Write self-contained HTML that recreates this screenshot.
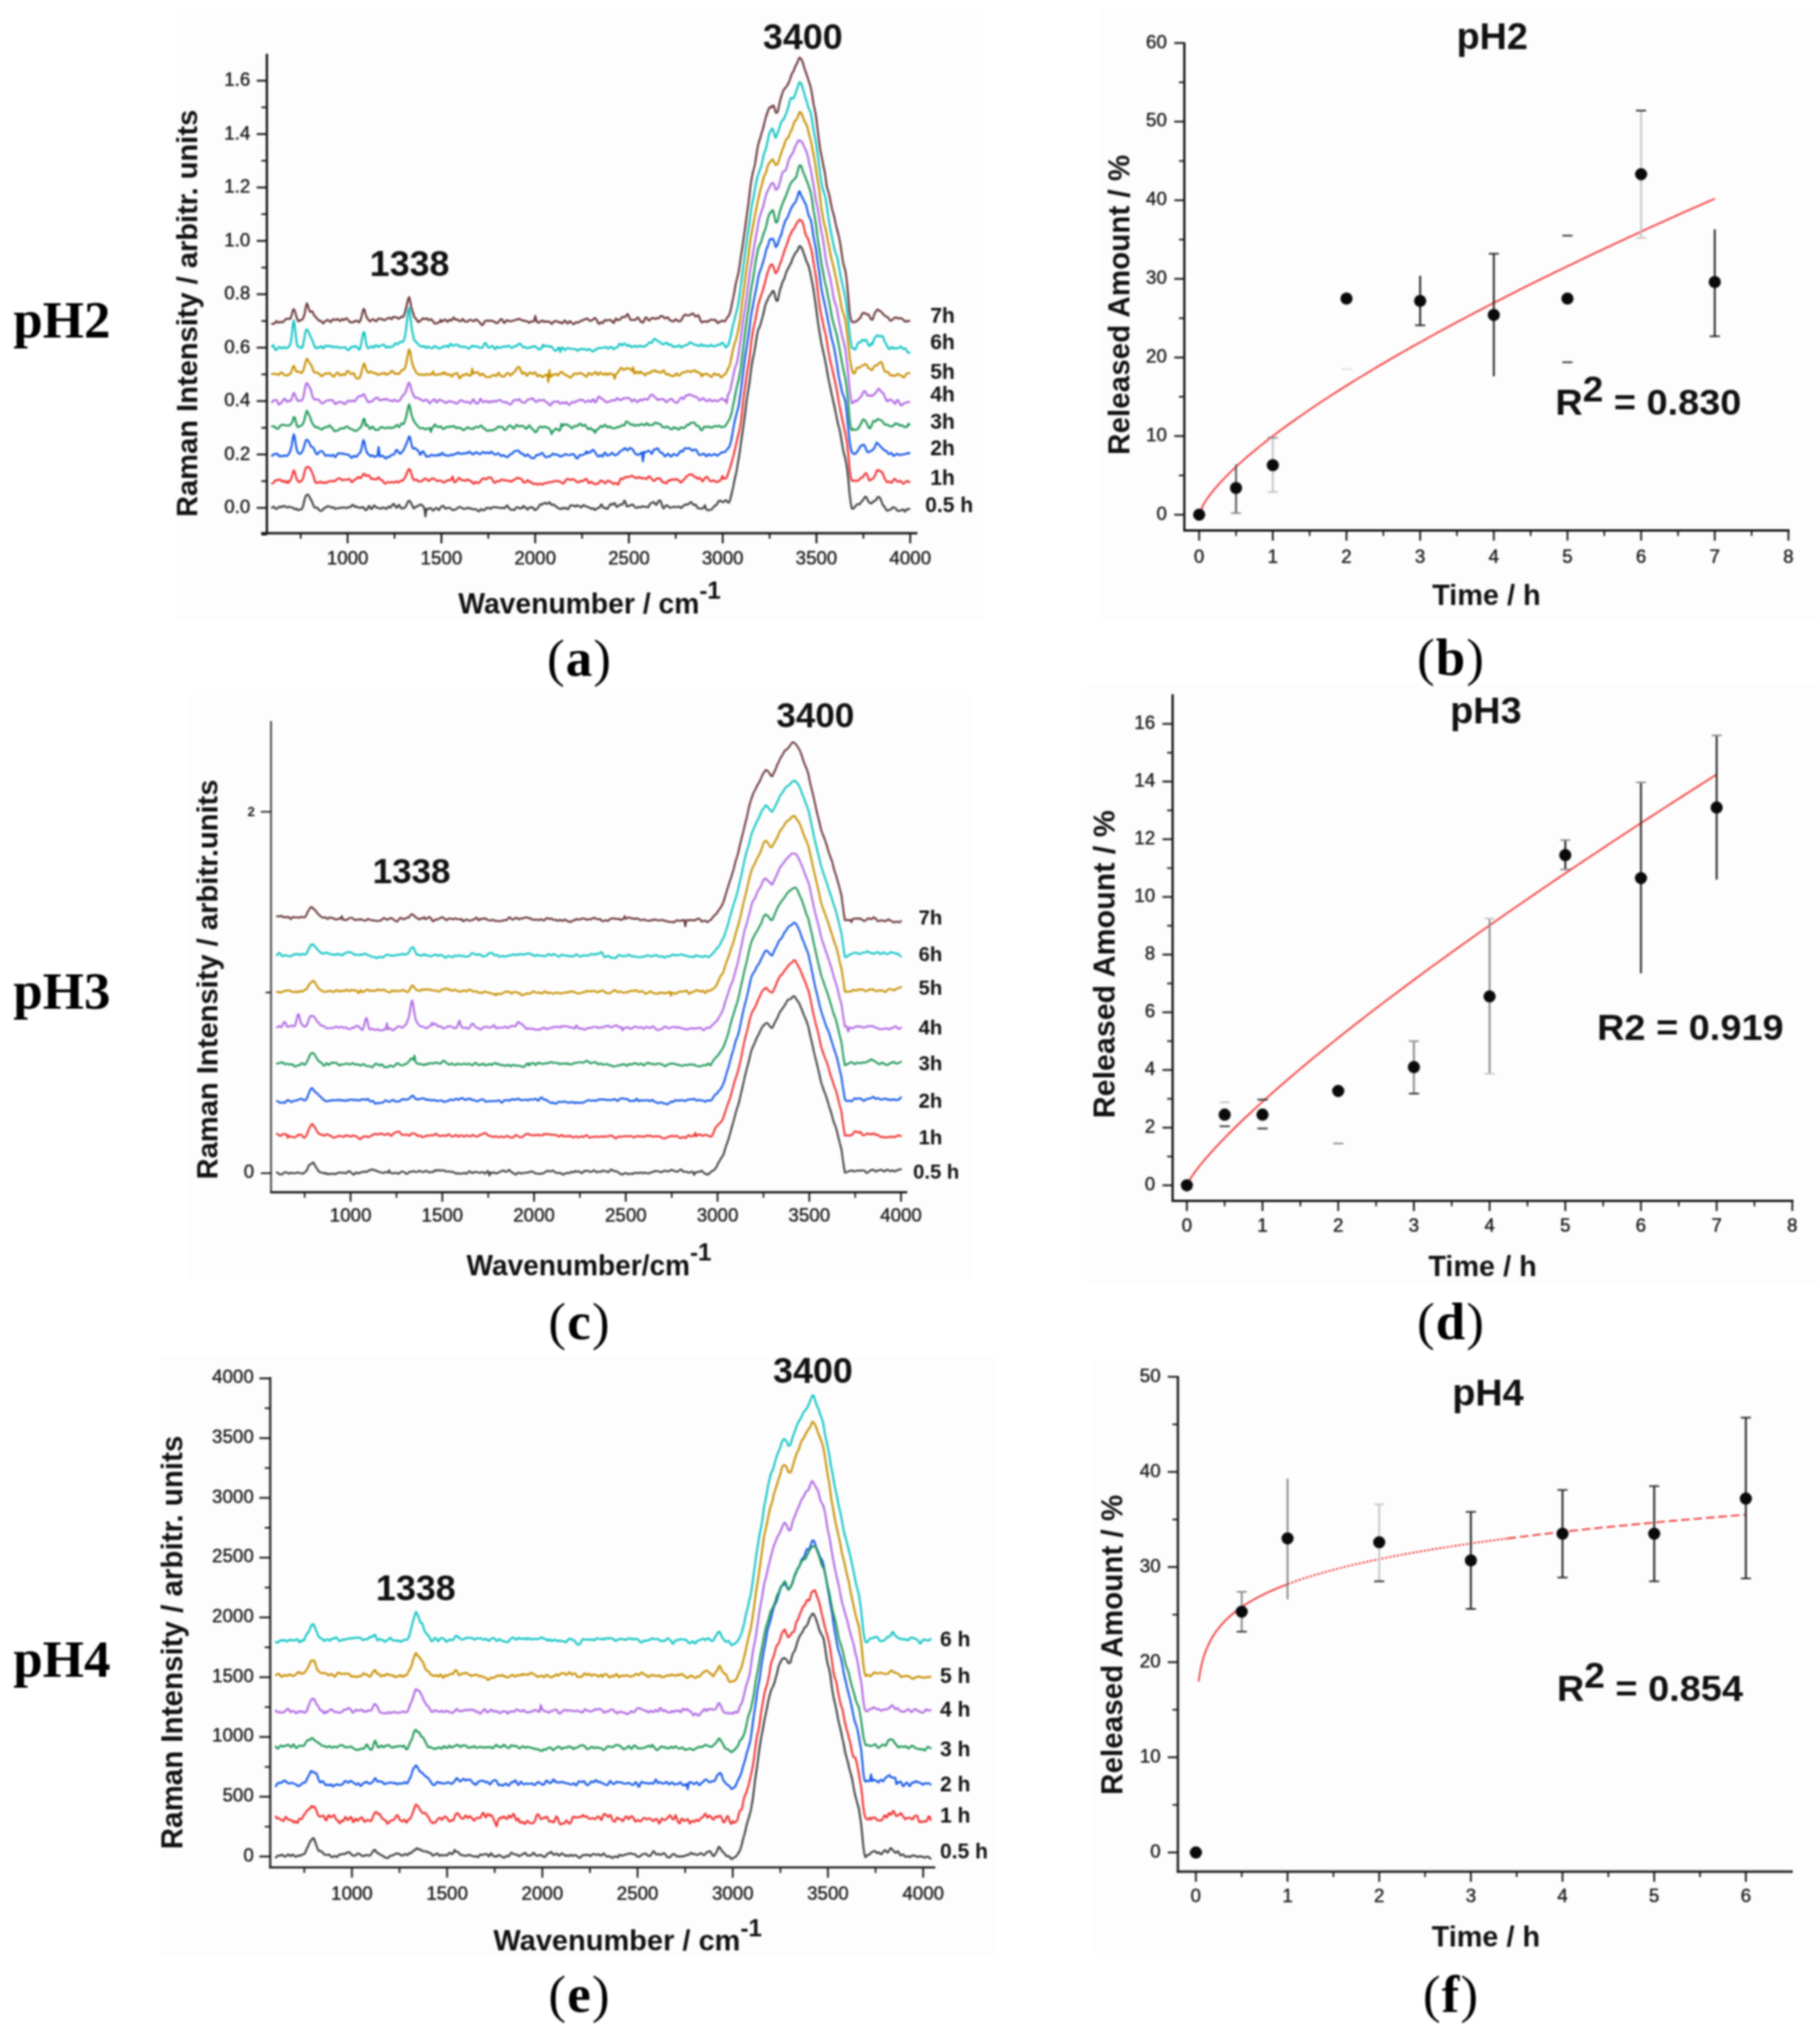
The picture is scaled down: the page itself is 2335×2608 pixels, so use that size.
<!DOCTYPE html>
<html><head><meta charset="utf-8"><title>Raman spectra and release profiles</title>
<style>
html,body{margin:0;padding:0;background:#fff}
svg{display:block}
.s{font-family:"Liberation Sans",Arial,Helvetica,sans-serif}
.r{font-family:"Liberation Serif","Times New Roman",Times,serif}
</style></head><body>
<svg width="2335" height="2608" viewBox="0 0 2335 2608">
<defs><filter id="soft" x="0" y="0" width="2335" height="2608" filterUnits="userSpaceOnUse" color-interpolation-filters="sRGB"><feGaussianBlur stdDeviation="0.8"/></filter></defs>
<rect width="2335" height="2608" fill="#ffffff"/>
<g filter="url(#soft)">
<rect x="225.0" y="13.0" width="1038.0" height="784.0" fill="#fdfdfd"/>
<rect x="1410.0" y="12.0" width="925.0" height="785.0" fill="#fdfdfd"/>
<rect x="241.0" y="891.0" width="1004.0" height="750.0" fill="#fdfdfd"/>
<rect x="1393.0" y="878.0" width="942.0" height="769.0" fill="#fdfdfd"/>
<rect x="206.0" y="1740.0" width="1073.0" height="770.0" fill="#fdfdfd"/>
<rect x="1401.0" y="1746.0" width="934.0" height="761.0" fill="#fdfdfd"/>
<line x1="342.4" y1="69.0" x2="342.4" y2="685.5" stroke="#151515" stroke-width="3.0" stroke-linecap="butt"/>
<line x1="335.0" y1="684.0" x2="1177.0" y2="684.0" stroke="#151515" stroke-width="3.0" stroke-linecap="butt"/>
<line x1="329.4" y1="651.5" x2="342.4" y2="651.5" stroke="#151515" stroke-width="2.4" stroke-linecap="butt"/>
<text class="s" x="321.0" y="658.1" font-size="24" stroke="#161616" stroke-width="0.45" text-anchor="end" fill="#161616">0.0</text>
<line x1="335.4" y1="617.2" x2="342.4" y2="617.2" stroke="#151515" stroke-width="2.2" stroke-linecap="butt"/>
<line x1="329.4" y1="583.0" x2="342.4" y2="583.0" stroke="#151515" stroke-width="2.4" stroke-linecap="butt"/>
<text class="s" x="321.0" y="589.6" font-size="24" stroke="#161616" stroke-width="0.45" text-anchor="end" fill="#161616">0.2</text>
<line x1="335.4" y1="548.8" x2="342.4" y2="548.8" stroke="#151515" stroke-width="2.2" stroke-linecap="butt"/>
<line x1="329.4" y1="514.5" x2="342.4" y2="514.5" stroke="#151515" stroke-width="2.4" stroke-linecap="butt"/>
<text class="s" x="321.0" y="521.1" font-size="24" stroke="#161616" stroke-width="0.45" text-anchor="end" fill="#161616">0.4</text>
<line x1="335.4" y1="480.2" x2="342.4" y2="480.2" stroke="#151515" stroke-width="2.2" stroke-linecap="butt"/>
<line x1="329.4" y1="446.0" x2="342.4" y2="446.0" stroke="#151515" stroke-width="2.4" stroke-linecap="butt"/>
<text class="s" x="321.0" y="452.6" font-size="24" stroke="#161616" stroke-width="0.45" text-anchor="end" fill="#161616">0.6</text>
<line x1="335.4" y1="411.8" x2="342.4" y2="411.8" stroke="#151515" stroke-width="2.2" stroke-linecap="butt"/>
<line x1="329.4" y1="377.5" x2="342.4" y2="377.5" stroke="#151515" stroke-width="2.4" stroke-linecap="butt"/>
<text class="s" x="321.0" y="384.1" font-size="24" stroke="#161616" stroke-width="0.45" text-anchor="end" fill="#161616">0.8</text>
<line x1="335.4" y1="343.2" x2="342.4" y2="343.2" stroke="#151515" stroke-width="2.2" stroke-linecap="butt"/>
<line x1="329.4" y1="309.0" x2="342.4" y2="309.0" stroke="#151515" stroke-width="2.4" stroke-linecap="butt"/>
<text class="s" x="321.0" y="315.6" font-size="24" stroke="#161616" stroke-width="0.45" text-anchor="end" fill="#161616">1.0</text>
<line x1="335.4" y1="274.7" x2="342.4" y2="274.7" stroke="#151515" stroke-width="2.2" stroke-linecap="butt"/>
<line x1="329.4" y1="240.5" x2="342.4" y2="240.5" stroke="#151515" stroke-width="2.4" stroke-linecap="butt"/>
<text class="s" x="321.0" y="247.1" font-size="24" stroke="#161616" stroke-width="0.45" text-anchor="end" fill="#161616">1.2</text>
<line x1="335.4" y1="206.2" x2="342.4" y2="206.2" stroke="#151515" stroke-width="2.2" stroke-linecap="butt"/>
<line x1="329.4" y1="172.0" x2="342.4" y2="172.0" stroke="#151515" stroke-width="2.4" stroke-linecap="butt"/>
<text class="s" x="321.0" y="178.6" font-size="24" stroke="#161616" stroke-width="0.45" text-anchor="end" fill="#161616">1.4</text>
<line x1="335.4" y1="137.7" x2="342.4" y2="137.7" stroke="#151515" stroke-width="2.2" stroke-linecap="butt"/>
<line x1="329.4" y1="103.5" x2="342.4" y2="103.5" stroke="#151515" stroke-width="2.4" stroke-linecap="butt"/>
<text class="s" x="321.0" y="110.1" font-size="24" stroke="#161616" stroke-width="0.45" text-anchor="end" fill="#161616">1.6</text>
<line x1="335.4" y1="685.8" x2="342.4" y2="685.8" stroke="#151515" stroke-width="2.2" stroke-linecap="butt"/>
<line x1="446.0" y1="684.0" x2="446.0" y2="697.0" stroke="#151515" stroke-width="2.4" stroke-linecap="butt"/>
<text class="s" x="446.0" y="724.0" font-size="24" stroke="#161616" stroke-width="0.45" text-anchor="middle" fill="#161616">1000</text>
<line x1="566.3" y1="684.0" x2="566.3" y2="697.0" stroke="#151515" stroke-width="2.4" stroke-linecap="butt"/>
<text class="s" x="566.3" y="724.0" font-size="24" stroke="#161616" stroke-width="0.45" text-anchor="middle" fill="#161616">1500</text>
<line x1="686.6" y1="684.0" x2="686.6" y2="697.0" stroke="#151515" stroke-width="2.4" stroke-linecap="butt"/>
<text class="s" x="686.6" y="724.0" font-size="24" stroke="#161616" stroke-width="0.45" text-anchor="middle" fill="#161616">2000</text>
<line x1="806.9" y1="684.0" x2="806.9" y2="697.0" stroke="#151515" stroke-width="2.4" stroke-linecap="butt"/>
<text class="s" x="806.9" y="724.0" font-size="24" stroke="#161616" stroke-width="0.45" text-anchor="middle" fill="#161616">2500</text>
<line x1="927.2" y1="684.0" x2="927.2" y2="697.0" stroke="#151515" stroke-width="2.4" stroke-linecap="butt"/>
<text class="s" x="927.2" y="724.0" font-size="24" stroke="#161616" stroke-width="0.45" text-anchor="middle" fill="#161616">3000</text>
<line x1="1047.5" y1="684.0" x2="1047.5" y2="697.0" stroke="#151515" stroke-width="2.4" stroke-linecap="butt"/>
<text class="s" x="1047.5" y="724.0" font-size="24" stroke="#161616" stroke-width="0.45" text-anchor="middle" fill="#161616">3500</text>
<line x1="1167.8" y1="684.0" x2="1167.8" y2="697.0" stroke="#151515" stroke-width="2.4" stroke-linecap="butt"/>
<text class="s" x="1167.8" y="724.0" font-size="24" stroke="#161616" stroke-width="0.45" text-anchor="middle" fill="#161616">4000</text>
<line x1="385.9" y1="684.0" x2="385.9" y2="691.0" stroke="#151515" stroke-width="2.2" stroke-linecap="butt"/>
<line x1="506.1" y1="684.0" x2="506.1" y2="691.0" stroke="#151515" stroke-width="2.2" stroke-linecap="butt"/>
<line x1="626.5" y1="684.0" x2="626.5" y2="691.0" stroke="#151515" stroke-width="2.2" stroke-linecap="butt"/>
<line x1="746.8" y1="684.0" x2="746.8" y2="691.0" stroke="#151515" stroke-width="2.2" stroke-linecap="butt"/>
<line x1="867.0" y1="684.0" x2="867.0" y2="691.0" stroke="#151515" stroke-width="2.2" stroke-linecap="butt"/>
<line x1="987.4" y1="684.0" x2="987.4" y2="691.0" stroke="#151515" stroke-width="2.2" stroke-linecap="butt"/>
<line x1="1107.7" y1="684.0" x2="1107.7" y2="691.0" stroke="#151515" stroke-width="2.2" stroke-linecap="butt"/>
<text class="s" x="252.8" y="402.0" font-size="37.3" font-weight="bold" text-anchor="middle" transform="rotate(-90 252.8 402.0)" fill="#111">Raman Intensity / arbitr. units</text>
<text class="s" x="588" y="787" font-size="36.3" font-weight="bold" fill="#111">Wavenumber / cm<tspan dy="-19" font-size="31">-1</tspan></text>
<text class="s" x="1030.0" y="62.6" font-size="46" font-weight="bold" text-anchor="middle" fill="#111">3400</text>
<text class="s" x="525.5" y="354.0" font-size="46" font-weight="bold" text-anchor="middle" fill="#111">1338</text>
<text class="s" x="1187.0" y="657.0" font-size="27" font-weight="bold" fill="#111">0.5 h</text>
<text class="s" x="1193.5" y="622.0" font-size="27" font-weight="bold" fill="#111">1h</text>
<text class="s" x="1193.5" y="584.0" font-size="27" font-weight="bold" fill="#111">2h</text>
<text class="s" x="1193.5" y="549.5" font-size="27" font-weight="bold" fill="#111">3h</text>
<text class="s" x="1193.5" y="515.0" font-size="27" font-weight="bold" fill="#111">4h</text>
<text class="s" x="1193.5" y="486.0" font-size="27" font-weight="bold" fill="#111">5h</text>
<text class="s" x="1193.5" y="448.0" font-size="27" font-weight="bold" fill="#111">6h</text>
<text class="s" x="1193.5" y="414.0" font-size="27" font-weight="bold" fill="#111">7h</text>
<polyline points="349.0,651.4 350.4,650.0 351.8,650.4 353.2,652.3 354.6,653.0 356.0,652.2 357.4,650.7 358.8,649.9 360.2,650.3 361.6,650.8 363.0,649.2 364.4,649.0 365.8,649.6 367.2,650.6 368.6,651.1 370.0,650.2 371.4,650.0 372.8,650.8 374.2,650.9 375.6,650.9 376.9,652.6 378.3,653.3 379.7,652.4 381.1,653.3 382.5,654.7 383.9,654.0 385.3,653.3 386.7,653.5 388.1,651.8 389.5,646.4 390.9,640.3 392.3,636.4 393.7,634.8 395.1,634.5 396.5,636.0 397.9,639.2 399.3,641.7 400.7,644.4 402.1,648.4 403.5,651.0 404.9,651.2 406.3,651.0 407.6,651.8 409.0,654.0 410.4,655.0 411.8,655.4 413.2,655.1 414.6,653.0 416.0,651.9 417.4,651.6 418.8,650.0 420.2,649.4 421.6,649.8 423.0,649.9 424.4,650.4 425.8,651.4 427.2,650.6 428.6,651.0 430.0,652.9 431.4,652.6 432.8,651.9 434.2,651.6 435.6,651.9 437.0,651.5 438.3,651.1 439.7,651.3 441.1,650.9 442.5,651.1 443.9,651.7 445.3,651.8 446.7,650.6 448.1,650.3 449.5,650.5 450.9,649.1 452.3,647.5 453.7,648.2 455.1,650.4 456.5,650.0 457.9,649.8 459.3,651.1 460.7,651.5 462.1,650.9 463.5,651.4 464.9,650.5 466.3,650.6 467.7,653.2 469.0,654.4 470.4,654.1 471.8,651.8 473.2,649.1 474.6,649.7 476.0,652.9 477.4,652.7 478.8,649.8 480.2,648.4 481.6,649.8 483.0,651.3 484.4,651.3 485.8,651.5 487.2,652.4 488.6,652.6 490.0,651.6 491.4,651.0 492.8,651.4 494.2,652.3 495.6,652.9 497.0,651.5 498.4,649.8 499.8,650.8 501.1,651.2 502.5,648.8 503.9,647.0 505.3,646.5 506.7,648.7 508.1,651.2 509.5,651.3 510.9,648.4 512.3,647.7 513.7,650.9 515.1,652.3 516.5,651.8 517.9,652.0 519.3,651.4 520.7,649.5 522.1,646.4 523.5,643.2 524.9,642.2 526.3,643.5 527.7,646.2 529.1,648.9 530.5,651.9 531.8,651.9 533.2,650.1 534.6,649.9 536.0,649.3 537.4,648.3 538.8,647.4 540.2,647.3 541.6,648.1 543.0,649.9 544.4,651.6 545.8,662.5 547.2,652.8 548.6,653.2 550.0,652.7 551.4,651.8 552.8,651.8 554.2,653.5 555.6,655.1 557.0,653.9 558.4,652.2 559.8,651.5 561.2,652.5 562.5,654.3 563.9,653.5 565.3,650.9 566.7,649.7 568.1,648.9 569.5,649.6 570.9,652.2 572.3,652.5 573.7,651.7 575.1,651.4 576.5,651.4 577.9,651.9 579.3,653.1 580.7,654.4 582.1,654.2 583.5,653.8 584.9,653.2 586.3,652.5 587.7,651.2 589.1,650.4 590.5,650.6 591.9,651.1 593.2,651.8 594.6,652.7 596.0,652.9 597.4,652.6 598.8,651.8 600.2,651.3 601.6,651.7 603.0,652.5 604.4,652.0 605.8,652.8 607.2,653.5 608.6,653.3 610.0,653.3 611.4,653.6 612.8,655.0 614.2,656.1 615.6,655.1 617.0,653.1 618.4,653.6 619.8,654.7 621.2,654.4 622.6,653.2 623.9,651.5 625.3,652.0 626.7,651.4 628.1,651.6 629.5,652.8 630.9,651.7 632.3,650.4 633.7,650.6 635.1,650.7 636.5,650.5 637.9,651.0 639.3,651.4 640.7,651.6 642.1,651.6 643.5,651.8 644.9,651.2 646.3,651.7 647.7,651.9 649.1,649.9 650.5,648.4 651.9,650.0 653.3,652.3 654.6,653.1 656.0,653.9 657.4,653.9 658.8,654.1 660.2,654.2 661.6,652.0 663.0,650.7 664.4,650.8 665.8,651.7 667.2,652.4 668.6,651.6 670.0,651.9 671.4,649.1 672.8,650.2 674.2,650.9 675.6,652.6 677.0,653.7 678.4,651.9 679.8,650.7 681.2,651.0 682.6,650.8 684.0,651.3 685.3,653.5 686.7,654.5 688.1,653.3 689.5,652.1 690.9,650.6 692.3,647.9 693.7,646.7 695.1,647.4 696.5,646.6 697.9,645.5 699.3,645.2 700.7,645.7 702.1,646.5 703.5,645.4 704.9,644.2 706.3,645.9 707.7,647.8 709.1,647.4 710.5,647.1 711.9,648.7 713.3,649.9 714.7,650.2 716.0,651.9 717.4,652.3 718.8,652.9 720.2,653.1 721.6,651.5 723.0,651.6 724.4,652.4 725.8,651.6 727.2,652.2 728.6,653.2 730.0,651.6 731.4,649.1 732.8,648.1 734.2,648.4 735.6,648.8 737.0,648.9 738.4,650.1 739.8,648.3 741.2,648.6 742.6,649.0 744.0,649.6 745.4,651.0 746.7,650.1 748.1,647.9 749.5,648.3 750.9,649.4 752.3,649.7 753.7,650.2 755.1,650.7 756.5,651.4 757.9,652.3 759.3,652.7 760.7,651.8 762.1,653.0 763.5,654.3 764.9,653.1 766.3,651.8 767.7,651.4 769.1,651.2 770.5,648.4 771.9,646.9 773.3,650.1 774.7,651.7 776.1,651.5 777.5,652.0 778.8,653.0 780.2,651.7 781.6,648.9 783.0,647.0 784.4,646.3 785.8,647.4 787.2,646.3 788.6,645.2 790.0,648.3 791.4,650.4 792.8,649.7 794.2,648.3 795.6,647.1 797.0,647.3 798.4,647.3 799.8,644.8 801.2,642.2 802.6,644.8 804.0,649.3 805.4,649.8 806.8,649.0 808.2,648.4 809.5,648.0 810.9,647.2 812.3,647.9 813.7,649.5 815.1,651.0 816.5,651.7 817.9,651.0 819.3,650.1 820.7,650.7 822.1,650.9 823.5,649.7 824.9,649.5 826.3,650.0 827.7,650.2 829.1,650.1 830.5,650.7 831.9,650.7 833.3,647.4 834.7,645.7 836.1,645.4 837.5,644.3 838.9,644.2 840.2,645.9 841.6,647.8 843.0,646.3 844.4,643.6 845.8,642.0 847.2,642.3 848.6,645.4 850.0,650.3 851.4,652.2 852.8,650.2 854.2,648.7 855.6,648.3 857.0,649.1 858.4,650.4 859.8,651.5 861.2,650.9 862.6,650.6 864.0,650.2 865.4,650.1 866.8,650.5 868.2,650.6 869.6,650.3 870.9,649.9 872.3,650.5 873.7,651.7 875.1,650.9 876.5,648.8 877.9,648.2 879.3,647.3 880.7,647.0 882.1,647.3 883.5,646.6 884.9,645.0 886.3,644.0 887.7,644.9 889.1,647.2 890.5,648.0 891.9,647.3 893.3,648.2 894.7,651.4 896.1,652.0 897.5,652.0 898.9,652.4 900.3,652.7 901.6,651.8 903.0,650.9 904.4,648.1 905.8,653.1 907.2,654.1 908.6,654.8 910.0,654.2 911.4,653.9 912.8,653.6 914.2,652.2 915.6,650.5 917.0,648.8 918.4,648.3 919.8,646.9 921.2,644.1 922.6,642.4 924.0,642.1 925.4,642.9 926.8,644.0 928.2,644.2 929.6,642.9 931.0,641.5 932.3,642.4 933.7,644.4 935.1,644.8 936.5,642.2 937.9,636.4 939.3,630.8 940.7,624.4 942.1,616.9 943.5,611.0 944.9,605.0 946.3,596.1 947.7,588.4 949.1,579.8 950.5,568.9 951.9,559.5 953.3,550.0 954.7,540.1 956.1,529.6 957.5,517.4 958.9,507.3 960.3,498.8 961.7,489.6 963.0,479.7 964.4,468.5 965.8,460.5 967.2,454.7 968.6,446.9 970.0,437.8 971.4,429.2 972.8,422.7 974.2,420.3 975.6,416.6 977.0,411.3 978.4,406.5 979.8,400.9 981.2,394.1 982.6,389.1 984.0,386.3 985.4,383.2 986.8,379.9 988.2,378.6 989.6,376.4 991.0,373.5 992.4,373.3 993.7,376.8 995.1,383.4 996.5,386.0 997.9,385.6 999.3,378.4 1000.7,371.8 1002.1,368.0 1003.5,363.1 1004.9,359.7 1006.3,357.5 1007.7,352.5 1009.1,348.0 1010.5,345.7 1011.9,343.0 1013.3,340.0 1014.7,338.0 1016.1,333.9 1017.5,330.1 1018.9,327.8 1020.3,324.7 1021.7,323.2 1023.1,321.6 1024.5,317.8 1025.8,315.6 1027.2,316.1 1028.6,318.2 1030.0,321.4 1031.4,325.6 1032.8,329.6 1034.2,334.0 1035.6,337.4 1037.0,340.2 1038.4,345.1 1039.8,351.1 1041.2,358.8 1042.6,365.4 1044.0,373.8 1045.4,383.7 1046.8,393.3 1048.2,404.0 1049.6,414.6 1051.0,423.6 1052.4,431.9 1053.8,440.3 1055.2,447.0 1056.5,452.5 1057.9,458.8 1059.3,466.0 1060.7,473.5 1062.1,481.7 1063.5,489.0 1064.9,495.5 1066.3,502.3 1067.7,508.8 1069.1,515.4 1070.5,520.9 1071.9,528.0 1073.3,535.1 1074.7,541.9 1076.1,547.2 1077.5,552.8 1078.9,560.3 1080.3,569.0 1081.7,577.2 1083.1,583.1 1084.5,587.8 1085.9,595.8 1087.2,604.4 1088.6,617.4 1090.0,633.4 1091.4,644.9 1092.8,652.1 1094.2,652.8 1095.6,651.9 1097.0,649.9 1098.4,648.4 1099.8,647.0 1101.2,646.6 1102.6,647.1 1104.0,645.5 1105.4,643.2 1106.8,642.2 1108.2,640.0 1109.6,637.5 1111.0,637.2 1112.4,639.4 1113.8,642.7 1115.2,644.7 1116.6,645.3 1117.9,646.0 1119.3,644.8 1120.7,643.0 1122.1,642.8 1123.5,641.9 1124.9,639.5 1126.3,637.6 1127.7,637.5 1129.1,638.9 1130.5,641.9 1131.9,646.2 1133.3,648.6 1134.7,650.0 1136.1,652.5 1137.5,654.7 1138.9,655.1 1140.3,654.5 1141.7,653.8 1143.1,653.5 1144.5,651.7 1145.9,650.5 1147.3,651.2 1148.6,651.6 1150.0,653.3 1151.4,655.2 1152.8,655.6 1154.2,655.2 1155.6,654.5 1157.0,654.5 1158.4,653.5 1159.8,654.7 1161.2,656.4 1162.6,654.2 1164.0,652.8 1165.4,653.5 1166.8,652.8" fill="none" stroke="#404040" stroke-width="2.5" stroke-linejoin="round" stroke-linecap="round"/>
<polyline points="349.0,620.3 350.4,619.7 351.8,618.3 353.2,616.1 354.6,616.0 356.0,616.1 357.4,615.4 358.8,615.1 360.2,615.7 361.6,617.4 363.0,617.9 364.4,616.8 365.8,618.0 367.2,619.4 368.6,617.3 370.0,619.2 371.4,617.6 372.8,615.5 374.2,612.2 375.6,606.7 376.9,603.5 378.3,605.7 379.7,611.9 381.1,615.6 382.5,617.1 383.9,618.5 385.3,617.9 386.7,616.8 388.1,615.4 389.5,611.1 390.9,604.8 392.3,600.3 393.7,598.9 395.1,599.1 396.5,599.5 397.9,600.9 399.3,603.7 400.7,606.7 402.1,610.3 403.5,615.5 404.9,619.0 406.3,619.5 407.6,618.7 409.0,619.3 410.4,618.3 411.8,617.7 413.2,619.3 414.6,619.7 416.0,618.9 417.4,618.8 418.8,619.6 420.2,618.6 421.6,617.5 423.0,617.7 424.4,617.4 425.8,616.8 427.2,617.2 428.6,617.6 430.0,616.8 431.4,615.5 432.8,614.7 434.2,613.9 435.6,613.6 437.0,614.1 438.3,615.6 439.7,616.0 441.1,615.6 442.5,615.3 443.9,615.2 445.3,615.5 446.7,614.8 448.1,614.2 449.5,615.8 450.9,618.3 452.3,618.3 453.7,616.3 455.1,615.4 456.5,614.7 457.9,613.6 459.3,612.0 460.7,612.3 462.1,613.6 463.5,612.4 464.9,610.1 466.3,608.0 467.7,607.8 469.0,610.1 470.4,610.8 471.8,609.6 473.2,609.8 474.6,611.5 476.0,613.9 477.4,614.7 478.8,613.9 480.2,614.4 481.6,615.1 483.0,615.1 484.4,613.5 485.8,612.3 487.2,614.1 488.6,615.6 490.0,616.0 491.4,617.1 492.8,619.5 494.2,620.5 495.6,619.5 497.0,618.6 498.4,618.8 499.8,619.1 501.1,618.8 502.5,618.2 503.9,618.5 505.3,619.3 506.7,618.5 508.1,617.4 509.5,618.1 510.9,619.1 512.3,618.3 513.7,616.9 515.1,616.5 516.5,616.7 517.9,615.1 519.3,613.3 520.7,610.4 522.1,606.7 523.5,603.3 524.9,601.6 526.3,603.3 527.7,607.2 529.1,612.0 530.5,615.4 531.8,616.1 533.2,615.2 534.6,615.3 536.0,617.0 537.4,617.8 538.8,617.5 540.2,617.3 541.6,617.0 543.0,615.6 544.4,614.1 545.8,613.7 547.2,614.6 548.6,616.1 550.0,616.8 551.4,616.3 552.8,614.6 554.2,613.8 555.6,614.0 557.0,614.1 558.4,615.3 559.8,616.6 561.2,617.0 562.5,616.5 563.9,616.6 565.3,616.7 566.7,617.1 568.1,618.4 569.5,619.2 570.9,618.4 572.3,617.3 573.7,616.4 575.1,615.8 576.5,616.2 577.9,615.8 579.3,614.4 580.7,611.2 582.1,617.4 583.5,618.8 584.9,618.0 586.3,616.1 587.7,613.9 589.1,613.0 590.5,614.6 591.9,615.7 593.2,616.0 594.6,616.0 596.0,616.6 597.4,616.7 598.8,615.5 600.2,615.2 601.6,615.7 603.0,617.0 604.4,617.4 605.8,618.3 607.2,620.5 608.6,620.2 610.0,618.2 611.4,618.5 612.8,619.9 614.2,619.6 615.6,618.5 617.0,616.5 618.4,614.5 619.8,614.0 621.2,613.4 622.6,614.6 623.9,615.0 625.3,613.4 626.7,612.7 628.1,612.5 629.5,612.6 630.9,613.8 632.3,616.1 633.7,619.0 635.1,619.3 636.5,617.9 637.9,617.3 639.3,617.4 640.7,617.6 642.1,616.0 643.5,614.9 644.9,615.6 646.3,616.2 647.7,616.1 649.1,616.0 650.5,616.6 651.9,617.1 653.3,616.8 654.6,617.2 656.0,618.0 657.4,616.9 658.8,615.8 660.2,615.3 661.6,614.6 663.0,613.1 664.4,612.8 665.8,613.7 667.2,613.8 668.6,614.1 670.0,615.8 671.4,618.4 672.8,619.3 674.2,618.6 675.6,617.3 677.0,615.8 678.4,617.4 679.8,618.4 681.2,618.0 682.6,619.5 684.0,621.0 685.3,620.4 686.7,620.2 688.1,620.8 689.5,621.6 690.9,621.3 692.3,620.4 693.7,620.6 695.1,621.4 696.5,621.4 697.9,620.6 699.3,619.6 700.7,619.6 702.1,619.8 703.5,618.9 704.9,618.6 706.3,618.4 707.7,618.4 709.1,617.8 710.5,617.5 711.9,617.3 713.3,616.9 714.7,616.9 716.0,617.1 717.4,617.7 718.8,618.3 720.2,618.7 721.6,620.1 723.0,620.2 724.4,618.2 725.8,616.1 727.2,614.6 728.6,614.3 730.0,615.0 731.4,615.8 732.8,615.3 734.2,614.5 735.6,614.9 737.0,615.7 738.4,616.8 739.8,618.1 741.2,618.8 742.6,618.5 744.0,617.2 745.4,617.1 746.7,617.3 748.1,616.8 749.5,616.2 750.9,614.7 752.3,614.2 753.7,616.6 755.1,619.5 756.5,619.8 757.9,617.8 759.3,618.5 760.7,619.9 762.1,620.1 763.5,621.2 764.9,621.1 766.3,620.3 767.7,620.0 769.1,618.6 770.5,616.4 771.9,616.8 773.3,617.6 774.7,618.7 776.1,620.0 777.5,619.2 778.8,617.4 780.2,616.7 781.6,617.5 783.0,618.0 784.4,618.6 785.8,619.7 787.2,621.0 788.6,619.9 790.0,619.5 791.4,620.8 792.8,621.8 794.2,619.5 795.6,615.4 797.0,613.4 798.4,614.7 799.8,614.6 801.2,612.6 802.6,611.8 804.0,612.0 805.4,612.1 806.8,611.9 808.2,611.3 809.5,610.6 810.9,610.3 812.3,611.2 813.7,612.2 815.1,612.8 816.5,613.2 817.9,613.3 819.3,612.0 820.7,612.1 822.1,613.0 823.5,613.9 824.9,613.3 826.3,613.2 827.7,614.0 829.1,614.6 830.5,613.5 831.9,611.2 833.3,611.2 834.7,612.8 836.1,614.2 837.5,615.8 838.9,617.0 840.2,616.4 841.6,614.6 843.0,613.8 844.4,614.0 845.8,613.5 847.2,614.1 848.6,616.5 850.0,618.7 851.4,618.6 852.8,618.7 854.2,620.2 855.6,619.7 857.0,616.7 858.4,616.2 859.8,616.5 861.2,615.2 862.6,614.8 864.0,615.5 865.4,615.6 866.8,614.7 868.2,614.3 869.6,615.6 870.9,616.5 872.3,617.7 873.7,619.3 875.1,617.9 876.5,616.1 877.9,614.7 879.3,613.1 880.7,611.4 882.1,610.1 883.5,609.4 884.9,608.8 886.3,608.5 887.7,608.8 889.1,609.6 890.5,611.4 891.9,611.7 893.3,612.4 894.7,614.2 896.1,613.9 897.5,612.8 898.9,614.0 900.3,616.5 901.6,617.5 903.0,615.1 904.4,613.2 905.8,612.1 907.2,611.8 908.6,613.8 910.0,615.9 911.4,617.1 912.8,617.2 914.2,616.7 915.6,616.2 917.0,617.0 918.4,618.5 919.8,618.3 921.2,617.4 922.6,617.6 924.0,616.2 925.4,614.4 926.8,610.5 928.2,614.1 929.6,613.5 931.0,613.9 932.3,612.5 933.7,609.1 935.1,604.7 936.5,600.8 937.9,595.4 939.3,591.0 940.7,586.0 942.1,580.1 943.5,574.0 944.9,567.9 946.3,561.3 947.7,556.2 949.1,549.8 950.5,542.0 951.9,530.0 953.3,516.2 954.7,505.1 956.1,495.1 957.5,484.8 958.9,475.2 960.3,467.3 961.7,458.4 963.0,447.1 964.4,434.9 965.8,426.0 967.2,418.8 968.6,412.8 970.0,406.1 971.4,398.0 972.8,390.8 974.2,386.1 975.6,381.7 977.0,377.6 978.4,373.3 979.8,368.7 981.2,363.6 982.6,357.8 984.0,352.3 985.4,347.9 986.8,344.4 988.2,340.7 989.6,339.2 991.0,339.5 992.4,343.1 993.7,346.7 995.1,350.6 996.5,349.1 997.9,347.1 999.3,342.6 1000.7,338.4 1002.1,335.2 1003.5,331.1 1004.9,326.4 1006.3,321.9 1007.7,318.3 1009.1,314.7 1010.5,310.6 1011.9,306.3 1013.3,302.2 1014.7,299.9 1016.1,296.6 1017.5,294.2 1018.9,293.3 1020.3,290.5 1021.7,287.3 1023.1,285.0 1024.5,283.3 1025.8,281.9 1027.2,282.6 1028.6,283.4 1030.0,285.9 1031.4,291.4 1032.8,297.8 1034.2,302.1 1035.6,304.6 1037.0,307.1 1038.4,312.1 1039.8,316.4 1041.2,321.8 1042.6,329.3 1044.0,338.3 1045.4,346.9 1046.8,354.7 1048.2,365.8 1049.6,378.5 1051.0,388.9 1052.4,397.8 1053.8,405.1 1055.2,410.9 1056.5,418.2 1057.9,424.0 1059.3,429.0 1060.7,437.2 1062.1,446.1 1063.5,454.1 1064.9,461.6 1066.3,467.5 1067.7,473.2 1069.1,479.9 1070.5,485.8 1071.9,492.3 1073.3,498.9 1074.7,506.8 1076.1,515.4 1077.5,523.1 1078.9,529.7 1080.3,536.5 1081.7,543.0 1083.1,549.7 1084.5,555.4 1085.9,563.4 1087.2,572.4 1088.6,585.5 1090.0,601.7 1091.4,611.8 1092.8,616.6 1094.2,616.8 1095.6,616.5 1097.0,616.8 1098.4,617.0 1099.8,617.0 1101.2,616.1 1102.6,615.3 1104.0,613.5 1105.4,612.5 1106.8,612.4 1108.2,610.5 1109.6,607.7 1111.0,607.2 1112.4,608.7 1113.8,612.6 1115.2,616.3 1116.6,615.9 1117.9,615.2 1119.3,614.5 1120.7,613.0 1122.1,611.1 1123.5,607.9 1124.9,604.0 1126.3,602.9 1127.7,603.8 1129.1,603.9 1130.5,605.4 1131.9,606.0 1133.3,609.5 1134.7,613.1 1136.1,615.6 1137.5,617.9 1138.9,618.7 1140.3,617.7 1141.7,618.1 1143.1,619.2 1144.5,618.8 1145.9,616.2 1147.3,614.2 1148.6,614.7 1150.0,616.3 1151.4,618.0 1152.8,617.9 1154.2,617.1 1155.6,617.0 1157.0,618.8 1158.4,620.4 1159.8,620.1 1161.2,618.8 1162.6,617.2 1164.0,617.1 1165.4,618.0 1166.8,618.5" fill="none" stroke="#f03030" stroke-width="2.5" stroke-linejoin="round" stroke-linecap="round"/>
<polyline points="349.0,584.7 350.4,583.5 351.8,582.4 353.2,582.7 354.6,582.1 356.0,582.1 357.4,584.4 358.8,585.5 360.2,584.6 361.6,585.2 363.0,585.2 364.4,584.3 365.8,584.2 367.2,585.0 368.6,584.7 370.0,582.9 371.4,580.8 372.8,577.4 374.2,571.8 375.6,562.6 376.9,557.2 378.3,561.6 379.7,571.5 381.1,578.3 382.5,580.6 383.9,582.0 385.3,582.0 386.7,580.9 388.1,578.7 389.5,574.9 390.9,570.2 392.3,565.0 393.7,564.0 395.1,565.1 396.5,567.1 397.9,570.6 399.3,573.1 400.7,573.5 402.1,574.3 403.5,577.4 404.9,580.8 406.3,582.9 407.6,582.5 409.0,580.3 410.4,579.1 411.8,578.7 413.2,578.8 414.6,580.1 416.0,582.6 417.4,584.4 418.8,584.6 420.2,584.0 421.6,583.8 423.0,584.5 424.4,585.2 425.8,584.1 427.2,583.2 428.6,584.8 430.0,586.5 431.4,584.8 432.8,582.7 434.2,581.5 435.6,581.5 437.0,581.7 438.3,582.2 439.7,582.0 441.1,581.9 442.5,582.8 443.9,583.1 445.3,583.0 446.7,583.2 448.1,584.1 449.5,585.7 450.9,587.5 452.3,586.6 453.7,584.9 455.1,585.0 456.5,586.1 457.9,585.5 459.3,583.4 460.7,581.8 462.1,580.5 463.5,577.2 464.9,570.1 466.3,564.4 467.7,567.7 469.0,575.2 470.4,579.6 471.8,582.0 473.2,583.1 474.6,584.8 476.0,585.2 477.4,583.9 478.8,584.9 480.2,586.1 481.6,585.2 483.0,585.5 484.4,583.8 485.8,573.4 487.2,585.5 488.6,585.4 490.0,584.7 491.4,584.8 492.8,586.2 494.2,588.0 495.6,588.0 497.0,586.1 498.4,586.3 499.8,586.1 501.1,584.5 502.5,583.4 503.9,583.3 505.3,583.1 506.7,580.9 508.1,577.6 509.5,577.1 510.9,579.4 512.3,581.2 513.7,582.2 515.1,580.7 516.5,578.9 517.9,577.3 519.3,573.9 520.7,570.7 522.1,567.7 523.5,563.7 524.9,559.6 526.3,561.7 527.7,568.8 529.1,574.4 530.5,575.5 531.8,574.7 533.2,575.4 534.6,576.8 536.0,577.8 537.4,579.8 538.8,583.3 540.2,582.6 541.6,579.3 543.0,579.1 544.4,581.2 545.8,583.8 547.2,585.7 548.6,585.5 550.0,585.4 551.4,585.2 552.8,583.6 554.2,583.5 555.6,584.3 557.0,584.1 558.4,584.3 559.8,584.6 561.2,583.8 562.5,582.9 563.9,584.3 565.3,583.5 566.7,581.1 568.1,581.2 569.5,583.5 570.9,584.0 572.3,583.7 573.7,584.4 575.1,584.8 576.5,584.4 577.9,583.5 579.3,583.3 580.7,584.0 582.1,583.0 583.5,582.5 584.9,582.2 586.3,581.2 587.7,580.6 589.1,581.9 590.5,581.8 591.9,582.2 593.2,582.2 594.6,581.5 596.0,581.9 597.4,581.3 598.8,581.1 600.2,581.2 601.6,579.6 603.0,579.7 604.4,581.4 605.8,582.5 607.2,582.9 608.6,581.9 610.0,580.5 611.4,580.2 612.8,581.1 614.2,582.2 615.6,582.6 617.0,582.1 618.4,580.7 619.8,579.7 621.2,580.5 622.6,581.4 623.9,581.2 625.3,580.4 626.7,581.2 628.1,581.8 629.5,580.0 630.9,579.5 632.3,581.1 633.7,582.4 635.1,583.1 636.5,583.2 637.9,581.9 639.3,581.4 640.7,582.7 642.1,584.4 643.5,585.0 644.9,584.2 646.3,583.8 647.7,585.2 649.1,585.9 650.5,586.4 651.9,586.0 653.3,583.9 654.6,582.8 656.0,582.8 657.4,581.3 658.8,579.9 660.2,579.0 661.6,578.4 663.0,578.4 664.4,577.8 665.8,578.7 667.2,580.4 668.6,581.9 670.0,581.7 671.4,582.6 672.8,584.5 674.2,585.2 675.6,584.0 677.0,582.9 678.4,583.9 679.8,585.8 681.2,587.2 682.6,587.6 684.0,587.7 685.3,587.7 686.7,585.9 688.1,583.7 689.5,583.5 690.9,583.8 692.3,583.2 693.7,581.8 695.1,581.0 696.5,581.7 697.9,584.3 699.3,586.1 700.7,586.5 702.1,586.3 703.5,585.5 704.9,585.3 706.3,585.1 707.7,583.6 709.1,581.9 710.5,582.1 711.9,583.3 713.3,583.4 714.7,583.0 716.0,583.4 717.4,585.0 718.8,585.7 720.2,584.9 721.6,584.7 723.0,584.2 724.4,583.1 725.8,582.5 727.2,583.2 728.6,583.6 730.0,583.9 731.4,583.7 732.8,582.8 734.2,582.8 735.6,582.6 737.0,583.6 738.4,586.2 739.8,588.1 741.2,588.0 742.6,585.1 744.0,583.6 745.4,584.0 746.7,583.9 748.1,583.3 749.5,582.7 750.9,581.9 752.3,579.0 753.7,581.6 755.1,580.1 756.5,580.1 757.9,580.2 759.3,578.0 760.7,576.9 762.1,578.1 763.5,580.1 764.9,582.6 766.3,584.6 767.7,585.6 769.1,584.7 770.5,583.8 771.9,585.2 773.3,585.4 774.7,582.4 776.1,580.6 777.5,582.1 778.8,584.3 780.2,584.1 781.6,583.9 783.0,583.0 784.4,581.2 785.8,580.9 787.2,582.7 788.6,583.9 790.0,583.9 791.4,583.0 792.8,582.4 794.2,580.9 795.6,578.9 797.0,578.3 798.4,577.7 799.8,576.5 801.2,575.1 802.6,575.1 804.0,577.4 805.4,577.9 806.8,575.9 808.2,574.7 809.5,574.9 810.9,576.0 812.3,577.4 813.7,580.0 815.1,582.0 816.5,582.5 817.9,583.6 819.3,583.6 820.7,582.3 822.1,581.4 823.5,580.6 824.9,591.8 826.3,579.5 827.7,580.2 829.1,579.9 830.5,579.0 831.9,578.1 833.3,578.6 834.7,580.2 836.1,582.2 837.5,580.1 838.9,576.7 840.2,576.4 841.6,576.4 843.0,575.1 844.4,575.4 845.8,578.6 847.2,580.4 848.6,580.8 850.0,581.3 851.4,583.4 852.8,585.4 854.2,585.0 855.6,583.0 857.0,582.1 858.4,583.1 859.8,585.2 861.2,585.6 862.6,584.1 864.0,582.6 865.4,582.7 866.8,583.9 868.2,584.4 869.6,583.4 870.9,581.9 872.3,579.5 873.7,578.2 875.1,579.2 876.5,578.7 877.9,575.7 879.3,574.9 880.7,575.1 882.1,575.2 883.5,575.1 884.9,575.2 886.3,576.2 887.7,577.9 889.1,577.9 890.5,577.0 891.9,576.8 893.3,577.3 894.7,579.4 896.1,582.5 897.5,583.7 898.9,583.5 900.3,583.1 901.6,582.3 903.0,581.8 904.4,583.4 905.8,585.2 907.2,584.8 908.6,582.7 910.0,582.8 911.4,584.0 912.8,584.3 914.2,583.7 915.6,582.8 917.0,582.4 918.4,583.7 919.8,584.5 921.2,584.0 922.6,582.7 924.0,581.7 925.4,580.7 926.8,580.2 928.2,580.1 929.6,579.8 931.0,579.1 932.3,577.1 933.7,575.5 935.1,574.1 936.5,571.1 937.9,565.7 939.3,559.1 940.7,550.2 942.1,542.6 943.5,536.9 944.9,531.3 946.3,525.8 947.7,520.8 949.1,511.0 950.5,501.4 951.9,490.0 953.3,478.4 954.7,467.4 956.1,457.0 957.5,447.6 958.9,439.0 960.3,429.8 961.7,419.5 963.0,408.9 964.4,399.8 965.8,393.0 967.2,384.9 968.6,378.1 970.0,371.2 971.4,363.8 972.8,355.9 974.2,350.3 975.6,346.6 977.0,342.9 978.4,338.1 979.8,333.5 981.2,328.2 982.6,322.0 984.0,317.9 985.4,315.0 986.8,309.4 988.2,306.7 989.6,307.1 991.0,306.0 992.4,307.6 993.7,311.2 995.1,317.0 996.5,315.7 997.9,312.9 999.3,308.1 1000.7,304.4 1002.1,301.9 1003.5,296.6 1004.9,291.2 1006.3,286.8 1007.7,283.0 1009.1,280.7 1010.5,278.6 1011.9,275.1 1013.3,271.5 1014.7,267.9 1016.1,265.3 1017.5,263.0 1018.9,261.1 1020.3,259.8 1021.7,256.8 1023.1,252.5 1024.5,247.1 1025.8,245.3 1027.2,248.9 1028.6,252.1 1030.0,254.4 1031.4,257.7 1032.8,260.4 1034.2,263.0 1035.6,269.0 1037.0,275.0 1038.4,278.6 1039.8,280.9 1041.2,287.1 1042.6,296.2 1044.0,305.6 1045.4,312.4 1046.8,319.3 1048.2,329.9 1049.6,339.7 1051.0,348.6 1052.4,359.6 1053.8,370.1 1055.2,377.4 1056.5,383.2 1057.9,389.2 1059.3,395.8 1060.7,402.8 1062.1,409.9 1063.5,416.8 1064.9,424.0 1066.3,431.1 1067.7,436.9 1069.1,441.6 1070.5,447.9 1071.9,456.0 1073.3,464.4 1074.7,473.2 1076.1,482.8 1077.5,489.4 1078.9,495.9 1080.3,502.7 1081.7,506.9 1083.1,510.1 1084.5,514.5 1085.9,525.7 1087.2,539.0 1088.6,552.8 1090.0,566.0 1091.4,574.6 1092.8,580.0 1094.2,581.4 1095.6,582.6 1097.0,582.4 1098.4,581.0 1099.8,579.2 1101.2,577.2 1102.6,574.8 1104.0,572.3 1105.4,571.6 1106.8,571.0 1108.2,570.5 1109.6,572.0 1111.0,575.9 1112.4,579.4 1113.8,580.3 1115.2,579.4 1116.6,578.8 1117.9,578.5 1119.3,577.3 1120.7,576.1 1122.1,574.4 1123.5,570.1 1124.9,567.8 1126.3,569.0 1127.7,570.6 1129.1,571.9 1130.5,573.7 1131.9,574.9 1133.3,576.5 1134.7,577.9 1136.1,578.2 1137.5,578.7 1138.9,581.1 1140.3,582.4 1141.7,582.1 1143.1,580.9 1144.5,581.9 1145.9,584.6 1147.3,584.7 1148.6,583.3 1150.0,582.7 1151.4,582.2 1152.8,582.8 1154.2,583.9 1155.6,583.6 1157.0,582.9 1158.4,583.0 1159.8,582.9 1161.2,582.5 1162.6,581.8 1164.0,581.2 1165.4,581.8 1166.8,581.1" fill="none" stroke="#1558e6" stroke-width="2.5" stroke-linejoin="round" stroke-linecap="round"/>
<polyline points="349.0,547.0 350.4,547.0 351.8,546.8 353.2,548.2 354.6,550.0 356.0,550.1 357.4,549.4 358.8,547.2 360.2,545.7 361.6,545.2 363.0,544.8 364.4,545.2 365.8,545.4 367.2,545.6 368.6,545.9 370.0,546.0 371.4,545.6 372.8,544.3 374.2,543.1 375.6,539.4 376.9,535.1 378.3,535.6 379.7,541.6 381.1,546.7 382.5,548.0 383.9,547.2 385.3,546.4 386.7,545.7 388.1,544.7 389.5,541.8 390.9,537.3 392.3,530.6 393.7,526.9 395.1,529.5 396.5,532.5 397.9,535.3 399.3,539.6 400.7,542.9 402.1,545.1 403.5,546.9 404.9,548.2 406.3,547.7 407.6,548.2 409.0,549.2 410.4,549.8 411.8,550.8 413.2,551.1 414.6,549.3 416.0,548.6 417.4,548.0 418.8,548.0 420.2,547.8 421.6,546.4 423.0,545.7 424.4,547.4 425.8,548.9 427.2,550.3 428.6,552.6 430.0,553.0 431.4,552.5 432.8,552.4 434.2,551.9 435.6,550.4 437.0,549.8 438.3,549.5 439.7,549.2 441.1,549.4 442.5,548.9 443.9,547.4 445.3,547.0 446.7,547.8 448.1,549.5 449.5,550.2 450.9,550.4 452.3,551.0 453.7,551.7 455.1,552.8 456.5,552.8 457.9,552.2 459.3,551.3 460.7,549.8 462.1,548.7 463.5,547.0 464.9,542.6 466.3,537.6 467.7,537.4 469.0,546.1 470.4,544.7 471.8,545.8 473.2,548.4 474.6,550.2 476.0,549.2 477.4,547.3 478.8,547.8 480.2,550.1 481.6,551.6 483.0,551.1 484.4,551.5 485.8,551.4 487.2,549.2 488.6,548.1 490.0,547.8 491.4,548.4 492.8,549.1 494.2,549.5 495.6,549.1 497.0,548.7 498.4,548.2 499.8,548.6 501.1,549.4 502.5,548.8 503.9,548.5 505.3,548.6 506.7,547.6 508.1,545.7 509.5,545.2 510.9,547.0 512.3,548.0 513.7,545.2 515.1,543.1 516.5,544.0 517.9,543.8 519.3,540.7 520.7,536.0 522.1,529.9 523.5,523.0 524.9,518.8 526.3,523.4 527.7,531.1 529.1,535.7 530.5,539.0 531.8,541.2 533.2,543.2 534.6,545.0 536.0,546.5 537.4,548.2 538.8,549.3 540.2,549.4 541.6,549.1 543.0,548.9 544.4,549.9 545.8,551.0 547.2,550.3 548.6,549.9 550.0,549.5 551.4,549.2 552.8,554.2 554.2,548.9 555.6,548.4 557.0,545.6 558.4,544.5 559.8,546.3 561.2,548.0 562.5,547.9 563.9,547.3 565.3,546.8 566.7,548.4 568.1,550.1 569.5,550.3 570.9,549.3 572.3,548.0 573.7,547.7 575.1,547.8 576.5,547.6 577.9,546.9 579.3,547.3 580.7,547.0 582.1,546.4 583.5,547.6 584.9,549.1 586.3,549.0 587.7,548.2 589.1,548.8 590.5,549.4 591.9,549.3 593.2,550.9 594.6,551.9 596.0,551.1 597.4,550.2 598.8,548.7 600.2,548.0 601.6,548.8 603.0,549.9 604.4,550.1 605.8,549.8 607.2,550.2 608.6,548.8 610.0,547.7 611.4,547.7 612.8,548.0 614.2,548.3 615.6,546.7 617.0,545.8 618.4,547.0 619.8,549.2 621.2,549.3 622.6,550.4 623.9,552.4 625.3,552.2 626.7,552.0 628.1,552.5 629.5,551.9 630.9,551.7 632.3,552.1 633.7,551.4 635.1,550.4 636.5,550.1 637.9,548.4 639.3,547.2 640.7,547.5 642.1,547.7 643.5,547.5 644.9,548.2 646.3,550.5 647.7,551.8 649.1,551.0 650.5,549.3 651.9,547.1 653.3,545.9 654.6,546.0 656.0,546.6 657.4,548.4 658.8,549.8 660.2,549.2 661.6,546.4 663.0,545.0 664.4,545.8 665.8,547.1 667.2,547.1 668.6,546.3 670.0,546.3 671.4,546.6 672.8,547.9 674.2,549.7 675.6,550.0 677.0,548.1 678.4,545.8 679.8,546.2 681.2,548.7 682.6,550.1 684.0,551.1 685.3,552.7 686.7,554.6 688.1,554.1 689.5,551.9 690.9,548.9 692.3,547.7 693.7,547.2 695.1,547.8 696.5,548.5 697.9,547.6 699.3,547.3 700.7,548.3 702.1,548.7 703.5,548.8 704.9,549.9 706.3,552.1 707.7,556.8 709.1,554.0 710.5,552.7 711.9,550.6 713.3,549.7 714.7,550.2 716.0,551.3 717.4,552.6 718.8,551.4 720.2,543.8 721.6,546.7 723.0,544.7 724.4,544.4 725.8,544.7 727.2,544.6 728.6,545.2 730.0,546.6 731.4,547.0 732.8,548.6 734.2,549.5 735.6,547.8 737.0,546.4 738.4,546.6 739.8,546.8 741.2,546.0 742.6,544.7 744.0,543.3 745.4,544.3 746.7,545.9 748.1,546.4 749.5,545.3 750.9,545.1 752.3,547.3 753.7,549.6 755.1,550.8 756.5,549.6 757.9,549.0 759.3,551.0 760.7,552.0 762.1,552.0 763.5,555.5 764.9,551.5 766.3,551.1 767.7,550.3 769.1,548.2 770.5,546.5 771.9,547.0 773.3,547.9 774.7,546.1 776.1,545.0 777.5,545.9 778.8,548.0 780.2,548.4 781.6,547.1 783.0,547.2 784.4,549.1 785.8,549.4 787.2,549.2 788.6,549.3 790.0,548.9 791.4,548.2 792.8,547.6 794.2,548.0 795.6,547.0 797.0,545.9 798.4,545.4 799.8,546.1 801.2,545.6 802.6,542.0 804.0,540.6 805.4,541.6 806.8,542.8 808.2,543.8 809.5,544.7 810.9,544.5 812.3,544.5 813.7,546.2 815.1,546.2 816.5,544.9 817.9,545.4 819.3,545.8 820.7,545.3 822.1,544.3 823.5,543.9 824.9,544.6 826.3,545.6 827.7,545.2 829.1,543.4 830.5,543.0 831.9,545.3 833.3,545.6 834.7,545.1 836.1,545.4 837.5,545.1 838.9,544.1 840.2,542.5 841.6,541.9 843.0,543.0 844.4,543.4 845.8,543.5 847.2,544.3 848.6,546.1 850.0,548.0 851.4,548.0 852.8,548.3 854.2,548.0 855.6,547.2 857.0,547.5 858.4,549.0 859.8,550.1 861.2,550.7 862.6,550.4 864.0,548.5 865.4,548.2 866.8,549.4 868.2,549.3 869.6,550.2 870.9,551.1 872.3,549.5 873.7,548.2 875.1,548.4 876.5,549.0 877.9,548.7 879.3,548.0 880.7,545.9 882.1,544.8 883.5,544.9 884.9,543.8 886.3,542.2 887.7,542.5 889.1,542.1 890.5,541.9 891.9,543.4 893.3,546.0 894.7,546.3 896.1,546.2 897.5,548.5 898.9,551.3 900.3,552.2 901.6,550.5 903.0,547.9 904.4,547.2 905.8,548.0 907.2,547.7 908.6,547.2 910.0,547.7 911.4,548.3 912.8,548.1 914.2,548.3 915.6,547.5 917.0,546.4 918.4,546.5 919.8,547.2 921.2,546.6 922.6,546.1 924.0,546.9 925.4,547.9 926.8,547.8 928.2,547.6 929.6,547.0 931.0,546.0 932.3,543.7 933.7,541.5 935.1,539.0 936.5,536.6 937.9,532.2 939.3,526.6 940.7,519.6 942.1,512.6 943.5,505.4 944.9,498.2 946.3,492.0 947.7,487.0 949.1,479.7 950.5,470.9 951.9,459.9 953.3,448.2 954.7,436.5 956.1,425.0 957.5,414.4 958.9,404.4 960.3,395.7 961.7,386.2 963.0,375.4 964.4,366.6 965.8,359.8 967.2,350.9 968.6,341.4 970.0,332.9 971.4,325.7 972.8,318.7 974.2,315.2 975.6,312.5 977.0,308.6 978.4,303.9 979.8,299.2 981.2,295.8 982.6,291.6 984.0,285.6 985.4,279.4 986.8,275.0 988.2,273.1 989.6,271.4 991.0,269.4 992.4,271.5 993.7,278.0 995.1,285.1 996.5,285.5 997.9,282.7 999.3,276.5 1000.7,270.5 1002.1,266.6 1003.5,262.7 1004.9,258.9 1006.3,255.9 1007.7,252.8 1009.1,248.8 1010.5,245.1 1011.9,241.6 1013.3,237.8 1014.7,234.8 1016.1,233.0 1017.5,231.6 1018.9,229.7 1020.3,228.8 1021.7,226.3 1023.1,220.8 1024.5,215.2 1025.8,212.2 1027.2,212.1 1028.6,214.5 1030.0,219.7 1031.4,223.1 1032.8,226.0 1034.2,229.9 1035.6,233.3 1037.0,237.1 1038.4,241.6 1039.8,245.5 1041.2,252.4 1042.6,262.2 1044.0,271.4 1045.4,278.9 1046.8,287.7 1048.2,299.6 1049.6,310.3 1051.0,318.5 1052.4,327.8 1053.8,337.5 1055.2,344.9 1056.5,352.0 1057.9,359.7 1059.3,365.5 1060.7,370.9 1062.1,378.8 1063.5,386.1 1064.9,392.7 1066.3,400.8 1067.7,408.4 1069.1,414.0 1070.5,418.8 1071.9,423.8 1073.3,428.7 1074.7,435.3 1076.1,442.5 1077.5,450.3 1078.9,457.9 1080.3,465.5 1081.7,472.8 1083.1,479.6 1084.5,485.0 1085.9,494.5 1087.2,506.1 1088.6,520.8 1090.0,537.5 1091.4,548.0 1092.8,552.0 1094.2,550.5 1095.6,551.0 1097.0,551.6 1098.4,551.3 1099.8,550.7 1101.2,549.4 1102.6,547.0 1104.0,544.8 1105.4,541.8 1106.8,538.7 1108.2,537.9 1109.6,538.9 1111.0,541.3 1112.4,544.0 1113.8,547.0 1115.2,549.4 1116.6,549.2 1117.9,546.7 1119.3,542.9 1120.7,540.1 1122.1,540.4 1123.5,540.6 1124.9,538.7 1126.3,537.4 1127.7,538.2 1129.1,538.6 1130.5,538.9 1131.9,540.3 1133.3,542.2 1134.7,544.1 1136.1,544.9 1137.5,544.6 1138.9,545.1 1140.3,546.1 1141.7,546.6 1143.1,547.1 1144.5,546.9 1145.9,546.1 1147.3,544.5 1148.6,543.1 1150.0,543.8 1151.4,544.0 1152.8,544.0 1154.2,545.9 1155.6,546.1 1157.0,545.4 1158.4,546.2 1159.8,547.4 1161.2,548.0 1162.6,547.6 1164.0,547.5 1165.4,543.6 1166.8,544.6" fill="none" stroke="#1f9858" stroke-width="2.5" stroke-linejoin="round" stroke-linecap="round"/>
<polyline points="349.0,516.0 350.4,514.0 351.8,513.8 353.2,513.2 354.6,513.0 356.0,515.5 357.4,518.9 358.8,518.6 360.2,517.1 361.6,516.0 363.0,513.8 364.4,511.5 365.8,512.0 367.2,514.4 368.6,515.5 370.0,514.3 371.4,514.0 372.8,514.4 374.2,512.1 375.6,506.8 376.9,504.0 378.3,505.7 379.7,509.8 381.1,513.1 382.5,514.4 383.9,514.4 385.3,513.6 386.7,514.2 388.1,512.9 389.5,508.0 390.9,500.6 392.3,493.3 393.7,491.3 395.1,493.5 396.5,495.6 397.9,498.0 399.3,502.0 400.7,507.7 402.1,511.2 403.5,512.6 404.9,512.4 406.3,512.2 407.6,512.4 409.0,512.7 410.4,514.9 411.8,516.3 413.2,517.2 414.6,517.5 416.0,516.0 417.4,514.5 418.8,514.2 420.2,513.9 421.6,513.6 423.0,513.4 424.4,512.9 425.8,513.3 427.2,514.4 428.6,515.9 430.0,518.4 431.4,517.9 432.8,516.2 434.2,516.3 435.6,515.7 437.0,515.5 438.3,516.0 439.7,516.7 441.1,517.8 442.5,518.3 443.9,517.3 445.3,515.0 446.7,514.0 448.1,514.4 449.5,515.1 450.9,514.2 452.3,513.5 453.7,514.7 455.1,515.1 456.5,513.4 457.9,510.8 459.3,509.4 460.7,508.2 462.1,507.8 463.5,508.5 464.9,507.1 466.3,505.7 467.7,506.3 469.0,510.0 470.4,513.1 471.8,515.1 473.2,516.2 474.6,515.0 476.0,514.7 477.4,515.1 478.8,513.7 480.2,512.0 481.6,511.2 483.0,510.0 484.4,510.3 485.8,512.1 487.2,513.8 488.6,513.6 490.0,512.4 491.4,512.5 492.8,512.7 494.2,512.2 495.6,511.7 497.0,512.3 498.4,513.4 499.8,513.7 501.1,513.7 502.5,514.0 503.9,514.8 505.3,513.5 506.7,512.7 508.1,514.3 509.5,514.9 510.9,514.5 512.3,514.3 513.7,512.4 515.1,509.9 516.5,507.8 517.9,506.3 519.3,504.8 520.7,502.4 522.1,498.0 523.5,492.8 524.9,490.7 526.3,494.1 527.7,499.4 529.1,503.7 530.5,506.9 531.8,509.3 533.2,510.4 534.6,510.0 536.0,510.2 537.4,511.5 538.8,511.9 540.2,512.6 541.6,513.8 543.0,514.7 544.4,514.1 545.8,513.0 547.2,512.7 548.6,513.7 550.0,516.2 551.4,517.5 552.8,515.9 554.2,514.6 555.6,513.3 557.0,512.1 558.4,513.6 559.8,516.2 561.2,515.8 562.5,513.8 563.9,512.6 565.3,513.7 566.7,513.9 568.1,513.9 569.5,515.7 570.9,516.5 572.3,516.9 573.7,516.2 575.1,514.8 576.5,514.5 577.9,514.9 579.3,515.3 580.7,515.9 582.1,516.0 583.5,516.5 584.9,517.6 586.3,517.7 587.7,516.8 589.1,515.0 590.5,513.7 591.9,513.5 593.2,514.0 594.6,515.3 596.0,515.8 597.4,515.6 598.8,515.5 600.2,515.4 601.6,516.4 603.0,517.6 604.4,516.8 605.8,514.0 607.2,512.2 608.6,514.5 610.0,517.0 611.4,517.2 612.8,517.7 614.2,516.4 615.6,512.5 617.0,511.7 618.4,514.3 619.8,515.9 621.2,515.8 622.6,514.7 623.9,514.0 625.3,514.9 626.7,516.5 628.1,516.0 629.5,514.6 630.9,515.0 632.3,515.8 633.7,514.5 635.1,514.2 636.5,515.3 637.9,514.3 639.3,513.8 640.7,513.2 642.1,513.4 643.5,514.5 644.9,515.4 646.3,516.0 647.7,516.3 649.1,515.8 650.5,516.1 651.9,517.5 653.3,518.3 654.6,519.0 656.0,518.1 657.4,515.8 658.8,513.8 660.2,513.1 661.6,513.1 663.0,513.5 664.4,513.3 665.8,512.0 667.2,512.8 668.6,515.3 670.0,515.9 671.4,516.0 672.8,516.8 674.2,516.1 675.6,514.2 677.0,512.8 678.4,512.2 679.8,512.3 681.2,511.8 682.6,511.0 684.0,511.3 685.3,513.6 686.7,515.2 688.1,515.6 689.5,514.5 690.9,513.2 692.3,513.0 693.7,513.9 695.1,513.8 696.5,513.2 697.9,513.0 699.3,514.6 700.7,515.9 702.1,516.4 703.5,517.8 704.9,519.8 706.3,520.1 707.7,517.6 709.1,515.8 710.5,515.5 711.9,515.5 713.3,515.5 714.7,514.8 716.0,514.9 717.4,516.7 718.8,518.0 720.2,517.3 721.6,516.3 723.0,516.7 724.4,517.6 725.8,516.1 727.2,516.2 728.6,518.2 730.0,519.5 731.4,518.8 732.8,516.9 734.2,515.6 735.6,515.8 737.0,516.5 738.4,515.5 739.8,514.2 741.2,514.1 742.6,514.1 744.0,513.0 745.4,512.6 746.7,513.4 748.1,513.3 749.5,514.6 750.9,515.9 752.3,515.6 753.7,514.3 755.1,513.7 756.5,514.2 757.9,515.6 759.3,514.8 760.7,512.2 762.1,513.3 763.5,516.1 764.9,515.2 766.3,511.9 767.7,508.9 769.1,508.7 770.5,510.7 771.9,511.3 773.3,512.1 774.7,513.4 776.1,514.7 777.5,515.9 778.8,516.0 780.2,515.2 781.6,515.0 783.0,515.0 784.4,513.7 785.8,513.3 787.2,513.3 788.6,514.0 790.0,513.1 791.4,510.7 792.8,511.1 794.2,512.9 795.6,513.1 797.0,513.3 798.4,512.0 799.8,510.9 801.2,511.1 802.6,511.1 804.0,510.6 805.4,510.5 806.8,510.8 808.2,511.4 809.5,513.5 810.9,515.2 812.3,513.8 813.7,512.3 815.1,513.1 816.5,515.1 817.9,516.0 819.3,514.7 820.7,512.7 822.1,512.8 823.5,514.0 824.9,513.0 826.3,511.6 827.7,511.9 829.1,512.3 830.5,512.7 831.9,511.8 833.3,508.9 834.7,506.9 836.1,506.3 837.5,506.7 838.9,508.5 840.2,509.7 841.6,510.5 843.0,512.4 844.4,513.3 845.8,512.3 847.2,512.1 848.6,512.4 850.0,511.8 851.4,511.9 852.8,513.9 854.2,515.8 855.6,515.7 857.0,514.2 858.4,512.9 859.8,512.3 861.2,511.6 862.6,512.2 864.0,514.5 865.4,515.5 866.8,516.2 868.2,516.7 869.6,515.9 870.9,513.9 872.3,511.9 873.7,510.1 875.1,510.0 876.5,511.8 877.9,511.0 879.3,508.4 880.7,507.0 882.1,507.0 883.5,506.7 884.9,505.7 886.3,506.7 887.7,507.2 889.1,508.1 890.5,508.4 891.9,508.5 893.3,509.6 894.7,510.2 896.1,511.7 897.5,513.4 898.9,513.2 900.3,511.9 901.6,510.7 903.0,511.1 904.4,513.2 905.8,514.3 907.2,514.6 908.6,513.9 910.0,512.2 911.4,513.0 912.8,514.2 914.2,514.7 915.6,514.3 917.0,513.2 918.4,513.7 919.8,514.7 921.2,514.5 922.6,513.5 924.0,512.6 925.4,511.4 926.8,511.1 928.2,512.7 929.6,513.7 931.0,513.2 932.3,517.4 933.7,507.5 935.1,504.6 936.5,501.9 937.9,495.6 939.3,489.0 940.7,482.8 942.1,475.5 943.5,470.3 944.9,467.5 946.3,461.1 947.7,452.9 949.1,442.8 950.5,433.5 951.9,422.7 953.3,411.7 954.7,402.8 956.1,394.4 957.5,384.5 958.9,373.3 960.3,362.3 961.7,352.3 963.0,343.6 964.4,335.5 965.8,327.5 967.2,318.6 968.6,310.1 970.0,302.5 971.4,295.3 972.8,286.6 974.2,280.1 975.6,275.4 977.0,271.2 978.4,267.5 979.8,262.7 981.2,256.3 982.6,250.8 984.0,246.5 985.4,243.9 986.8,241.1 988.2,238.1 989.6,235.8 991.0,234.5 992.4,235.4 993.7,238.3 995.1,243.3 996.5,243.1 997.9,241.5 999.3,238.4 1000.7,233.2 1002.1,227.5 1003.5,222.5 1004.9,219.9 1006.3,219.6 1007.7,218.7 1009.1,215.7 1010.5,210.5 1011.9,205.6 1013.3,202.2 1014.7,199.8 1016.1,197.8 1017.5,195.6 1018.9,191.5 1020.3,187.8 1021.7,185.3 1023.1,182.4 1024.5,179.9 1025.8,180.3 1027.2,181.1 1028.6,181.5 1030.0,184.3 1031.4,187.5 1032.8,190.3 1034.2,193.5 1035.6,197.0 1037.0,203.5 1038.4,210.8 1039.8,215.5 1041.2,223.3 1042.6,231.6 1044.0,238.9 1045.4,248.3 1046.8,257.1 1048.2,263.6 1049.6,270.8 1051.0,279.9 1052.4,288.9 1053.8,297.2 1055.2,303.5 1056.5,311.2 1057.9,320.7 1059.3,331.0 1060.7,338.7 1062.1,344.7 1063.5,350.1 1064.9,355.6 1066.3,362.9 1067.7,371.1 1069.1,379.8 1070.5,385.9 1071.9,390.0 1073.3,394.4 1074.7,401.4 1076.1,410.1 1077.5,417.3 1078.9,423.4 1080.3,430.5 1081.7,436.1 1083.1,441.4 1084.5,447.6 1085.9,458.9 1087.2,470.6 1088.6,483.8 1090.0,499.5 1091.4,510.7 1092.8,517.2 1094.2,517.0 1095.6,515.5 1097.0,513.9 1098.4,514.9 1099.8,514.2 1101.2,512.2 1102.6,510.8 1104.0,509.6 1105.4,507.5 1106.8,504.5 1108.2,502.0 1109.6,501.7 1111.0,503.6 1112.4,506.8 1113.8,507.7 1115.2,507.1 1116.6,507.5 1117.9,508.0 1119.3,507.4 1120.7,506.4 1122.1,505.5 1123.5,503.9 1124.9,501.9 1126.3,499.4 1127.7,498.6 1129.1,500.4 1130.5,502.8 1131.9,503.5 1133.3,504.5 1134.7,507.7 1136.1,510.9 1137.5,513.9 1138.9,514.7 1140.3,513.5 1141.7,512.5 1143.1,513.1 1144.5,513.9 1145.9,515.0 1147.3,517.1 1148.6,518.1 1150.0,514.8 1151.4,513.1 1152.8,514.2 1154.2,517.5 1155.6,519.8 1157.0,519.9 1158.4,518.6 1159.8,517.0 1161.2,516.9 1162.6,516.6 1164.0,515.8 1165.4,515.8 1166.8,515.7" fill="none" stroke="#b068e2" stroke-width="2.5" stroke-linejoin="round" stroke-linecap="round"/>
<polyline points="349.0,479.5 350.4,479.8 351.8,479.7 353.2,479.9 354.6,480.1 356.0,480.0 357.4,480.9 358.8,479.8 360.2,477.7 361.6,477.9 363.0,479.5 364.4,480.6 365.8,481.5 367.2,481.8 368.6,481.7 370.0,480.6 371.4,480.4 372.8,479.5 374.2,475.7 375.6,471.3 376.9,469.2 378.3,472.0 379.7,475.9 381.1,477.0 382.5,476.6 383.9,477.0 385.3,478.1 386.7,478.5 388.1,477.1 389.5,474.2 390.9,469.2 392.3,463.4 393.7,460.1 395.1,461.7 396.5,464.8 397.9,466.4 399.3,468.2 400.7,472.0 402.1,475.9 403.5,477.7 404.9,478.0 406.3,477.8 407.6,478.4 409.0,479.2 410.4,480.1 411.8,482.4 413.2,482.5 414.6,480.9 416.0,480.4 417.4,478.9 418.8,479.0 420.2,479.4 421.6,478.5 423.0,478.4 424.4,480.0 425.8,481.4 427.2,482.7 428.6,483.2 430.0,481.5 431.4,478.9 432.8,478.1 434.2,478.5 435.6,480.8 437.0,481.8 438.3,480.6 439.7,480.0 441.1,481.0 442.5,480.9 443.9,478.8 445.3,476.2 446.7,476.0 448.1,477.4 449.5,479.0 450.9,480.0 452.3,479.6 453.7,478.6 455.1,481.2 456.5,484.4 457.9,485.4 459.3,485.8 460.7,485.3 462.1,483.1 463.5,478.1 464.9,472.7 466.3,467.6 467.7,466.6 469.0,471.5 470.4,475.4 471.8,477.7 473.2,478.2 474.6,477.1 476.0,476.7 477.4,477.5 478.8,478.3 480.2,479.0 481.6,478.4 483.0,479.3 484.4,480.7 485.8,480.9 487.2,479.9 488.6,479.1 490.0,479.6 491.4,479.5 492.8,478.0 494.2,479.2 495.6,480.7 497.0,480.2 498.4,479.0 499.8,479.0 501.1,477.8 502.5,475.8 503.9,476.1 505.3,478.2 506.7,479.7 508.1,479.3 509.5,479.1 510.9,479.9 512.3,479.2 513.7,477.2 515.1,475.5 516.5,474.3 517.9,474.6 519.3,472.8 520.7,468.3 522.1,461.3 523.5,453.2 524.9,448.1 526.3,451.8 527.7,460.3 529.1,466.9 530.5,470.9 531.8,473.4 533.2,476.6 534.6,478.4 536.0,479.7 537.4,480.8 538.8,480.5 540.2,480.3 541.6,480.4 543.0,481.2 544.4,481.4 545.8,480.1 547.2,479.7 548.6,480.2 550.0,480.5 551.4,480.3 552.8,480.4 554.2,479.6 555.6,476.5 557.0,480.1 558.4,480.9 559.8,481.1 561.2,480.7 562.5,480.1 563.9,479.8 565.3,480.3 566.7,479.6 568.1,478.0 569.5,479.7 570.9,477.7 572.3,479.5 573.7,481.0 575.1,480.4 576.5,479.9 577.9,481.2 579.3,482.9 580.7,482.1 582.1,479.7 583.5,479.6 584.9,479.2 586.3,478.6 587.7,480.9 589.1,484.8 590.5,485.2 591.9,482.9 593.2,480.9 594.6,481.2 596.0,481.4 597.4,479.8 598.8,479.2 600.2,480.7 601.6,482.0 603.0,481.6 604.4,481.4 605.8,472.9 607.2,479.1 608.6,478.4 610.0,478.3 611.4,477.6 612.8,477.2 614.2,479.0 615.6,481.6 617.0,481.2 618.4,479.6 619.8,479.6 621.2,481.5 622.6,482.8 623.9,483.3 625.3,483.9 626.7,483.7 628.1,483.8 629.5,483.2 630.9,482.2 632.3,481.3 633.7,480.9 635.1,481.9 636.5,482.4 637.9,480.5 639.3,478.3 640.7,479.2 642.1,481.9 643.5,482.8 644.9,482.5 646.3,483.1 647.7,482.4 649.1,480.0 650.5,478.7 651.9,478.5 653.3,479.5 654.6,481.7 656.0,481.1 657.4,479.3 658.8,477.8 660.2,477.2 661.6,475.0 663.0,472.6 664.4,471.1 665.8,470.7 667.2,472.5 668.6,476.5 670.0,479.5 671.4,478.8 672.8,477.5 674.2,479.1 675.6,481.9 677.0,481.3 678.4,478.7 679.8,477.8 681.2,478.4 682.6,479.3 684.0,479.8 685.3,478.4 686.7,477.7 688.1,480.0 689.5,482.7 690.9,482.4 692.3,481.0 693.7,481.4 695.1,483.3 696.5,483.7 697.9,482.4 699.3,481.2 700.7,480.7 702.1,480.4 703.5,490.1 704.9,474.8 706.3,483.2 707.7,482.7 709.1,481.2 710.5,480.4 711.9,480.3 713.3,479.5 714.7,480.8 716.0,481.6 717.4,479.7 718.8,477.8 720.2,477.1 721.6,477.8 723.0,479.2 724.4,480.6 725.8,481.0 727.2,481.7 728.6,482.6 730.0,483.3 731.4,484.4 732.8,483.8 734.2,482.1 735.6,480.4 737.0,479.2 738.4,478.9 739.8,479.8 741.2,480.0 742.6,478.5 744.0,478.7 745.4,478.7 746.7,479.2 748.1,480.2 749.5,481.2 750.9,482.5 752.3,483.4 753.7,481.4 755.1,478.4 756.5,478.8 757.9,480.4 759.3,480.7 760.7,480.1 762.1,478.6 763.5,477.0 764.9,477.8 766.3,480.3 767.7,480.9 769.1,478.3 770.5,477.7 771.9,479.2 773.3,480.1 774.7,480.7 776.1,479.6 777.5,478.6 778.8,480.8 780.2,480.7 781.6,479.1 783.0,478.9 784.4,479.8 785.8,480.3 787.2,480.6 788.6,485.8 790.0,480.7 791.4,478.8 792.8,477.6 794.2,475.3 795.6,473.0 797.0,471.9 798.4,472.7 799.8,474.4 801.2,474.2 802.6,473.1 804.0,472.5 805.4,472.7 806.8,472.6 808.2,473.2 809.5,474.0 810.9,475.8 812.3,471.1 813.7,479.5 815.1,478.6 816.5,476.6 817.9,477.6 819.3,479.3 820.7,476.9 822.1,476.6 823.5,478.8 824.9,478.8 826.3,479.7 827.7,481.6 829.1,480.2 830.5,478.4 831.9,478.5 833.3,479.0 834.7,477.6 836.1,476.1 837.5,476.2 838.9,476.0 840.2,474.9 841.6,476.5 843.0,477.2 844.4,476.7 845.8,477.3 847.2,478.1 848.6,477.8 850.0,476.2 851.4,474.9 852.8,477.2 854.2,479.8 855.6,480.6 857.0,479.9 858.4,480.1 859.8,481.8 861.2,482.2 862.6,482.0 864.0,482.6 865.4,482.1 866.8,479.9 868.2,478.9 869.6,480.8 870.9,482.1 872.3,481.1 873.7,480.0 875.1,477.9 876.5,477.6 877.9,477.8 879.3,477.4 880.7,476.4 882.1,475.9 883.5,476.0 884.9,476.9 886.3,477.5 887.7,476.3 889.1,475.6 890.5,475.1 891.9,475.3 893.3,477.0 894.7,477.6 896.1,477.3 897.5,478.6 898.9,479.8 900.3,483.1 901.6,479.9 903.0,480.5 904.4,480.2 905.8,479.4 907.2,479.7 908.6,480.5 910.0,481.5 911.4,482.9 912.8,483.6 914.2,482.0 915.6,479.5 917.0,479.1 918.4,480.8 919.8,481.0 921.2,480.2 922.6,480.6 924.0,482.6 925.4,484.2 926.8,483.0 928.2,481.5 929.6,480.4 931.0,479.6 932.3,477.0 933.7,473.5 935.1,471.1 936.5,468.0 937.9,460.9 939.3,453.7 940.7,447.1 942.1,441.9 943.5,438.1 944.9,433.0 946.3,427.1 947.7,420.9 949.1,412.6 950.5,402.3 951.9,389.6 953.3,379.2 954.7,368.9 956.1,357.4 957.5,346.7 958.9,337.2 960.3,326.8 961.7,315.6 963.0,306.8 964.4,298.3 965.8,290.9 967.2,283.6 968.6,276.3 970.0,269.2 971.4,262.1 972.8,255.5 974.2,249.4 975.6,243.5 977.0,238.9 978.4,233.4 979.8,227.5 981.2,224.4 982.6,221.7 984.0,216.5 985.4,211.5 986.8,209.1 988.2,207.8 989.6,205.7 991.0,204.4 992.4,206.6 993.7,208.9 995.1,211.5 996.5,211.4 997.9,210.2 999.3,205.9 1000.7,201.0 1002.1,196.8 1003.5,193.0 1004.9,189.5 1006.3,185.5 1007.7,180.9 1009.1,178.2 1010.5,177.5 1011.9,175.3 1013.3,171.0 1014.7,168.4 1016.1,165.7 1017.5,161.4 1018.9,157.0 1020.3,154.7 1021.7,153.6 1023.1,151.5 1024.5,147.0 1025.8,143.7 1027.2,144.2 1028.6,146.1 1030.0,150.0 1031.4,153.7 1032.8,156.6 1034.2,159.1 1035.6,162.0 1037.0,167.9 1038.4,174.0 1039.8,178.6 1041.2,185.6 1042.6,192.8 1044.0,199.7 1045.4,207.4 1046.8,216.7 1048.2,226.6 1049.6,234.9 1051.0,243.8 1052.4,255.4 1053.8,267.3 1055.2,275.0 1056.5,282.8 1057.9,288.7 1059.3,294.0 1060.7,300.9 1062.1,308.9 1063.5,315.6 1064.9,323.3 1066.3,330.4 1067.7,335.7 1069.1,341.0 1070.5,347.2 1071.9,353.5 1073.3,360.1 1074.7,367.2 1076.1,374.6 1077.5,381.8 1078.9,390.2 1080.3,397.2 1081.7,401.2 1083.1,405.4 1084.5,410.4 1085.9,420.2 1087.2,430.8 1088.6,443.6 1090.0,457.4 1091.4,467.0 1092.8,474.3 1094.2,477.9 1095.6,479.5 1097.0,478.0 1098.4,473.9 1099.8,471.6 1101.2,471.9 1102.6,471.7 1104.0,470.5 1105.4,469.5 1106.8,468.8 1108.2,468.2 1109.6,467.1 1111.0,467.7 1112.4,468.4 1113.8,472.1 1115.2,472.3 1116.6,473.6 1117.9,475.0 1119.3,474.1 1120.7,471.6 1122.1,469.6 1123.5,468.7 1124.9,468.8 1126.3,467.4 1127.7,465.9 1129.1,465.3 1130.5,464.3 1131.9,466.4 1133.3,471.9 1134.7,475.6 1136.1,476.8 1137.5,477.2 1138.9,477.1 1140.3,478.3 1141.7,481.1 1143.1,481.8 1144.5,481.4 1145.9,481.7 1147.3,482.0 1148.6,482.2 1150.0,481.0 1151.4,479.9 1152.8,479.9 1154.2,481.1 1155.6,481.7 1157.0,482.2 1158.4,483.5 1159.8,484.0 1161.2,482.2 1162.6,479.8 1164.0,478.9 1165.4,478.6 1166.8,478.6" fill="none" stroke="#c89000" stroke-width="2.5" stroke-linejoin="round" stroke-linecap="round"/>
<polyline points="349.0,444.4 350.4,442.7 351.8,445.3 353.2,448.9 354.6,448.8 356.0,447.4 357.4,445.6 358.8,445.1 360.2,446.1 361.6,447.2 363.0,446.5 364.4,445.1 365.8,446.1 367.2,446.8 368.6,446.2 370.0,445.2 371.4,443.7 372.8,440.8 374.2,431.6 375.6,417.6 376.9,411.2 378.3,418.9 379.7,432.8 381.1,442.1 382.5,444.9 383.9,445.4 385.3,445.5 386.7,446.6 388.1,445.4 389.5,439.3 390.9,431.1 392.3,424.3 393.7,422.4 395.1,424.4 396.5,427.1 397.9,431.2 399.3,433.4 400.7,436.3 402.1,440.2 403.5,444.3 404.9,446.2 406.3,446.7 407.6,445.6 409.0,445.8 410.4,445.8 411.8,444.1 413.2,445.1 414.6,446.9 416.0,446.2 417.4,443.6 418.8,443.5 420.2,444.1 421.6,443.9 423.0,443.8 424.4,444.1 425.8,445.2 427.2,444.8 428.6,444.7 430.0,445.7 431.4,445.0 432.8,444.9 434.2,446.2 435.6,445.9 437.0,445.7 438.3,446.2 439.7,446.1 441.1,445.6 442.5,445.2 443.9,446.4 445.3,448.5 446.7,449.2 448.1,448.6 449.5,446.2 450.9,445.0 452.3,445.2 453.7,444.8 455.1,444.0 456.5,444.4 457.9,445.3 459.3,446.8 460.7,448.7 462.1,446.7 463.5,440.4 464.9,432.5 466.3,425.9 467.7,427.1 469.0,435.9 470.4,443.5 471.8,446.5 473.2,446.4 474.6,445.7 476.0,444.3 477.4,444.5 478.8,446.1 480.2,445.2 481.6,443.1 483.0,443.0 484.4,444.4 485.8,445.1 487.2,444.2 488.6,442.9 490.0,442.6 491.4,442.1 492.8,442.4 494.2,444.8 495.6,446.0 497.0,444.9 498.4,444.6 499.8,445.7 501.1,445.6 502.5,444.6 503.9,444.2 505.3,443.2 506.7,440.7 508.1,440.6 509.5,441.4 510.9,441.4 512.3,439.6 513.7,438.1 515.1,438.8 516.5,438.8 517.9,437.1 519.3,432.6 520.7,424.6 522.1,412.6 523.5,399.5 524.9,395.1 526.3,404.5 527.7,417.2 529.1,426.2 530.5,432.8 531.8,437.0 533.2,438.2 534.6,439.1 536.0,440.9 537.4,442.7 538.8,443.9 540.2,444.3 541.6,444.3 543.0,444.7 544.4,444.2 545.8,445.6 547.2,446.6 548.6,444.7 550.0,445.0 551.4,445.9 552.8,446.7 554.2,446.6 555.6,446.2 557.0,444.1 558.4,444.4 559.8,445.0 561.2,445.7 562.5,446.7 563.9,447.1 565.3,446.7 566.7,445.6 568.1,444.8 569.5,444.6 570.9,444.4 572.3,443.4 573.7,444.1 575.1,445.4 576.5,443.3 577.9,441.0 579.3,442.1 580.7,443.5 582.1,443.4 583.5,442.5 584.9,442.1 586.3,442.1 587.7,443.0 589.1,444.4 590.5,444.5 591.9,444.5 593.2,445.3 594.6,445.1 596.0,444.7 597.4,445.2 598.8,445.6 600.2,446.8 601.6,447.5 603.0,446.4 604.4,444.4 605.8,443.7 607.2,444.0 608.6,444.5 610.0,444.1 611.4,444.5 612.8,444.8 614.2,445.3 615.6,446.2 617.0,446.5 618.4,446.1 619.8,444.6 621.2,441.4 622.6,439.9 623.9,441.0 625.3,444.2 626.7,446.0 628.1,446.1 629.5,444.8 630.9,443.9 632.3,444.0 633.7,445.8 635.1,447.9 636.5,446.5 637.9,444.6 639.3,445.6 640.7,446.3 642.1,446.1 643.5,445.3 644.9,444.9 646.3,444.7 647.7,444.5 649.1,444.7 650.5,444.3 651.9,443.7 653.3,443.6 654.6,445.0 656.0,446.5 657.4,445.8 658.8,445.2 660.2,444.4 661.6,443.6 663.0,443.8 664.4,442.4 665.8,441.0 667.2,441.0 668.6,442.1 670.0,444.3 671.4,445.5 672.8,445.1 674.2,445.5 675.6,446.3 677.0,446.7 678.4,446.2 679.8,445.4 681.2,445.4 682.6,445.3 684.0,444.2 685.3,444.1 686.7,444.8 688.1,445.3 689.5,446.2 690.9,448.3 692.3,448.3 693.7,446.9 695.1,447.0 696.5,442.1 697.9,444.2 699.3,443.5 700.7,443.8 702.1,443.9 703.5,444.3 704.9,444.7 706.3,444.3 707.7,444.8 709.1,446.5 710.5,448.2 711.9,449.8 713.3,450.0 714.7,448.7 716.0,446.3 717.4,446.0 718.8,451.7 720.2,446.6 721.6,445.7 723.0,447.0 724.4,448.9 725.8,448.7 727.2,447.1 728.6,446.4 730.0,446.9 731.4,447.4 732.8,447.5 734.2,447.4 735.6,447.8 737.0,447.7 738.4,448.0 739.8,449.0 741.2,450.1 742.6,449.0 744.0,447.8 745.4,447.7 746.7,448.3 748.1,447.8 749.5,447.7 750.9,447.9 752.3,449.0 753.7,449.3 755.1,447.7 756.5,448.0 757.9,449.3 759.3,450.0 760.7,451.1 762.1,450.1 763.5,448.6 764.9,448.5 766.3,447.4 767.7,446.2 769.1,446.4 770.5,446.7 771.9,446.4 773.3,445.9 774.7,445.9 776.1,445.7 777.5,445.0 778.8,446.2 780.2,447.3 781.6,446.5 783.0,445.1 784.4,445.1 785.8,446.6 787.2,448.1 788.6,446.7 790.0,445.9 791.4,446.3 792.8,444.7 794.2,441.7 795.6,440.8 797.0,442.6 798.4,443.2 799.8,441.1 801.2,440.7 802.6,441.6 804.0,443.2 805.4,443.7 806.8,442.6 808.2,443.3 809.5,445.1 810.9,445.0 812.3,444.5 813.7,444.1 815.1,443.6 816.5,444.7 817.9,445.1 819.3,444.0 820.7,443.6 822.1,443.8 823.5,444.6 824.9,444.7 826.3,444.1 827.7,444.3 829.1,443.3 830.5,442.0 831.9,440.5 833.3,439.2 834.7,439.3 836.1,440.0 837.5,437.8 838.9,435.0 840.2,434.8 841.6,436.0 843.0,436.7 844.4,438.1 845.8,438.6 847.2,439.1 848.6,440.7 850.0,441.6 851.4,441.8 852.8,440.8 854.2,439.9 855.6,439.7 857.0,441.8 858.4,442.5 859.8,441.6 861.2,442.4 862.6,443.9 864.0,445.0 865.4,444.7 866.8,444.8 868.2,444.6 869.6,444.1 870.9,442.8 872.3,443.5 873.7,445.6 875.1,445.4 876.5,444.0 877.9,443.6 879.3,442.8 880.7,442.6 882.1,442.4 883.5,440.9 884.9,439.3 886.3,439.4 887.7,440.4 889.1,441.0 890.5,441.7 891.9,442.3 893.3,443.0 894.7,442.8 896.1,443.6 897.5,443.9 898.9,441.9 900.3,441.7 901.6,443.7 903.0,443.8 904.4,443.0 905.8,443.2 907.2,444.0 908.6,444.4 910.0,444.0 911.4,442.9 912.8,442.3 914.2,444.0 915.6,444.3 917.0,443.9 918.4,443.8 919.8,442.8 921.2,442.2 922.6,442.1 924.0,442.2 925.4,440.2 926.8,439.8 928.2,440.8 929.6,443.0 931.0,445.6 932.3,444.9 933.7,443.3 935.1,440.4 936.5,435.7 937.9,429.4 939.3,422.3 940.7,415.8 942.1,411.0 943.5,405.3 944.9,399.9 946.3,393.8 947.7,386.8 949.1,376.5 950.5,365.9 951.9,355.0 953.3,344.6 954.7,334.0 956.1,323.4 957.5,312.7 958.9,302.0 960.3,293.1 961.7,284.5 963.0,274.3 964.4,263.9 965.8,257.5 967.2,250.5 968.6,242.3 970.0,234.7 971.4,228.6 972.8,223.4 974.2,219.7 975.6,216.1 977.0,211.7 978.4,205.4 979.8,198.7 981.2,194.3 982.6,190.9 984.0,185.0 985.4,178.2 986.8,171.7 988.2,168.6 989.6,166.4 991.0,164.5 992.4,168.1 993.7,173.2 995.1,176.9 996.5,173.7 997.9,170.2 999.3,166.1 1000.7,161.4 1002.1,157.2 1003.5,154.8 1004.9,153.5 1006.3,151.1 1007.7,147.6 1009.1,144.1 1010.5,140.3 1011.9,135.2 1013.3,129.1 1014.7,125.6 1016.1,125.9 1017.5,126.5 1018.9,124.5 1020.3,120.7 1021.7,116.6 1023.1,112.5 1024.5,108.2 1025.8,105.3 1027.2,106.0 1028.6,108.7 1030.0,113.5 1031.4,118.4 1032.8,123.7 1034.2,127.8 1035.6,131.8 1037.0,137.7 1038.4,141.4 1039.8,142.9 1041.2,150.1 1042.6,159.9 1044.0,168.0 1045.4,174.7 1046.8,182.8 1048.2,191.8 1049.6,202.6 1051.0,213.7 1052.4,224.7 1053.8,234.3 1055.2,240.7 1056.5,245.4 1057.9,249.3 1059.3,255.4 1060.7,263.9 1062.1,273.7 1063.5,283.2 1064.9,291.8 1066.3,298.8 1067.7,305.6 1069.1,312.9 1070.5,318.8 1071.9,324.1 1073.3,327.7 1074.7,332.7 1076.1,340.7 1077.5,348.8 1078.9,356.1 1080.3,362.7 1081.7,368.5 1083.1,375.3 1084.5,381.3 1085.9,391.4 1087.2,402.3 1088.6,413.5 1090.0,426.9 1091.4,438.0 1092.8,446.1 1094.2,446.8 1095.6,447.3 1097.0,448.4 1098.4,446.3 1099.8,442.3 1101.2,439.5 1102.6,439.3 1104.0,439.0 1105.4,436.6 1106.8,435.9 1108.2,437.3 1109.6,436.5 1111.0,435.9 1112.4,438.4 1113.8,441.7 1115.2,443.9 1116.6,443.0 1117.9,440.4 1119.3,441.6 1120.7,436.9 1122.1,433.9 1123.5,431.9 1124.9,430.6 1126.3,430.3 1127.7,431.4 1129.1,431.6 1130.5,431.0 1131.9,431.0 1133.3,433.1 1134.7,437.4 1136.1,439.9 1137.5,442.5 1138.9,445.5 1140.3,447.4 1141.7,447.7 1143.1,445.7 1144.5,445.0 1145.9,446.7 1147.3,447.2 1148.6,446.4 1150.0,446.6 1151.4,447.2 1152.8,446.5 1154.2,445.5 1155.6,444.4 1157.0,445.5 1158.4,447.6 1159.8,447.4 1161.2,446.9 1162.6,448.5 1164.0,451.2 1165.4,452.6 1166.8,452.2" fill="none" stroke="#10c4c4" stroke-width="2.5" stroke-linejoin="round" stroke-linecap="round"/>
<polyline points="349.0,415.6 350.4,415.1 351.8,415.3 353.2,414.1 354.6,411.9 356.0,412.8 357.4,414.1 358.8,413.4 360.2,412.8 361.6,413.3 363.0,413.3 364.4,412.1 365.8,410.2 367.2,409.0 368.6,408.9 370.0,408.9 371.4,409.0 372.8,408.5 374.2,404.1 375.6,398.3 376.9,396.6 378.3,398.9 379.7,404.1 381.1,408.6 382.5,411.9 383.9,412.1 385.3,410.5 386.7,410.5 388.1,409.6 389.5,407.0 390.9,402.4 392.3,393.7 393.7,389.1 395.1,392.2 396.5,397.5 397.9,400.2 399.3,399.4 400.7,399.5 402.1,402.7 403.5,405.2 404.9,406.6 406.3,408.1 407.6,409.3 409.0,411.2 410.4,411.6 411.8,411.7 413.2,413.4 414.6,414.9 416.0,413.5 417.4,411.8 418.8,411.2 420.2,410.3 421.6,411.0 423.0,412.5 424.4,413.1 425.8,411.2 427.2,409.7 428.6,409.7 430.0,410.7 431.4,410.0 432.8,409.0 434.2,410.0 435.6,411.6 437.0,411.6 438.3,409.5 439.7,409.6 441.1,410.9 442.5,409.6 443.9,408.3 445.3,408.9 446.7,410.3 448.1,412.0 449.5,413.6 450.9,413.4 452.3,413.3 453.7,413.3 455.1,411.9 456.5,411.3 457.9,411.4 459.3,412.8 460.7,413.5 462.1,411.6 463.5,407.8 464.9,401.5 466.3,396.2 467.7,397.2 469.0,403.0 470.4,406.8 471.8,409.0 473.2,410.9 474.6,412.3 476.0,411.2 477.4,409.9 478.8,409.5 480.2,410.6 481.6,411.7 483.0,412.0 484.4,410.1 485.8,408.5 487.2,408.8 488.6,409.5 490.0,409.2 491.4,409.9 492.8,410.9 494.2,410.4 495.6,409.5 497.0,408.5 498.4,407.9 499.8,407.6 501.1,408.5 502.5,409.6 503.9,407.5 505.3,406.2 506.7,406.8 508.1,407.1 509.5,407.5 510.9,408.7 512.3,408.7 513.7,407.2 515.1,406.3 516.5,406.7 517.9,405.6 519.3,401.7 520.7,396.1 522.1,390.4 523.5,383.8 524.9,381.0 526.3,386.6 527.7,394.1 529.1,399.0 530.5,403.2 531.8,407.0 533.2,408.6 534.6,410.0 536.0,412.8 537.4,413.2 538.8,411.6 540.2,410.8 541.6,409.3 543.0,408.3 544.4,409.1 545.8,409.4 547.2,408.3 548.6,408.9 550.0,410.9 551.4,410.5 552.8,409.4 554.2,410.3 555.6,412.3 557.0,414.2 558.4,415.2 559.8,414.8 561.2,414.6 562.5,413.8 563.9,413.4 565.3,410.1 566.7,412.7 568.1,411.7 569.5,411.0 570.9,409.8 572.3,410.7 573.7,412.7 575.1,412.3 576.5,410.2 577.9,410.3 579.3,411.3 580.7,409.2 582.1,407.2 583.5,408.8 584.9,410.5 586.3,409.8 587.7,410.1 589.1,411.6 590.5,412.2 591.9,411.6 593.2,409.4 594.6,410.0 596.0,412.2 597.4,412.5 598.8,412.6 600.2,412.4 601.6,410.8 603.0,410.4 604.4,410.6 605.8,411.0 607.2,412.1 608.6,411.7 610.0,410.0 611.4,409.8 612.8,411.2 614.2,412.6 615.6,413.8 617.0,415.7 618.4,417.2 619.8,416.5 621.2,413.4 622.6,411.5 623.9,411.6 625.3,411.2 626.7,411.6 628.1,411.8 629.5,411.1 630.9,411.5 632.3,412.1 633.7,412.2 635.1,413.2 636.5,414.4 637.9,414.4 639.3,413.4 640.7,411.6 642.1,409.8 643.5,409.2 644.9,411.1 646.3,413.8 647.7,414.1 649.1,412.0 650.5,410.6 651.9,411.4 653.3,412.0 654.6,412.1 656.0,411.9 657.4,411.7 658.8,411.1 660.2,410.6 661.6,410.3 663.0,410.3 664.4,409.4 665.8,409.0 667.2,409.6 668.6,410.5 670.0,410.7 671.4,411.2 672.8,411.7 674.2,411.8 675.6,412.1 677.0,412.4 678.4,414.1 679.8,413.6 681.2,412.5 682.6,412.5 684.0,412.3 685.3,411.8 686.7,405.3 688.1,411.0 689.5,413.4 690.9,414.0 692.3,412.9 693.7,412.3 695.1,411.3 696.5,411.5 697.9,412.9 699.3,412.8 700.7,412.3 702.1,412.4 703.5,412.8 704.9,412.7 706.3,413.8 707.7,415.6 709.1,414.6 710.5,412.5 711.9,412.0 713.3,411.9 714.7,412.0 716.0,413.1 717.4,413.7 718.8,413.3 720.2,414.5 721.6,414.9 723.0,412.7 724.4,411.1 725.8,412.2 727.2,414.4 728.6,415.0 730.0,412.9 731.4,412.0 732.8,413.4 734.2,414.6 735.6,415.9 737.0,415.4 738.4,413.7 739.8,413.3 741.2,414.0 742.6,413.6 744.0,412.2 745.4,411.5 746.7,411.4 748.1,410.6 749.5,409.8 750.9,409.7 752.3,408.8 753.7,408.8 755.1,410.0 756.5,411.6 757.9,411.5 759.3,410.8 760.7,410.1 762.1,408.5 763.5,407.9 764.9,409.2 766.3,412.1 767.7,415.0 769.1,415.4 770.5,413.5 771.9,413.7 773.3,414.5 774.7,412.5 776.1,410.4 777.5,410.9 778.8,411.2 780.2,410.4 781.6,410.4 783.0,410.6 784.4,411.0 785.8,413.2 787.2,414.4 788.6,412.0 790.0,408.8 791.4,409.2 792.8,410.9 794.2,410.4 795.6,410.0 797.0,408.1 798.4,406.6 799.8,406.7 801.2,406.8 802.6,406.3 804.0,403.8 805.4,402.9 806.8,405.8 808.2,409.2 809.5,410.5 810.9,410.6 812.3,410.3 813.7,410.3 815.1,410.5 816.5,409.0 817.9,407.2 819.3,408.0 820.7,410.6 822.1,412.5 823.5,413.1 824.9,413.9 826.3,411.7 827.7,408.0 829.1,407.2 830.5,408.7 831.9,410.9 833.3,411.1 834.7,409.7 836.1,408.1 837.5,407.8 838.9,408.5 840.2,409.1 841.6,408.7 843.0,407.9 844.4,408.5 845.8,407.7 847.2,405.7 848.6,405.2 850.0,405.7 851.4,406.8 852.8,408.5 854.2,408.1 855.6,407.2 857.0,407.3 858.4,409.4 859.8,411.1 861.2,411.3 862.6,412.1 864.0,412.3 865.4,411.2 866.8,409.6 868.2,410.1 869.6,411.9 870.9,412.1 872.3,412.1 873.7,411.3 875.1,408.7 876.5,406.3 877.9,404.2 879.3,403.8 880.7,404.2 882.1,404.4 883.5,404.6 884.9,404.3 886.3,403.4 887.7,402.4 889.1,402.2 890.5,403.7 891.9,405.7 893.3,405.9 894.7,404.8 896.1,404.5 897.5,407.7 898.9,411.8 900.3,413.6 901.6,413.3 903.0,412.4 904.4,412.3 905.8,412.2 907.2,413.0 908.6,412.5 910.0,411.2 911.4,410.4 912.8,409.9 914.2,410.4 915.6,410.6 917.0,410.2 918.4,410.9 919.8,413.6 921.2,414.6 922.6,413.2 924.0,412.5 925.4,412.0 926.8,411.5 928.2,411.8 929.6,412.2 931.0,411.2 932.3,408.3 933.7,406.5 935.1,405.0 936.5,401.6 937.9,395.5 939.3,388.4 940.7,382.1 942.1,374.7 943.5,366.4 944.9,360.0 946.3,354.5 947.7,348.8 949.1,339.4 950.5,329.3 951.9,320.4 953.3,310.9 954.7,300.6 956.1,291.2 957.5,280.8 958.9,270.4 960.3,260.1 961.7,248.3 963.0,237.8 964.4,228.6 965.8,221.7 967.2,216.5 968.6,210.8 970.0,201.8 971.4,192.8 972.8,185.2 974.2,180.7 975.6,176.1 977.0,171.1 978.4,166.6 979.8,161.6 981.2,155.5 982.6,150.3 984.0,146.0 985.4,142.1 986.8,138.3 988.2,137.7 989.6,137.9 991.0,135.5 992.4,135.6 993.7,138.5 995.1,144.2 996.5,144.7 997.9,143.1 999.3,136.7 1000.7,129.6 1002.1,124.9 1003.5,120.4 1004.9,116.4 1006.3,114.1 1007.7,112.5 1009.1,110.8 1010.5,108.8 1011.9,106.2 1013.3,102.4 1014.7,98.2 1016.1,94.2 1017.5,92.3 1018.9,89.4 1020.3,85.2 1021.7,82.9 1023.1,79.9 1024.5,75.9 1025.8,73.8 1027.2,75.0 1028.6,76.9 1030.0,80.2 1031.4,85.3 1032.8,89.9 1034.2,93.7 1035.6,97.8 1037.0,102.1 1038.4,106.3 1039.8,110.3 1041.2,117.4 1042.6,126.1 1044.0,134.8 1045.4,140.7 1046.8,148.3 1048.2,159.6 1049.6,171.2 1051.0,182.4 1052.4,191.9 1053.8,199.2 1055.2,206.0 1056.5,213.1 1057.9,219.3 1059.3,228.7 1060.7,238.8 1062.1,244.0 1063.5,248.2 1064.9,255.1 1066.3,262.4 1067.7,268.8 1069.1,273.9 1070.5,278.9 1071.9,286.0 1073.3,292.1 1074.7,297.1 1076.1,302.8 1077.5,309.8 1078.9,318.5 1080.3,327.9 1081.7,336.8 1083.1,342.6 1084.5,346.9 1085.9,356.3 1087.2,369.0 1088.6,383.7 1090.0,400.1 1091.4,408.6 1092.8,412.4 1094.2,413.4 1095.6,413.5 1097.0,412.8 1098.4,412.2 1099.8,411.8 1101.2,409.9 1102.6,408.7 1104.0,407.5 1105.4,404.1 1106.8,401.6 1108.2,401.3 1109.6,401.6 1111.0,402.8 1112.4,403.2 1113.8,403.2 1115.2,405.3 1116.6,407.9 1117.9,410.1 1119.3,410.2 1120.7,406.6 1122.1,402.0 1123.5,400.0 1124.9,397.9 1126.3,397.1 1127.7,398.2 1129.1,399.1 1130.5,400.1 1131.9,401.4 1133.3,403.2 1134.7,404.6 1136.1,405.5 1137.5,406.5 1138.9,406.8 1140.3,408.5 1141.7,411.1 1143.1,411.2 1144.5,410.6 1145.9,409.1 1147.3,407.9 1148.6,407.3 1150.0,407.3 1151.4,408.3 1152.8,408.6 1154.2,408.1 1155.6,408.2 1157.0,408.9 1158.4,409.7 1159.8,410.9 1161.2,412.6 1162.6,412.2 1164.0,411.7 1165.4,412.2 1166.8,411.6" fill="none" stroke="#6a363a" stroke-width="2.5" stroke-linejoin="round" stroke-linecap="round"/>
<line x1="347.7" y1="925.0" x2="347.7" y2="1530.6" stroke="#222" stroke-width="2.0" stroke-linecap="butt"/>
<line x1="346.7" y1="1529.6" x2="1164.0" y2="1529.6" stroke="#222" stroke-width="3.0" stroke-linecap="butt"/>
<line x1="334.7" y1="1505.0" x2="347.7" y2="1505.0" stroke="#151515" stroke-width="2.0" stroke-linecap="butt"/>
<line x1="334.7" y1="1041.4" x2="347.7" y2="1041.4" stroke="#151515" stroke-width="2.0" stroke-linecap="butt"/>
<line x1="340.7" y1="1273.2" x2="347.7" y2="1273.2" stroke="#151515" stroke-width="2.0" stroke-linecap="butt"/>
<text class="s" x="326.0" y="1511.0" font-size="24" stroke="#161616" stroke-width="0.45" text-anchor="end" fill="#161616">0</text>
<text class="s" x="327.0" y="1047.4" font-size="17" font-weight="bold" text-anchor="end" fill="#161616">2</text>
<line x1="449.8" y1="1529.6" x2="449.8" y2="1541.6" stroke="#151515" stroke-width="2.2" stroke-linecap="butt"/>
<text class="s" x="449.8" y="1567.0" font-size="24" stroke="#161616" stroke-width="0.45" text-anchor="middle" fill="#161616">1000</text>
<line x1="567.5" y1="1529.6" x2="567.5" y2="1541.6" stroke="#151515" stroke-width="2.2" stroke-linecap="butt"/>
<text class="s" x="567.5" y="1567.0" font-size="24" stroke="#161616" stroke-width="0.45" text-anchor="middle" fill="#161616">1500</text>
<line x1="685.2" y1="1529.6" x2="685.2" y2="1541.6" stroke="#151515" stroke-width="2.2" stroke-linecap="butt"/>
<text class="s" x="685.2" y="1567.0" font-size="24" stroke="#161616" stroke-width="0.45" text-anchor="middle" fill="#161616">2000</text>
<line x1="802.9" y1="1529.6" x2="802.9" y2="1541.6" stroke="#151515" stroke-width="2.2" stroke-linecap="butt"/>
<text class="s" x="802.9" y="1567.0" font-size="24" stroke="#161616" stroke-width="0.45" text-anchor="middle" fill="#161616">2500</text>
<line x1="920.6" y1="1529.6" x2="920.6" y2="1541.6" stroke="#151515" stroke-width="2.2" stroke-linecap="butt"/>
<text class="s" x="920.6" y="1567.0" font-size="24" stroke="#161616" stroke-width="0.45" text-anchor="middle" fill="#161616">3000</text>
<line x1="1038.3" y1="1529.6" x2="1038.3" y2="1541.6" stroke="#151515" stroke-width="2.2" stroke-linecap="butt"/>
<text class="s" x="1038.3" y="1567.0" font-size="24" stroke="#161616" stroke-width="0.45" text-anchor="middle" fill="#161616">3500</text>
<line x1="1156.0" y1="1529.6" x2="1156.0" y2="1541.6" stroke="#151515" stroke-width="2.2" stroke-linecap="butt"/>
<text class="s" x="1156.0" y="1567.0" font-size="24" stroke="#161616" stroke-width="0.45" text-anchor="middle" fill="#161616">4000</text>
<line x1="390.9" y1="1529.6" x2="390.9" y2="1536.6" stroke="#151515" stroke-width="2.0" stroke-linecap="butt"/>
<line x1="508.7" y1="1529.6" x2="508.7" y2="1536.6" stroke="#151515" stroke-width="2.0" stroke-linecap="butt"/>
<line x1="626.4" y1="1529.6" x2="626.4" y2="1536.6" stroke="#151515" stroke-width="2.0" stroke-linecap="butt"/>
<line x1="744.0" y1="1529.6" x2="744.0" y2="1536.6" stroke="#151515" stroke-width="2.0" stroke-linecap="butt"/>
<line x1="861.8" y1="1529.6" x2="861.8" y2="1536.6" stroke="#151515" stroke-width="2.0" stroke-linecap="butt"/>
<line x1="979.5" y1="1529.6" x2="979.5" y2="1536.6" stroke="#151515" stroke-width="2.0" stroke-linecap="butt"/>
<line x1="1097.2" y1="1529.6" x2="1097.2" y2="1536.6" stroke="#151515" stroke-width="2.0" stroke-linecap="butt"/>
<text class="s" x="279.0" y="1256.5" font-size="37.4" font-weight="bold" text-anchor="middle" transform="rotate(-90 279.0 1256.5)" fill="#111">Raman Intensity / arbitr.units</text>
<text class="s" x="598.5" y="1636" font-size="36" font-weight="bold" fill="#111">Wavenumber/cm<tspan dy="-19" font-size="31">-1</tspan></text>
<text class="s" x="1046.0" y="933.0" font-size="45" font-weight="bold" text-anchor="middle" fill="#111">3400</text>
<text class="s" x="528.0" y="1133.0" font-size="45" font-weight="bold" text-anchor="middle" fill="#111">1338</text>
<text class="s" x="1171.5" y="1512.0" font-size="26" font-weight="bold" fill="#111">0.5 h</text>
<text class="s" x="1178.6" y="1467.6" font-size="26" font-weight="bold" fill="#111">1h</text>
<text class="s" x="1178.6" y="1420.8" font-size="26" font-weight="bold" fill="#111">2h</text>
<text class="s" x="1178.6" y="1372.6" font-size="26" font-weight="bold" fill="#111">3h</text>
<text class="s" x="1178.6" y="1326.5" font-size="26" font-weight="bold" fill="#111">4h</text>
<text class="s" x="1178.6" y="1275.7" font-size="26" font-weight="bold" fill="#111">5h</text>
<text class="s" x="1178.6" y="1232.5" font-size="26" font-weight="bold" fill="#111">6h</text>
<text class="s" x="1178.6" y="1185.7" font-size="26" font-weight="bold" fill="#111">7h</text>
<polyline points="355.2,1504.1 356.6,1504.7 358.0,1505.9 359.4,1506.8 360.8,1506.6 362.2,1506.2 363.6,1504.9 365.1,1504.0 366.5,1503.8 367.9,1504.1 369.3,1504.8 370.7,1505.5 372.1,1505.0 373.5,1504.4 374.9,1504.8 376.4,1505.1 377.8,1505.1 379.2,1504.8 380.6,1504.3 382.0,1504.1 383.4,1504.4 384.8,1504.9 386.2,1505.2 387.7,1505.4 389.1,1505.5 390.5,1504.4 391.9,1503.1 393.3,1502.0 394.7,1499.0 396.1,1495.2 397.5,1493.9 399.0,1493.3 400.4,1492.1 401.8,1491.3 403.2,1492.9 404.6,1496.1 406.0,1498.2 407.4,1500.2 408.8,1502.5 410.3,1503.8 411.7,1503.8 413.1,1504.4 414.5,1504.8 415.9,1504.5 417.3,1505.7 418.7,1504.9 420.1,1506.3 421.6,1506.2 423.0,1505.7 424.4,1506.2 425.8,1505.8 427.2,1505.4 428.6,1506.0 430.0,1506.2 431.4,1505.7 432.9,1504.8 434.3,1504.4 435.7,1504.1 437.1,1504.2 438.5,1504.4 439.9,1504.5 441.3,1504.5 442.7,1504.9 444.2,1505.0 445.6,1503.8 447.0,1502.7 448.4,1502.5 449.8,1503.6 451.2,1504.9 452.6,1506.2 454.0,1506.9 455.4,1505.4 456.9,1504.0 458.3,1504.8 459.7,1505.5 461.1,1504.5 462.5,1504.0 463.9,1503.9 465.3,1503.5 466.7,1503.0 468.2,1502.9 469.6,1503.5 471.0,1503.0 472.4,1502.0 473.8,1501.3 475.2,1501.2 476.6,1500.4 478.0,1500.2 479.5,1500.7 480.9,1501.6 482.3,1501.6 483.7,1502.2 485.1,1503.2 486.5,1503.4 487.9,1503.7 489.3,1504.2 490.8,1504.6 492.2,1504.7 493.6,1503.9 495.0,1503.4 496.4,1504.0 497.8,1504.3 499.2,1501.3 500.6,1504.1 502.1,1504.8 503.5,1505.2 504.9,1505.1 506.3,1504.7 507.7,1504.6 509.1,1504.8 510.5,1505.5 511.9,1505.5 513.4,1504.2 514.8,1502.9 516.2,1502.9 517.6,1503.2 519.0,1504.1 520.4,1505.2 521.8,1505.9 523.2,1505.2 524.7,1503.6 526.1,1503.1 527.5,1503.4 528.9,1502.9 530.3,1502.3 531.7,1502.8 533.1,1503.3 534.5,1503.6 536.0,1502.8 537.4,1502.0 538.8,1502.2 540.2,1502.9 541.6,1503.4 543.0,1503.5 544.4,1503.1 545.8,1502.1 547.3,1501.9 548.7,1502.9 550.1,1504.0 551.5,1503.9 552.9,1503.4 554.3,1503.6 555.7,1503.7 557.1,1502.0 558.6,1501.0 560.0,1502.0 561.4,1501.6 562.8,1500.8 564.2,1501.4 565.6,1501.8 567.0,1501.4 568.4,1501.3 569.9,1501.7 571.3,1502.3 572.7,1503.2 574.1,1502.9 575.5,1502.7 576.9,1503.1 578.3,1503.3 579.7,1503.2 581.2,1503.3 582.6,1504.1 584.0,1504.9 585.4,1505.5 586.8,1505.3 588.2,1505.0 589.6,1505.4 591.0,1505.6 592.5,1505.6 593.9,1505.2 595.3,1504.5 596.7,1504.8 598.1,1505.7 599.5,1505.0 600.9,1503.4 602.3,1502.6 603.8,1503.3 605.2,1504.8 606.6,1504.8 608.0,1503.8 609.4,1503.3 610.8,1503.5 612.2,1503.8 613.6,1504.2 615.1,1504.6 616.5,1504.1 617.9,1503.6 619.3,1503.7 620.7,1504.3 622.1,1505.6 623.5,1504.6 624.9,1502.8 626.4,1502.5 627.8,1508.1 629.2,1504.1 630.6,1505.1 632.0,1504.4 633.4,1503.7 634.8,1504.7 636.2,1505.2 637.6,1505.1 639.1,1504.4 640.5,1503.6 641.9,1503.1 643.3,1502.7 644.7,1501.6 646.1,1501.6 647.5,1502.6 648.9,1503.2 650.4,1503.0 651.8,1501.5 653.2,1500.7 654.6,1502.1 656.0,1503.6 657.4,1504.1 658.8,1504.9 660.2,1506.1 661.7,1506.7 663.1,1505.7 664.5,1504.4 665.9,1504.3 667.3,1504.9 668.7,1505.3 670.1,1505.0 671.5,1504.6 673.0,1504.6 674.4,1504.5 675.8,1504.2 677.2,1503.9 678.6,1504.0 680.0,1503.4 681.4,1502.8 682.8,1502.8 684.3,1503.5 685.7,1504.6 687.1,1505.2 688.5,1505.4 689.9,1505.6 691.3,1505.9 692.7,1505.8 694.1,1505.7 695.6,1505.4 697.0,1504.8 698.4,1504.4 699.8,1503.4 701.2,1502.1 702.6,1501.9 704.0,1502.5 705.4,1502.7 706.9,1502.4 708.3,1501.7 709.7,1501.8 711.1,1502.9 712.5,1504.1 713.9,1504.5 715.3,1504.4 716.7,1504.6 718.2,1504.8 719.6,1505.0 721.0,1506.1 722.4,1506.8 723.8,1506.3 725.2,1505.4 726.6,1504.7 728.0,1504.6 729.5,1504.9 730.9,1504.8 732.3,1503.5 733.7,1503.5 735.1,1504.0 736.5,1503.2 737.9,1502.2 739.3,1503.3 740.8,1502.6 742.2,1502.6 743.6,1503.0 745.0,1504.4 746.4,1505.0 747.8,1504.0 749.2,1502.5 750.6,1502.0 752.1,1502.2 753.5,1501.9 754.9,1502.1 756.3,1503.0 757.7,1503.6 759.1,1503.2 760.5,1502.2 761.9,1501.3 763.4,1502.0 764.8,1503.6 766.2,1503.8 767.6,1502.9 769.0,1503.1 770.4,1503.4 771.8,1502.6 773.2,1501.8 774.7,1502.1 776.1,1502.4 777.5,1502.4 778.9,1503.2 780.3,1503.7 781.7,1502.8 783.1,1500.9 784.5,1500.4 786.0,1501.6 787.4,1502.2 788.8,1502.4 790.2,1502.5 791.6,1502.9 793.0,1503.8 794.4,1504.9 795.8,1505.7 797.3,1506.5 798.7,1506.7 800.1,1505.6 801.5,1505.0 802.9,1504.9 804.3,1505.4 805.7,1506.2 807.1,1506.1 808.5,1505.6 810.0,1505.6 811.4,1506.0 812.8,1505.5 814.2,1504.6 815.6,1504.4 817.0,1504.7 818.4,1505.0 819.8,1504.8 821.3,1504.3 822.7,1503.9 824.1,1505.0 825.5,1505.1 826.9,1504.2 828.3,1504.4 829.7,1504.9 831.1,1505.1 832.6,1505.4 834.0,1504.4 835.4,1503.7 836.8,1503.7 838.2,1503.4 839.6,1502.4 841.0,1502.1 842.4,1502.3 843.9,1502.4 845.3,1502.8 846.7,1503.2 848.1,1503.8 849.5,1503.5 850.9,1502.5 852.3,1501.9 853.7,1501.9 855.2,1502.5 856.6,1502.7 858.0,1502.6 859.4,1501.8 860.8,1501.0 862.2,1500.8 863.6,1501.5 865.0,1502.2 866.5,1502.5 867.9,1503.1 869.3,1503.1 870.7,1501.9 872.1,1500.9 873.5,1500.4 874.9,1501.1 876.3,1502.6 877.8,1503.3 879.2,1503.1 880.6,1503.1 882.0,1503.7 883.4,1504.5 884.8,1504.2 886.2,1503.1 887.6,1502.9 889.1,1503.7 890.5,1507.2 891.9,1504.0 893.3,1504.1 894.7,1503.2 896.1,1503.5 897.5,1503.4 898.9,1502.3 900.4,1502.0 901.8,1503.2 903.2,1504.8 904.6,1505.6 906.0,1506.0 907.4,1507.0 908.8,1506.4 910.2,1504.8 911.7,1504.1 913.1,1502.5 914.5,1501.8 915.9,1501.1 917.3,1499.7 918.7,1498.0 920.1,1494.9 921.5,1492.0 923.0,1489.8 924.4,1487.1 925.8,1484.7 927.2,1482.9 928.6,1479.7 930.0,1474.9 931.4,1470.3 932.8,1466.7 934.3,1462.3 935.7,1457.7 937.1,1452.9 938.5,1447.4 939.9,1442.4 941.3,1437.5 942.7,1432.3 944.1,1427.0 945.6,1421.6 947.0,1417.7 948.4,1413.2 949.8,1406.6 951.2,1400.4 952.6,1394.9 954.0,1388.6 955.4,1381.8 956.9,1376.0 958.3,1370.5 959.7,1365.1 961.1,1359.7 962.5,1353.8 963.9,1348.1 965.3,1344.3 966.7,1341.5 968.2,1338.1 969.6,1334.4 971.0,1331.2 972.4,1328.7 973.8,1325.9 975.2,1322.9 976.6,1320.0 978.0,1317.5 979.5,1315.3 980.9,1314.6 982.3,1312.6 983.7,1312.2 985.1,1313.0 986.5,1314.8 987.9,1316.9 989.3,1318.2 990.7,1318.8 992.2,1315.9 993.6,1312.7 995.0,1309.9 996.4,1307.6 997.8,1304.7 999.2,1301.4 1000.6,1298.3 1002.0,1296.4 1003.5,1294.3 1004.9,1292.1 1006.3,1290.4 1007.7,1288.2 1009.1,1285.3 1010.5,1283.0 1011.9,1282.1 1013.3,1281.9 1014.8,1281.2 1016.2,1279.4 1017.6,1278.1 1019.0,1278.0 1020.4,1279.7 1021.8,1281.8 1023.2,1284.0 1024.6,1285.8 1026.1,1288.8 1027.5,1292.3 1028.9,1295.6 1030.3,1299.2 1031.7,1302.9 1033.1,1306.0 1034.5,1309.4 1035.9,1313.5 1037.4,1318.5 1038.8,1325.2 1040.2,1331.5 1041.6,1337.2 1043.0,1343.5 1044.4,1350.0 1045.8,1355.7 1047.2,1361.3 1048.7,1367.4 1050.1,1373.4 1051.5,1379.6 1052.9,1386.1 1054.3,1390.8 1055.7,1394.9 1057.1,1399.0 1058.5,1402.7 1060.0,1406.9 1061.4,1411.3 1062.8,1416.0 1064.2,1420.8 1065.6,1425.0 1067.0,1429.5 1068.4,1434.9 1069.8,1439.9 1071.3,1443.3 1072.7,1447.3 1074.1,1452.8 1075.5,1458.6 1076.9,1464.3 1078.3,1469.6 1079.7,1475.1 1081.1,1485.9 1082.6,1496.3 1084.0,1504.3 1085.4,1504.1 1086.8,1503.5 1088.2,1502.7 1089.6,1502.1 1091.0,1502.1 1092.4,1501.7 1093.9,1501.8 1095.3,1502.7 1096.7,1502.4 1098.1,1502.2 1099.5,1501.8 1100.9,1501.4 1102.3,1501.9 1103.7,1502.0 1105.2,1501.4 1106.6,1501.4 1108.0,1501.6 1109.4,1501.9 1110.8,1503.9 1112.2,1504.8 1113.6,1503.9 1115.0,1502.7 1116.5,1501.8 1117.9,1500.8 1119.3,1500.6 1120.7,1500.8 1122.1,1501.8 1123.5,1502.9 1124.9,1502.5 1126.3,1501.6 1127.8,1501.3 1129.2,1500.8 1130.6,1500.6 1132.0,1501.3 1133.4,1502.4 1134.8,1502.8 1136.2,1501.8 1137.6,1500.7 1139.1,1500.7 1140.5,1501.6 1141.9,1502.5 1143.3,1502.1 1144.7,1501.5 1146.1,1501.7 1147.5,1502.7 1148.9,1502.5 1150.4,1501.5 1151.8,1500.9 1153.2,1500.6 1154.6,1500.0 1156.0,1500.0" fill="none" stroke="#404040" stroke-width="2.4" stroke-linejoin="round" stroke-linecap="round"/>
<polyline points="355.2,1454.4 356.6,1455.1 358.0,1456.3 359.4,1457.2 360.8,1456.9 362.2,1455.3 363.6,1454.6 365.1,1454.8 366.5,1455.2 367.9,1455.5 369.3,1459.5 370.7,1456.9 372.1,1458.1 373.5,1458.4 374.9,1458.2 376.4,1458.8 377.8,1459.2 379.2,1458.5 380.6,1457.5 382.0,1456.2 383.4,1455.5 384.8,1455.7 386.2,1455.9 387.7,1456.7 389.1,1458.8 390.5,1459.5 391.9,1458.4 393.3,1456.3 394.7,1453.0 396.1,1448.9 397.5,1446.0 399.0,1443.5 400.4,1441.8 401.8,1443.3 403.2,1445.3 404.6,1446.9 406.0,1450.0 407.4,1452.4 408.8,1453.8 410.3,1455.0 411.7,1455.4 413.1,1455.5 414.5,1456.3 415.9,1456.8 417.3,1456.3 418.7,1455.3 420.1,1454.9 421.6,1456.1 423.0,1456.6 424.4,1457.1 425.8,1458.0 427.2,1459.1 428.6,1459.2 430.0,1459.0 431.4,1458.7 432.9,1457.6 434.3,1457.0 435.7,1457.6 437.1,1457.3 438.5,1457.6 439.9,1458.2 441.3,1458.4 442.7,1457.2 444.2,1456.3 445.6,1456.9 447.0,1457.3 448.4,1457.5 449.8,1458.0 451.2,1457.8 452.6,1456.8 454.0,1456.8 455.4,1457.4 456.9,1457.6 458.3,1458.5 459.7,1459.6 461.1,1460.9 462.5,1461.3 463.9,1459.9 465.3,1458.4 466.7,1458.3 468.2,1457.8 469.6,1457.5 471.0,1458.4 472.4,1458.9 473.8,1458.4 475.2,1457.6 476.6,1456.8 478.0,1456.1 479.5,1454.9 480.9,1454.6 482.3,1455.0 483.7,1455.2 485.1,1455.0 486.5,1454.8 487.9,1454.3 489.3,1454.1 490.8,1454.8 492.2,1455.3 493.6,1455.8 495.0,1455.9 496.4,1454.7 497.8,1454.2 499.2,1454.6 500.6,1456.5 502.1,1457.1 503.5,1455.8 504.9,1454.3 506.3,1453.2 507.7,1452.5 509.1,1452.2 510.5,1451.9 511.9,1451.5 513.4,1453.0 514.8,1455.3 516.2,1456.0 517.6,1455.9 519.0,1455.9 520.4,1455.9 521.8,1455.4 523.2,1455.6 524.7,1456.9 526.1,1456.5 527.5,1454.6 528.9,1453.7 530.3,1453.9 531.7,1454.5 533.1,1454.7 534.5,1455.8 536.0,1457.3 537.4,1457.3 538.8,1456.7 540.2,1457.4 541.6,1458.6 543.0,1458.7 544.4,1457.9 545.8,1457.5 547.3,1457.2 548.7,1456.5 550.1,1456.9 551.5,1457.0 552.9,1456.4 554.3,1456.2 555.7,1456.5 557.1,1456.2 558.6,1454.5 560.0,1454.6 561.4,1455.9 562.8,1457.0 564.2,1457.2 565.6,1457.2 567.0,1457.2 568.4,1456.6 569.9,1456.5 571.3,1457.2 572.7,1457.2 574.1,1455.9 575.5,1455.2 576.9,1456.0 578.3,1456.9 579.7,1457.9 581.2,1458.1 582.6,1457.3 584.0,1456.5 585.4,1456.1 586.8,1457.4 588.2,1458.3 589.6,1457.3 591.0,1456.4 592.5,1456.6 593.9,1457.5 595.3,1458.0 596.7,1457.4 598.1,1457.0 599.5,1456.4 600.9,1457.3 602.3,1458.0 603.8,1457.6 605.2,1456.4 606.6,1456.0 608.0,1456.8 609.4,1457.6 610.8,1457.9 612.2,1457.7 613.6,1457.7 615.1,1456.2 616.5,1455.5 617.9,1455.6 619.3,1454.7 620.7,1453.8 622.1,1453.3 623.5,1453.9 624.9,1455.4 626.4,1456.6 627.8,1457.3 629.2,1457.3 630.6,1457.9 632.0,1458.4 633.4,1458.5 634.8,1458.0 636.2,1457.6 637.6,1458.1 639.1,1458.7 640.5,1458.9 641.9,1458.3 643.3,1457.9 644.7,1458.4 646.1,1459.0 647.5,1458.9 648.9,1457.8 650.4,1457.2 651.8,1457.8 653.2,1458.4 654.6,1459.0 656.0,1459.4 657.4,1459.3 658.8,1458.9 660.2,1457.2 661.7,1456.1 663.1,1456.6 664.5,1457.5 665.9,1458.2 667.3,1458.8 668.7,1459.2 670.1,1458.5 671.5,1457.5 673.0,1456.3 674.4,1455.1 675.8,1454.7 677.2,1454.3 678.6,1454.9 680.0,1455.9 681.4,1456.1 682.8,1456.3 684.3,1456.4 685.7,1456.3 687.1,1456.3 688.5,1456.2 689.9,1455.8 691.3,1456.0 692.7,1456.3 694.1,1456.4 695.6,1456.4 697.0,1455.5 698.4,1455.0 699.8,1455.0 701.2,1454.6 702.6,1454.8 704.0,1455.2 705.4,1455.2 706.9,1455.4 708.3,1456.0 709.7,1455.9 711.1,1455.7 712.5,1456.1 713.9,1456.4 715.3,1456.9 716.7,1458.0 718.2,1457.7 719.6,1456.3 721.0,1456.0 722.4,1457.3 723.8,1458.0 725.2,1457.7 726.6,1457.4 728.0,1457.7 729.5,1457.7 730.9,1457.0 732.3,1457.2 733.7,1458.3 735.1,1459.1 736.5,1459.1 737.9,1458.2 739.3,1457.6 740.8,1458.6 742.2,1459.1 743.6,1458.7 745.0,1458.0 746.4,1457.8 747.8,1458.6 749.2,1458.3 750.6,1457.0 752.1,1456.4 753.5,1456.7 754.9,1458.2 756.3,1459.4 757.7,1459.2 759.1,1458.7 760.5,1458.3 761.9,1458.6 763.4,1458.3 764.8,1457.8 766.2,1458.2 767.6,1458.6 769.0,1458.5 770.4,1457.9 771.8,1457.8 773.2,1458.5 774.7,1458.2 776.1,1457.3 777.5,1457.9 778.9,1458.2 780.3,1457.8 781.7,1457.0 783.1,1456.9 784.5,1456.8 786.0,1457.4 787.4,1458.8 788.8,1459.7 790.2,1460.3 791.6,1459.6 793.0,1458.4 794.4,1457.9 795.8,1458.0 797.3,1458.2 798.7,1458.1 800.1,1457.6 801.5,1457.6 802.9,1457.7 804.3,1457.7 805.7,1457.7 807.1,1457.4 808.5,1457.5 810.0,1457.5 811.4,1458.2 812.8,1459.0 814.2,1458.8 815.6,1458.1 817.0,1457.7 818.4,1457.5 819.8,1457.6 821.3,1457.8 822.7,1458.0 824.1,1458.0 825.5,1458.2 826.9,1458.3 828.3,1457.3 829.7,1456.7 831.1,1457.0 832.6,1457.3 834.0,1457.0 835.4,1457.0 836.8,1458.1 838.2,1458.4 839.6,1457.8 841.0,1457.6 842.4,1457.7 843.9,1457.7 845.3,1458.0 846.7,1457.7 848.1,1458.9 849.5,1459.8 850.9,1460.1 852.3,1460.4 853.7,1460.1 855.2,1459.4 856.6,1458.5 858.0,1458.3 859.4,1458.0 860.8,1457.5 862.2,1456.9 863.6,1457.3 865.0,1458.1 866.5,1457.7 867.9,1456.9 869.3,1457.5 870.7,1459.0 872.1,1459.6 873.5,1459.9 874.9,1459.5 876.3,1458.6 877.8,1458.8 879.2,1459.9 880.6,1459.1 882.0,1457.1 883.4,1456.3 884.8,1457.1 886.2,1458.1 887.6,1457.6 889.1,1456.9 890.5,1457.3 891.9,1453.2 893.3,1457.6 894.7,1456.5 896.1,1455.4 897.5,1455.1 898.9,1456.0 900.4,1456.9 901.8,1457.0 903.2,1456.2 904.6,1455.8 906.0,1455.8 907.4,1456.7 908.8,1457.1 910.2,1457.1 911.7,1458.3 913.1,1457.9 914.5,1455.3 915.9,1451.6 917.3,1448.0 918.7,1445.6 920.1,1444.0 921.5,1443.2 923.0,1441.1 924.4,1439.8 925.8,1438.4 927.2,1436.0 928.6,1432.0 930.0,1427.8 931.4,1423.5 932.8,1419.1 934.3,1414.9 935.7,1411.8 937.1,1407.4 938.5,1402.0 939.9,1396.8 941.3,1391.4 942.7,1386.7 944.1,1382.6 945.6,1378.2 947.0,1373.2 948.4,1368.1 949.8,1362.1 951.2,1355.3 952.6,1347.9 954.0,1341.1 955.4,1334.4 956.9,1328.3 958.3,1323.3 959.7,1317.6 961.1,1311.3 962.5,1305.8 963.9,1301.0 965.3,1297.7 966.7,1295.4 968.2,1293.0 969.6,1290.0 971.0,1286.8 972.4,1283.3 973.8,1280.3 975.2,1277.3 976.6,1273.9 978.0,1271.2 979.5,1269.5 980.9,1268.8 982.3,1267.0 983.7,1267.8 985.1,1269.7 986.5,1271.2 987.9,1271.9 989.3,1272.9 990.7,1273.5 992.2,1270.9 993.6,1268.2 995.0,1264.7 996.4,1261.3 997.8,1257.9 999.2,1255.0 1000.6,1252.3 1002.0,1251.0 1003.5,1249.7 1004.9,1247.7 1006.3,1245.5 1007.7,1243.8 1009.1,1241.9 1010.5,1240.1 1011.9,1238.3 1013.3,1236.6 1014.8,1235.8 1016.2,1234.7 1017.6,1233.0 1019.0,1231.4 1020.4,1232.5 1021.8,1234.9 1023.2,1237.7 1024.6,1240.2 1026.1,1242.9 1027.5,1246.2 1028.9,1249.6 1030.3,1253.3 1031.7,1256.5 1033.1,1259.7 1034.5,1263.5 1035.9,1267.6 1037.4,1271.5 1038.8,1277.0 1040.2,1283.8 1041.6,1291.2 1043.0,1297.9 1044.4,1304.4 1045.8,1310.2 1047.2,1315.8 1048.7,1321.0 1050.1,1326.8 1051.5,1333.5 1052.9,1340.4 1054.3,1345.3 1055.7,1349.5 1057.1,1353.6 1058.5,1357.4 1060.0,1360.9 1061.4,1364.4 1062.8,1369.0 1064.2,1374.6 1065.6,1379.3 1067.0,1383.3 1068.4,1387.3 1069.8,1391.8 1071.3,1395.9 1072.7,1399.9 1074.1,1405.0 1075.5,1411.0 1076.9,1416.5 1078.3,1421.5 1079.7,1427.0 1081.1,1438.1 1082.6,1448.6 1084.0,1456.9 1085.4,1456.6 1086.8,1456.4 1088.2,1456.6 1089.6,1456.5 1091.0,1456.8 1092.4,1456.3 1093.9,1455.1 1095.3,1453.0 1096.7,1451.4 1098.1,1451.7 1099.5,1452.2 1100.9,1453.0 1102.3,1452.5 1103.7,1452.0 1105.2,1453.9 1106.6,1456.0 1108.0,1456.1 1109.4,1455.8 1110.8,1455.4 1112.2,1454.2 1113.6,1454.3 1115.0,1455.0 1116.5,1454.7 1117.9,1455.0 1119.3,1455.1 1120.7,1453.9 1122.1,1454.4 1123.5,1455.9 1124.9,1455.8 1126.3,1456.0 1127.8,1456.8 1129.2,1458.1 1130.6,1459.0 1132.0,1458.4 1133.4,1458.2 1134.8,1459.3 1136.2,1459.3 1137.6,1458.8 1139.1,1458.6 1140.5,1458.9 1141.9,1458.5 1143.3,1458.2 1144.7,1458.0 1146.1,1458.5 1147.5,1458.8 1148.9,1458.2 1150.4,1457.4 1151.8,1456.8 1153.2,1456.5 1154.6,1457.1 1156.0,1457.4" fill="none" stroke="#f03030" stroke-width="2.4" stroke-linejoin="round" stroke-linecap="round"/>
<polyline points="355.2,1412.6 356.6,1412.7 358.0,1413.8 359.4,1414.7 360.8,1414.6 362.2,1414.4 363.6,1414.3 365.1,1414.8 366.5,1413.6 367.9,1411.7 369.3,1411.5 370.7,1411.7 372.1,1412.6 373.5,1413.8 374.9,1413.3 376.4,1412.3 377.8,1411.9 379.2,1412.1 380.6,1411.7 382.0,1411.2 383.4,1410.3 384.8,1409.9 386.2,1409.8 387.7,1409.8 389.1,1411.0 390.5,1411.7 391.9,1411.4 393.3,1409.7 394.7,1406.7 396.1,1402.8 397.5,1399.4 399.0,1396.5 400.4,1395.7 401.8,1397.4 403.2,1399.6 404.6,1401.2 406.0,1401.9 407.4,1403.1 408.8,1404.8 410.3,1406.1 411.7,1407.2 413.1,1408.9 414.5,1410.3 415.9,1411.1 417.3,1412.4 418.7,1412.9 420.1,1412.8 421.6,1412.2 423.0,1411.8 424.4,1412.0 425.8,1411.5 427.2,1411.4 428.6,1411.2 430.0,1411.5 431.4,1411.6 432.9,1411.3 434.3,1410.7 435.7,1411.3 437.1,1412.0 438.5,1411.2 439.9,1411.3 441.3,1412.1 442.7,1412.4 444.2,1411.5 445.6,1411.5 447.0,1411.7 448.4,1410.9 449.8,1410.6 451.2,1410.6 452.6,1410.8 454.0,1411.5 455.4,1411.1 456.9,1410.8 458.3,1411.1 459.7,1411.8 461.1,1411.8 462.5,1411.1 463.9,1410.4 465.3,1410.2 466.7,1410.3 468.2,1410.7 469.6,1411.1 471.0,1410.0 472.4,1409.8 473.8,1411.9 475.2,1413.2 476.6,1412.8 478.0,1412.0 479.5,1413.2 480.9,1415.5 482.3,1415.9 483.7,1414.9 485.1,1414.9 486.5,1415.3 487.9,1414.9 489.3,1414.6 490.8,1414.6 492.2,1413.7 493.6,1412.3 495.0,1411.5 496.4,1412.1 497.8,1413.2 499.2,1413.4 500.6,1413.1 502.1,1411.8 503.5,1411.1 504.9,1411.2 506.3,1412.5 507.7,1413.4 509.1,1412.9 510.5,1412.8 511.9,1413.0 513.4,1412.4 514.8,1410.8 516.2,1410.1 517.6,1410.0 519.0,1410.3 520.4,1410.8 521.8,1410.5 523.2,1410.2 524.7,1409.6 526.1,1408.3 527.5,1406.6 528.9,1405.7 530.3,1405.8 531.7,1408.0 533.1,1409.7 534.5,1409.6 536.0,1410.3 537.4,1410.4 538.8,1409.7 540.2,1409.3 541.6,1409.1 543.0,1408.8 544.4,1409.3 545.8,1410.5 547.3,1410.7 548.7,1410.5 550.1,1411.0 551.5,1411.3 552.9,1411.1 554.3,1411.5 555.7,1411.3 557.1,1411.3 558.6,1411.5 560.0,1412.2 561.4,1412.3 562.8,1412.1 564.2,1412.1 565.6,1411.7 567.0,1412.0 568.4,1413.0 569.9,1413.5 571.3,1413.1 572.7,1412.7 574.1,1412.7 575.5,1411.9 576.9,1411.1 578.3,1410.5 579.7,1410.9 581.2,1411.3 582.6,1410.8 584.0,1410.2 585.4,1409.4 586.8,1409.8 588.2,1411.0 589.6,1410.4 591.0,1409.0 592.5,1408.6 593.9,1409.0 595.3,1410.0 596.7,1411.2 598.1,1410.8 599.5,1409.6 600.9,1409.8 602.3,1409.5 603.8,1409.7 605.2,1410.8 606.6,1411.2 608.0,1411.2 609.4,1411.6 610.8,1412.4 612.2,1412.7 613.6,1412.5 615.1,1411.5 616.5,1410.8 617.9,1410.5 619.3,1410.2 620.7,1411.0 622.1,1412.6 623.5,1413.4 624.9,1413.0 626.4,1412.7 627.8,1412.8 629.2,1412.5 630.6,1412.5 632.0,1412.9 633.4,1412.6 634.8,1412.2 636.2,1412.7 637.6,1412.4 639.1,1411.6 640.5,1411.6 641.9,1413.0 643.3,1414.5 644.7,1414.0 646.1,1412.0 647.5,1411.3 648.9,1411.6 650.4,1411.2 651.8,1411.4 653.2,1412.1 654.6,1411.5 656.0,1410.3 657.4,1410.0 658.8,1410.3 660.2,1410.8 661.7,1410.8 663.1,1410.0 664.5,1409.2 665.9,1409.8 667.3,1411.0 668.7,1411.1 670.1,1411.2 671.5,1411.1 673.0,1410.9 674.4,1410.6 675.8,1411.1 677.2,1411.7 678.6,1410.8 680.0,1410.1 681.4,1410.6 682.8,1410.6 684.3,1410.4 685.7,1410.0 687.1,1409.3 688.5,1410.5 689.9,1411.9 691.3,1411.5 692.7,1409.3 694.1,1407.8 695.6,1408.1 697.0,1409.9 698.4,1410.8 699.8,1410.6 701.2,1410.9 702.6,1412.3 704.0,1413.2 705.4,1414.1 706.9,1414.8 708.3,1414.9 709.7,1414.5 711.1,1415.0 712.5,1415.7 713.9,1415.8 715.3,1414.2 716.7,1413.5 718.2,1413.4 719.6,1413.7 721.0,1413.9 722.4,1413.4 723.8,1412.8 725.2,1413.4 726.6,1414.0 728.0,1414.2 729.5,1414.7 730.9,1414.3 732.3,1414.3 733.7,1413.6 735.1,1413.6 736.5,1415.1 737.9,1415.1 739.3,1414.1 740.8,1414.5 742.2,1414.9 743.6,1414.7 745.0,1414.6 746.4,1414.5 747.8,1414.5 749.2,1414.2 750.6,1413.2 752.1,1412.4 753.5,1411.8 754.9,1411.4 756.3,1411.5 757.7,1411.9 759.1,1412.1 760.5,1411.6 761.9,1411.4 763.4,1412.2 764.8,1412.2 766.2,1411.5 767.6,1410.6 769.0,1410.4 770.4,1410.8 771.8,1410.3 773.2,1410.1 774.7,1410.3 776.1,1410.6 777.5,1411.2 778.9,1411.1 780.3,1410.8 781.7,1411.1 783.1,1411.2 784.5,1411.0 786.0,1410.6 787.4,1410.1 788.8,1410.0 790.2,1411.2 791.6,1412.4 793.0,1411.8 794.4,1410.5 795.8,1409.6 797.3,1409.2 798.7,1408.8 800.1,1409.4 801.5,1409.9 802.9,1409.8 804.3,1409.8 805.7,1410.4 807.1,1412.0 808.5,1412.7 810.0,1412.1 811.4,1411.8 812.8,1412.3 814.2,1412.4 815.6,1410.6 817.0,1409.6 818.4,1411.4 819.8,1412.8 821.3,1411.8 822.7,1411.5 824.1,1411.8 825.5,1411.8 826.9,1411.7 828.3,1411.6 829.7,1411.4 831.1,1411.2 832.6,1412.2 834.0,1412.7 835.4,1411.7 836.8,1410.9 838.2,1412.0 839.6,1413.3 841.0,1413.6 842.4,1414.6 843.9,1415.2 845.3,1414.8 846.7,1414.4 848.1,1414.2 849.5,1414.3 850.9,1415.4 852.3,1415.6 853.7,1415.7 855.2,1416.5 856.6,1416.6 858.0,1415.7 859.4,1414.4 860.8,1413.1 862.2,1413.5 863.6,1413.9 865.0,1412.4 866.5,1411.1 867.9,1411.7 869.3,1412.2 870.7,1411.8 872.1,1411.5 873.5,1411.7 874.9,1411.4 876.3,1411.3 877.8,1412.4 879.2,1412.7 880.6,1411.4 882.0,1410.8 883.4,1410.6 884.8,1410.5 886.2,1410.1 887.6,1410.1 889.1,1410.3 890.5,1409.5 891.9,1410.3 893.3,1411.8 894.7,1411.8 896.1,1411.1 897.5,1411.0 898.9,1411.7 900.4,1411.6 901.8,1411.6 903.2,1412.6 904.6,1413.4 906.0,1412.4 907.4,1411.5 908.8,1411.8 910.2,1411.9 911.7,1412.1 913.1,1410.9 914.5,1409.0 915.9,1406.4 917.3,1404.5 918.7,1403.5 920.1,1402.7 921.5,1400.5 923.0,1398.7 924.4,1397.2 925.8,1394.9 927.2,1392.3 928.6,1388.8 930.0,1384.3 931.4,1379.5 932.8,1374.7 934.3,1370.3 935.7,1365.2 937.1,1359.7 938.5,1354.4 939.9,1349.9 941.3,1345.3 942.7,1339.6 944.1,1334.7 945.6,1331.0 947.0,1327.4 948.4,1322.1 949.8,1315.3 951.2,1308.3 952.6,1301.7 954.0,1295.3 955.4,1289.2 956.9,1284.0 958.3,1278.5 959.7,1271.9 961.1,1265.9 962.5,1259.7 963.9,1253.6 965.3,1250.3 966.7,1248.2 968.2,1246.0 969.6,1243.0 971.0,1240.0 972.4,1238.0 973.8,1236.3 975.2,1233.2 976.6,1230.1 978.0,1227.5 979.5,1224.1 980.9,1221.7 982.3,1219.3 983.7,1219.7 985.1,1220.5 986.5,1222.0 987.9,1224.0 989.3,1225.4 990.7,1225.7 992.2,1222.5 993.6,1219.1 995.0,1216.5 996.4,1213.7 997.8,1210.5 999.2,1207.9 1000.6,1205.4 1002.0,1204.3 1003.5,1202.4 1004.9,1199.2 1006.3,1196.6 1007.7,1194.8 1009.1,1193.0 1010.5,1190.4 1011.9,1188.5 1013.3,1187.8 1014.8,1187.1 1016.2,1185.7 1017.6,1184.6 1019.0,1183.6 1020.4,1184.6 1021.8,1185.9 1023.2,1188.5 1024.6,1191.4 1026.1,1194.7 1027.5,1199.1 1028.9,1203.3 1030.3,1206.4 1031.7,1209.8 1033.1,1213.8 1034.5,1217.2 1035.9,1220.5 1037.4,1225.4 1038.8,1231.8 1040.2,1238.3 1041.6,1245.2 1043.0,1252.0 1044.4,1258.7 1045.8,1265.7 1047.2,1271.5 1048.7,1277.0 1050.1,1283.4 1051.5,1289.5 1052.9,1294.9 1054.3,1299.4 1055.7,1303.8 1057.1,1307.7 1058.5,1312.0 1060.0,1316.5 1061.4,1319.7 1062.8,1322.5 1064.2,1326.7 1065.6,1331.1 1067.0,1335.7 1068.4,1340.4 1069.8,1344.8 1071.3,1349.2 1072.7,1353.5 1074.1,1358.2 1075.5,1364.0 1076.9,1370.5 1078.3,1376.6 1079.7,1382.3 1081.1,1392.7 1082.6,1402.0 1084.0,1410.3 1085.4,1412.1 1086.8,1412.7 1088.2,1412.1 1089.6,1412.0 1091.0,1412.4 1092.4,1412.8 1093.9,1411.7 1095.3,1410.1 1096.7,1408.9 1098.1,1409.2 1099.5,1409.8 1100.9,1409.4 1102.3,1408.9 1103.7,1409.1 1105.2,1409.9 1106.6,1411.2 1108.0,1412.2 1109.4,1411.6 1110.8,1410.6 1112.2,1409.9 1113.6,1409.5 1115.0,1409.2 1116.5,1409.1 1117.9,1408.6 1119.3,1407.3 1120.7,1407.1 1122.1,1408.8 1123.5,1409.7 1124.9,1409.2 1126.3,1408.6 1127.8,1409.5 1129.2,1410.3 1130.6,1410.5 1132.0,1410.4 1133.4,1410.1 1134.8,1409.4 1136.2,1409.3 1137.6,1409.8 1139.1,1410.8 1140.5,1411.0 1141.9,1410.5 1143.3,1411.0 1144.7,1411.0 1146.1,1410.2 1147.5,1410.2 1148.9,1411.2 1150.4,1411.1 1151.8,1410.8 1153.2,1410.7 1154.6,1409.1 1156.0,1407.7" fill="none" stroke="#1558e6" stroke-width="2.4" stroke-linejoin="round" stroke-linecap="round"/>
<polyline points="355.2,1364.2 356.6,1364.4 358.0,1363.7 359.4,1363.4 360.8,1363.0 362.2,1362.8 363.6,1363.8 365.1,1365.0 366.5,1365.1 367.9,1364.7 369.3,1364.8 370.7,1365.3 372.1,1365.7 373.5,1365.3 374.9,1365.2 376.4,1366.7 377.8,1368.0 379.2,1368.0 380.6,1367.4 382.0,1366.9 383.4,1366.5 384.8,1366.0 386.2,1364.6 387.7,1363.7 389.1,1364.9 390.5,1366.0 391.9,1365.2 393.3,1363.0 394.7,1360.3 396.1,1357.3 397.5,1353.7 399.0,1351.5 400.4,1350.8 401.8,1350.9 403.2,1352.1 404.6,1354.5 406.0,1357.1 407.4,1359.2 408.8,1361.0 410.3,1362.2 411.7,1362.9 413.1,1364.2 414.5,1366.3 415.9,1367.2 417.3,1365.8 418.7,1364.0 420.1,1364.5 421.6,1366.2 423.0,1365.5 424.4,1363.9 425.8,1363.2 427.2,1363.0 428.6,1363.4 430.0,1363.5 431.4,1363.4 432.9,1364.6 434.3,1366.3 435.7,1366.8 437.1,1365.8 438.5,1365.4 439.9,1365.6 441.3,1365.4 442.7,1364.9 444.2,1364.4 445.6,1364.4 447.0,1364.9 448.4,1365.5 449.8,1365.4 451.2,1364.3 452.6,1363.8 454.0,1364.5 455.4,1365.6 456.9,1365.7 458.3,1365.3 459.7,1365.4 461.1,1366.4 462.5,1367.1 463.9,1366.3 465.3,1365.1 466.7,1365.1 468.2,1366.3 469.6,1367.4 471.0,1367.5 472.4,1367.6 473.8,1367.8 475.2,1367.9 476.6,1368.9 478.0,1369.0 479.5,1366.9 480.9,1365.2 482.3,1364.6 483.7,1364.9 485.1,1365.6 486.5,1366.7 487.9,1366.7 489.3,1365.3 490.8,1365.9 492.2,1368.4 493.6,1369.0 495.0,1368.6 496.4,1369.0 497.8,1368.8 499.2,1367.4 500.6,1366.8 502.1,1367.3 503.5,1368.2 504.9,1368.3 506.3,1367.2 507.7,1365.8 509.1,1364.2 510.5,1364.0 511.9,1364.9 513.4,1366.0 514.8,1366.7 516.2,1366.4 517.6,1366.3 519.0,1365.4 520.4,1364.8 521.8,1364.5 523.2,1363.0 524.7,1361.2 526.1,1359.4 527.5,1357.9 528.9,1358.4 530.3,1359.4 531.7,1354.2 533.1,1362.3 534.5,1363.5 536.0,1364.4 537.4,1365.1 538.8,1364.9 540.2,1364.9 541.6,1365.5 543.0,1366.0 544.4,1366.2 545.8,1365.2 547.3,1365.0 548.7,1365.2 550.1,1364.2 551.5,1363.5 552.9,1364.1 554.3,1364.3 555.7,1364.4 557.1,1363.4 558.6,1363.2 560.0,1363.7 561.4,1363.4 562.8,1363.8 564.2,1364.6 565.6,1364.1 567.0,1362.7 568.4,1361.0 569.9,1360.8 571.3,1362.3 572.7,1363.4 574.1,1364.7 575.5,1365.6 576.9,1365.9 578.3,1364.8 579.7,1364.2 581.2,1365.0 582.6,1365.8 584.0,1366.3 585.4,1365.6 586.8,1364.4 588.2,1364.8 589.6,1365.2 591.0,1365.6 592.5,1365.4 593.9,1364.9 595.3,1364.8 596.7,1364.7 598.1,1365.4 599.5,1365.4 600.9,1364.4 602.3,1364.6 603.8,1365.8 605.2,1366.5 606.6,1366.1 608.0,1364.8 609.4,1363.5 610.8,1363.5 612.2,1365.3 613.6,1366.3 615.1,1366.3 616.5,1365.7 617.9,1365.5 619.3,1364.4 620.7,1364.8 622.1,1366.6 623.5,1366.5 624.9,1366.1 626.4,1365.4 627.8,1364.7 629.2,1365.4 630.6,1366.2 632.0,1365.4 633.4,1364.2 634.8,1363.6 636.2,1364.4 637.6,1365.2 639.1,1364.7 640.5,1365.2 641.9,1366.3 643.3,1366.4 644.7,1366.2 646.1,1366.2 647.5,1367.2 648.9,1367.3 650.4,1366.5 651.8,1366.0 653.2,1366.4 654.6,1367.8 656.0,1367.6 657.4,1366.2 658.8,1366.1 660.2,1366.5 661.7,1366.8 663.1,1367.4 664.5,1367.1 665.9,1367.0 667.3,1367.6 668.7,1367.7 670.1,1368.4 671.5,1368.9 673.0,1368.0 674.4,1366.2 675.8,1365.0 677.2,1364.1 678.6,1367.0 680.0,1364.5 681.4,1364.6 682.8,1363.9 684.3,1363.8 685.7,1364.9 687.1,1366.3 688.5,1365.4 689.9,1363.5 691.3,1363.1 692.7,1364.2 694.1,1364.2 695.6,1364.4 697.0,1364.9 698.4,1364.6 699.8,1363.9 701.2,1363.6 702.6,1363.8 704.0,1363.8 705.4,1363.0 706.9,1362.3 708.3,1362.9 709.7,1363.5 711.1,1363.4 712.5,1363.4 713.9,1363.5 715.3,1363.6 716.7,1364.5 718.2,1365.0 719.6,1364.7 721.0,1364.7 722.4,1364.4 723.8,1364.4 725.2,1364.5 726.6,1364.3 728.0,1364.5 729.5,1364.8 730.9,1365.0 732.3,1365.4 733.7,1365.3 735.1,1364.5 736.5,1363.8 737.9,1363.4 739.3,1363.5 740.8,1363.1 742.2,1362.9 743.6,1362.6 745.0,1362.6 746.4,1363.1 747.8,1363.2 749.2,1362.6 750.6,1361.9 752.1,1361.1 753.5,1361.0 754.9,1361.9 756.3,1363.4 757.7,1364.1 759.1,1363.6 760.5,1363.0 761.9,1363.0 763.4,1362.6 764.8,1362.9 766.2,1364.3 767.6,1365.3 769.0,1365.0 770.4,1364.3 771.8,1364.6 773.2,1365.6 774.7,1365.9 776.1,1365.4 777.5,1365.1 778.9,1365.0 780.3,1365.7 781.7,1366.3 783.1,1366.8 784.5,1366.9 786.0,1367.6 787.4,1368.1 788.8,1367.9 790.2,1367.6 791.6,1367.2 793.0,1366.6 794.4,1366.6 795.8,1366.7 797.3,1365.9 798.7,1365.2 800.1,1365.2 801.5,1365.4 802.9,1366.6 804.3,1367.5 805.7,1366.1 807.1,1364.9 808.5,1365.3 810.0,1365.5 811.4,1365.2 812.8,1364.1 814.2,1364.0 815.6,1364.2 817.0,1364.5 818.4,1365.5 819.8,1365.4 821.3,1364.9 822.7,1364.1 824.1,1365.2 825.5,1366.5 826.9,1366.3 828.3,1365.1 829.7,1364.0 831.1,1363.3 832.6,1363.5 834.0,1364.6 835.4,1364.9 836.8,1364.7 838.2,1364.8 839.6,1365.4 841.0,1365.6 842.4,1364.9 843.9,1364.4 845.3,1364.4 846.7,1364.6 848.1,1365.0 849.5,1365.6 850.9,1366.1 852.3,1367.4 853.7,1367.8 855.2,1366.7 856.6,1365.5 858.0,1365.2 859.4,1364.8 860.8,1364.3 862.2,1364.3 863.6,1364.4 865.0,1364.5 866.5,1365.2 867.9,1365.6 869.3,1366.1 870.7,1365.9 872.1,1366.3 873.5,1366.8 874.9,1367.4 876.3,1367.1 877.8,1366.3 879.2,1366.1 880.6,1366.1 882.0,1366.4 883.4,1366.0 884.8,1365.4 886.2,1365.6 887.6,1365.7 889.1,1365.6 890.5,1365.9 891.9,1366.4 893.3,1367.4 894.7,1367.6 896.1,1367.8 897.5,1368.1 898.9,1367.7 900.4,1367.1 901.8,1366.7 903.2,1366.4 904.6,1366.9 906.0,1366.6 907.4,1364.8 908.8,1364.3 910.2,1366.0 911.7,1366.7 913.1,1363.9 914.5,1361.5 915.9,1359.7 917.3,1357.8 918.7,1356.3 920.1,1355.0 921.5,1353.3 923.0,1351.2 924.4,1349.0 925.8,1347.0 927.2,1344.9 928.6,1342.1 930.0,1338.5 931.4,1334.4 932.8,1330.3 934.3,1325.7 935.7,1320.0 937.1,1314.6 938.5,1309.3 939.9,1304.6 941.3,1300.3 942.7,1295.7 944.1,1291.2 945.6,1286.6 947.0,1281.5 948.4,1275.8 949.8,1269.0 951.2,1262.6 952.6,1256.4 954.0,1250.0 955.4,1243.6 956.9,1238.0 958.3,1232.2 959.7,1225.7 961.1,1219.5 962.5,1213.7 963.9,1208.5 965.3,1205.2 966.7,1202.4 968.2,1199.4 969.6,1197.0 971.0,1194.6 972.4,1192.4 973.8,1189.4 975.2,1187.0 976.6,1184.7 978.0,1180.6 979.5,1176.1 980.9,1174.2 982.3,1173.1 983.7,1174.2 985.1,1175.1 986.5,1176.7 987.9,1179.0 989.3,1180.2 990.7,1180.4 992.2,1177.3 993.6,1173.9 995.0,1170.3 996.4,1166.9 997.8,1163.8 999.2,1161.3 1000.6,1159.2 1002.0,1157.4 1003.5,1155.1 1004.9,1153.4 1006.3,1151.4 1007.7,1149.4 1009.1,1147.3 1010.5,1145.2 1011.9,1143.9 1013.3,1142.6 1014.8,1141.5 1016.2,1140.6 1017.6,1139.7 1019.0,1138.7 1020.4,1138.8 1021.8,1139.5 1023.2,1141.9 1024.6,1145.5 1026.1,1149.0 1027.5,1152.0 1028.9,1155.3 1030.3,1159.4 1031.7,1163.6 1033.1,1168.2 1034.5,1172.7 1035.9,1175.6 1037.4,1179.9 1038.8,1186.6 1040.2,1192.2 1041.6,1197.8 1043.0,1204.9 1044.4,1211.8 1045.8,1217.6 1047.2,1224.1 1048.7,1230.7 1050.1,1236.7 1051.5,1242.4 1052.9,1248.5 1054.3,1253.6 1055.7,1257.3 1057.1,1261.2 1058.5,1265.6 1060.0,1269.5 1061.4,1273.4 1062.8,1277.8 1064.2,1282.6 1065.6,1287.0 1067.0,1291.8 1068.4,1296.8 1069.8,1301.3 1071.3,1305.0 1072.7,1309.1 1074.1,1314.6 1075.5,1320.5 1076.9,1326.9 1078.3,1332.3 1079.7,1337.8 1081.1,1348.8 1082.6,1359.6 1084.0,1366.6 1085.4,1365.9 1086.8,1365.2 1088.2,1364.7 1089.6,1363.8 1091.0,1362.9 1092.4,1362.4 1093.9,1363.2 1095.3,1364.5 1096.7,1365.0 1098.1,1364.2 1099.5,1363.3 1100.9,1363.3 1102.3,1363.7 1103.7,1364.2 1105.2,1363.6 1106.6,1362.7 1108.0,1363.1 1109.4,1363.3 1110.8,1362.9 1112.2,1362.1 1113.6,1361.4 1115.0,1361.1 1116.5,1359.7 1117.9,1358.8 1119.3,1359.7 1120.7,1360.7 1122.1,1361.2 1123.5,1362.2 1124.9,1363.1 1126.3,1364.4 1127.8,1365.3 1129.2,1364.8 1130.6,1363.7 1132.0,1362.9 1133.4,1364.2 1134.8,1365.4 1136.2,1365.2 1137.6,1365.9 1139.1,1366.4 1140.5,1365.0 1141.9,1363.6 1143.3,1363.5 1144.7,1363.0 1146.1,1362.5 1147.5,1362.7 1148.9,1363.8 1150.4,1364.4 1151.8,1363.9 1153.2,1363.4 1154.6,1362.8 1156.0,1362.0" fill="none" stroke="#1f9858" stroke-width="2.4" stroke-linejoin="round" stroke-linecap="round"/>
<polyline points="355.2,1318.1 356.6,1317.0 358.0,1316.3 359.4,1317.4 360.8,1318.0 362.2,1315.7 363.6,1312.4 365.1,1310.7 366.5,1312.5 367.9,1316.3 369.3,1317.4 370.7,1316.8 372.1,1316.7 373.5,1316.2 374.9,1315.5 376.4,1316.3 377.8,1316.7 379.2,1313.8 380.6,1307.5 382.0,1301.4 383.4,1301.3 384.8,1307.3 386.2,1313.0 387.7,1314.2 389.1,1316.2 390.5,1316.8 391.9,1316.8 393.3,1315.4 394.7,1312.6 396.1,1308.0 397.5,1304.5 399.0,1303.1 400.4,1303.3 401.8,1303.5 403.2,1304.4 404.6,1306.5 406.0,1309.1 407.4,1311.1 408.8,1311.9 410.3,1314.0 411.7,1315.6 413.1,1315.7 414.5,1315.9 415.9,1316.7 417.3,1317.7 418.7,1318.7 420.1,1319.3 421.6,1319.1 423.0,1318.8 424.4,1318.9 425.8,1318.6 427.2,1318.7 428.6,1318.3 430.0,1317.1 431.4,1316.9 432.9,1317.8 434.3,1318.5 435.7,1317.9 437.1,1317.0 438.5,1317.4 439.9,1318.6 441.3,1318.2 442.7,1317.8 444.2,1318.4 445.6,1319.2 447.0,1319.8 448.4,1320.1 449.8,1319.9 451.2,1318.6 452.6,1318.2 454.0,1318.7 455.4,1317.5 456.9,1316.0 458.3,1316.2 459.7,1316.4 461.1,1317.6 462.5,1319.4 463.9,1321.1 465.3,1321.0 466.7,1317.3 468.2,1310.9 469.6,1305.7 471.0,1307.3 472.4,1314.6 473.8,1319.9 475.2,1320.8 476.6,1319.9 478.0,1319.6 479.5,1320.7 480.9,1321.3 482.3,1321.0 483.7,1320.6 485.1,1320.3 486.5,1321.5 487.9,1322.2 489.3,1321.8 490.8,1321.5 492.2,1321.0 493.6,1320.6 495.0,1320.3 496.4,1312.7 497.8,1320.4 499.2,1319.5 500.6,1319.2 502.1,1320.6 503.5,1322.0 504.9,1321.4 506.3,1320.3 507.7,1319.4 509.1,1317.8 510.5,1316.7 511.9,1316.6 513.4,1317.1 514.8,1318.1 516.2,1318.4 517.6,1317.2 519.0,1315.8 520.4,1314.8 521.8,1312.3 523.2,1308.8 524.7,1303.5 526.1,1295.9 527.5,1287.0 528.9,1283.4 530.3,1290.3 531.7,1300.1 533.1,1307.3 534.5,1310.7 536.0,1312.5 537.4,1315.2 538.8,1316.4 540.2,1316.5 541.6,1316.9 543.0,1317.1 544.4,1317.8 545.8,1318.9 547.3,1319.1 548.7,1318.0 550.1,1317.0 551.5,1316.4 552.9,1315.6 554.3,1312.0 555.7,1314.8 557.1,1313.4 558.6,1313.3 560.0,1314.5 561.4,1316.3 562.8,1316.9 564.2,1316.4 565.6,1316.6 567.0,1318.1 568.4,1319.2 569.9,1318.9 571.3,1318.5 572.7,1317.8 574.1,1317.1 575.5,1316.4 576.9,1316.5 578.3,1316.7 579.7,1317.5 581.2,1318.3 582.6,1318.5 584.0,1318.8 585.4,1318.8 586.8,1316.2 588.2,1312.2 589.6,1309.3 591.0,1315.1 592.5,1317.7 593.9,1318.4 595.3,1318.7 596.7,1318.5 598.1,1318.4 599.5,1319.1 600.9,1319.8 602.3,1318.6 603.8,1316.0 605.2,1313.8 606.6,1313.2 608.0,1314.6 609.4,1316.6 610.8,1317.8 612.2,1318.3 613.6,1318.7 615.1,1319.9 616.5,1320.8 617.9,1319.7 619.3,1318.6 620.7,1317.5 622.1,1317.6 623.5,1317.2 624.9,1317.1 626.4,1318.0 627.8,1318.2 629.2,1317.8 630.6,1317.7 632.0,1316.9 633.4,1315.3 634.8,1315.9 636.2,1318.8 637.6,1319.3 639.1,1318.1 640.5,1318.0 641.9,1318.6 643.3,1318.5 644.7,1318.3 646.1,1317.7 647.5,1317.0 648.9,1317.3 650.4,1318.5 651.8,1318.9 653.2,1317.8 654.6,1316.4 656.0,1316.4 657.4,1316.3 658.8,1316.1 660.2,1316.7 661.7,1316.2 663.1,1313.7 664.5,1311.2 665.9,1311.4 667.3,1313.0 668.7,1313.3 670.1,1313.8 671.5,1316.0 673.0,1317.5 674.4,1318.8 675.8,1320.2 677.2,1319.5 678.6,1319.3 680.0,1319.7 681.4,1319.9 682.8,1319.7 684.3,1319.7 685.7,1320.4 687.1,1321.1 688.5,1321.0 689.9,1320.7 691.3,1320.7 692.7,1321.0 694.1,1320.1 695.6,1319.0 697.0,1318.7 698.4,1318.5 699.8,1319.3 701.2,1320.3 702.6,1320.1 704.0,1319.4 705.4,1318.7 706.9,1318.7 708.3,1318.5 709.7,1317.5 711.1,1317.4 712.5,1317.8 713.9,1317.1 715.3,1316.9 716.7,1317.6 718.2,1318.2 719.6,1317.6 721.0,1316.2 722.4,1316.8 723.8,1317.0 725.2,1316.4 726.6,1316.4 728.0,1316.8 729.5,1317.7 730.9,1317.8 732.3,1317.4 733.7,1318.0 735.1,1318.5 736.5,1319.1 737.9,1319.0 739.3,1315.4 740.8,1317.0 742.2,1318.4 743.6,1319.8 745.0,1319.6 746.4,1319.4 747.8,1319.7 749.2,1320.9 750.6,1321.0 752.1,1319.5 753.5,1319.0 754.9,1318.7 756.3,1318.7 757.7,1318.9 759.1,1318.4 760.5,1317.7 761.9,1317.4 763.4,1317.4 764.8,1317.3 766.2,1317.7 767.6,1318.9 769.0,1318.4 770.4,1317.7 771.8,1318.0 773.2,1318.2 774.7,1317.5 776.1,1316.6 777.5,1316.1 778.9,1316.2 780.3,1316.0 781.7,1316.3 783.1,1317.8 784.5,1318.1 786.0,1317.1 787.4,1316.6 788.8,1315.9 790.2,1315.3 791.6,1315.7 793.0,1316.9 794.4,1317.9 795.8,1317.6 797.3,1317.9 798.7,1321.9 800.1,1318.9 801.5,1318.7 802.9,1318.6 804.3,1317.8 805.7,1317.6 807.1,1319.1 808.5,1319.7 810.0,1319.5 811.4,1319.0 812.8,1317.6 814.2,1316.8 815.6,1317.1 817.0,1317.4 818.4,1318.1 819.8,1318.6 821.3,1318.0 822.7,1317.3 824.1,1318.5 825.5,1319.6 826.9,1319.0 828.3,1317.7 829.7,1317.3 831.1,1317.9 832.6,1318.3 834.0,1318.8 835.4,1318.3 836.8,1316.8 838.2,1316.7 839.6,1318.2 841.0,1319.5 842.4,1320.9 843.9,1321.4 845.3,1321.4 846.7,1320.8 848.1,1320.1 849.5,1319.9 850.9,1318.5 852.3,1317.2 853.7,1316.9 855.2,1317.8 856.6,1318.8 858.0,1319.0 859.4,1319.0 860.8,1318.3 862.2,1317.5 863.6,1317.6 865.0,1317.5 866.5,1317.5 867.9,1318.7 869.3,1317.5 870.7,1317.7 872.1,1318.6 873.5,1318.8 874.9,1319.0 876.3,1319.4 877.8,1319.9 879.2,1320.5 880.6,1320.4 882.0,1320.2 883.4,1320.3 884.8,1319.4 886.2,1318.9 887.6,1319.4 889.1,1319.3 890.5,1319.5 891.9,1319.2 893.3,1319.2 894.7,1319.0 896.1,1318.6 897.5,1318.3 898.9,1318.7 900.4,1319.9 901.8,1321.2 903.2,1321.3 904.6,1319.9 906.0,1318.8 907.4,1318.1 908.8,1318.3 910.2,1318.7 911.7,1317.7 913.1,1315.6 914.5,1314.8 915.9,1313.3 917.3,1311.4 918.7,1310.7 920.1,1309.4 921.5,1306.6 923.0,1304.0 924.4,1301.7 925.8,1299.2 927.2,1296.6 928.6,1291.9 930.0,1286.5 931.4,1282.4 932.8,1278.3 934.3,1274.0 935.7,1269.3 937.1,1265.1 938.5,1262.1 939.9,1258.7 941.3,1254.2 942.7,1249.3 944.1,1243.7 945.6,1238.5 947.0,1233.3 948.4,1226.8 949.8,1219.8 951.2,1213.4 952.6,1206.6 954.0,1199.5 955.4,1193.0 956.9,1188.3 958.3,1183.8 959.7,1178.0 961.1,1173.3 962.5,1168.4 963.9,1161.9 965.3,1157.2 966.7,1154.9 968.2,1153.0 969.6,1149.8 971.0,1145.8 972.4,1142.8 973.8,1140.9 975.2,1138.9 976.6,1135.9 978.0,1132.0 979.5,1129.0 980.9,1127.7 982.3,1126.7 983.7,1128.3 985.1,1129.9 986.5,1130.9 987.9,1132.2 989.3,1134.0 990.7,1134.9 992.2,1131.9 993.6,1128.7 995.0,1125.6 996.4,1122.8 997.8,1119.7 999.2,1116.2 1000.6,1112.7 1002.0,1111.1 1003.5,1109.4 1004.9,1107.4 1006.3,1105.5 1007.7,1103.4 1009.1,1101.6 1010.5,1100.3 1011.9,1099.3 1013.3,1097.4 1014.8,1095.7 1016.2,1094.9 1017.6,1094.9 1019.0,1094.9 1020.4,1095.5 1021.8,1096.5 1023.2,1098.7 1024.6,1101.3 1026.1,1104.3 1027.5,1107.6 1028.9,1111.0 1030.3,1114.4 1031.7,1118.4 1033.1,1122.3 1034.5,1125.6 1035.9,1129.0 1037.4,1132.7 1038.8,1138.0 1040.2,1144.8 1041.6,1151.7 1043.0,1158.3 1044.4,1164.7 1045.8,1170.8 1047.2,1176.0 1048.7,1181.4 1050.1,1187.2 1051.5,1193.4 1052.9,1199.4 1054.3,1204.5 1055.7,1209.1 1057.1,1212.9 1058.5,1217.3 1060.0,1221.5 1061.4,1225.6 1062.8,1229.8 1064.2,1234.1 1065.6,1238.3 1067.0,1242.9 1068.4,1248.0 1069.8,1253.1 1071.3,1258.0 1072.7,1262.1 1074.1,1266.7 1075.5,1272.6 1076.9,1278.9 1078.3,1284.2 1079.7,1288.9 1081.1,1298.9 1082.6,1309.0 1084.0,1317.0 1085.4,1316.5 1086.8,1317.3 1088.2,1323.4 1089.6,1318.3 1091.0,1318.1 1092.4,1318.8 1093.9,1319.1 1095.3,1318.5 1096.7,1317.9 1098.1,1316.6 1099.5,1316.4 1100.9,1317.1 1102.3,1317.2 1103.7,1316.7 1105.2,1317.1 1106.6,1318.3 1108.0,1318.1 1109.4,1317.8 1110.8,1317.8 1112.2,1316.6 1113.6,1316.1 1115.0,1316.6 1116.5,1316.7 1117.9,1316.3 1119.3,1316.1 1120.7,1316.6 1122.1,1318.0 1123.5,1318.3 1124.9,1318.4 1126.3,1319.4 1127.8,1319.9 1129.2,1320.3 1130.6,1320.1 1132.0,1320.1 1133.4,1320.1 1134.8,1319.5 1136.2,1319.1 1137.6,1319.1 1139.1,1319.8 1140.5,1320.6 1141.9,1320.2 1143.3,1319.0 1144.7,1318.6 1146.1,1318.3 1147.5,1317.2 1148.9,1316.5 1150.4,1317.9 1151.8,1318.9 1153.2,1319.9 1154.6,1319.5 1156.0,1318.0" fill="none" stroke="#b068e2" stroke-width="2.4" stroke-linejoin="round" stroke-linecap="round"/>
<polyline points="355.2,1272.5 356.6,1272.7 358.0,1272.5 359.4,1273.0 360.8,1273.4 362.2,1272.2 363.6,1271.6 365.1,1271.5 366.5,1271.0 367.9,1270.6 369.3,1270.5 370.7,1270.8 372.1,1271.0 373.5,1271.4 374.9,1272.1 376.4,1272.8 377.8,1272.8 379.2,1272.0 380.6,1271.9 382.0,1273.0 383.4,1272.7 384.8,1271.3 386.2,1271.5 387.7,1272.3 389.1,1271.5 390.5,1270.0 391.9,1269.7 393.3,1268.9 394.7,1266.4 396.1,1263.6 397.5,1261.9 399.0,1260.6 400.4,1259.0 401.8,1258.3 403.2,1259.3 404.6,1261.5 406.0,1263.6 407.4,1265.9 408.8,1268.0 410.3,1269.5 411.7,1270.1 413.1,1271.1 414.5,1271.8 415.9,1272.4 417.3,1272.4 418.7,1272.0 420.1,1271.8 421.6,1271.4 423.0,1271.2 424.4,1271.0 425.8,1271.7 427.2,1272.6 428.6,1272.3 430.0,1271.2 431.4,1270.7 432.9,1270.5 434.3,1270.9 435.7,1271.9 437.1,1271.7 438.5,1271.0 439.9,1271.0 441.3,1271.5 442.7,1270.7 444.2,1269.7 445.6,1270.0 447.0,1271.3 448.4,1271.5 449.8,1270.5 451.2,1269.8 452.6,1270.2 454.0,1270.7 455.4,1270.4 456.9,1270.7 458.3,1271.6 459.7,1273.9 461.1,1272.9 462.5,1269.9 463.9,1272.4 465.3,1272.5 466.7,1272.2 468.2,1271.0 469.6,1270.2 471.0,1269.7 472.4,1269.8 473.8,1270.9 475.2,1271.6 476.6,1270.8 478.0,1270.6 479.5,1271.2 480.9,1271.5 482.3,1270.8 483.7,1269.5 485.1,1269.4 486.5,1270.2 487.9,1270.2 489.3,1270.3 490.8,1269.8 492.2,1269.6 493.6,1270.2 495.0,1271.3 496.4,1271.8 497.8,1272.2 499.2,1273.1 500.6,1272.8 502.1,1271.4 503.5,1270.4 504.9,1271.4 506.3,1271.8 507.7,1270.9 509.1,1270.8 510.5,1271.4 511.9,1271.4 513.4,1271.3 514.8,1271.0 516.2,1270.1 517.6,1270.2 519.0,1270.8 520.4,1271.8 521.8,1272.6 523.2,1272.5 524.7,1271.2 526.1,1268.7 527.5,1265.5 528.9,1264.0 530.3,1265.1 531.7,1266.9 533.1,1268.8 534.5,1269.9 536.0,1270.7 537.4,1271.2 538.8,1271.0 540.2,1270.0 541.6,1269.5 543.0,1270.0 544.4,1269.2 545.8,1269.1 547.3,1269.3 548.7,1269.7 550.1,1269.0 551.5,1269.6 552.9,1269.7 554.3,1270.6 555.7,1270.9 557.1,1270.6 558.6,1270.5 560.0,1271.0 561.4,1271.7 562.8,1272.0 564.2,1271.7 565.6,1270.8 567.0,1269.4 568.4,1268.9 569.9,1269.4 571.3,1268.9 572.7,1267.7 574.1,1268.7 575.5,1269.5 576.9,1269.2 578.3,1270.2 579.7,1271.1 581.2,1270.6 582.6,1269.9 584.0,1269.8 585.4,1270.6 586.8,1271.3 588.2,1271.2 589.6,1272.1 591.0,1272.3 592.5,1271.4 593.9,1271.0 595.3,1270.7 596.7,1271.0 598.1,1271.9 599.5,1271.3 600.9,1270.0 602.3,1269.4 603.8,1269.9 605.2,1270.7 606.6,1271.8 608.0,1272.3 609.4,1271.7 610.8,1271.7 612.2,1272.1 613.6,1273.3 615.1,1273.5 616.5,1273.5 617.9,1273.5 619.3,1273.5 620.7,1272.4 622.1,1271.7 623.5,1272.6 624.9,1273.0 626.4,1273.2 627.8,1273.6 629.2,1273.8 630.6,1274.5 632.0,1275.1 633.4,1275.5 634.8,1274.9 636.2,1276.7 637.6,1274.7 639.1,1275.1 640.5,1275.0 641.9,1275.3 643.3,1275.0 644.7,1274.3 646.1,1273.6 647.5,1272.5 648.9,1271.8 650.4,1272.3 651.8,1272.4 653.2,1272.3 654.6,1273.4 656.0,1274.7 657.4,1274.0 658.8,1272.6 660.2,1272.5 661.7,1272.5 663.1,1273.1 664.5,1273.8 665.9,1274.0 667.3,1274.5 668.7,1276.2 670.1,1277.1 671.5,1276.2 673.0,1275.5 674.4,1274.8 675.8,1274.5 677.2,1274.7 678.6,1274.7 680.0,1274.4 681.4,1273.6 682.8,1272.8 684.3,1271.5 685.7,1272.2 687.1,1273.4 688.5,1273.7 689.9,1273.4 691.3,1273.0 692.7,1273.6 694.1,1274.3 695.6,1274.2 697.0,1273.4 698.4,1271.8 699.8,1271.6 701.2,1273.5 702.6,1274.3 704.0,1273.4 705.4,1273.0 706.9,1273.8 708.3,1274.2 709.7,1274.5 711.1,1274.5 712.5,1273.9 713.9,1273.3 715.3,1273.2 716.7,1274.1 718.2,1274.4 719.6,1274.5 721.0,1274.3 722.4,1273.6 723.8,1273.3 725.2,1272.8 726.6,1273.2 728.0,1273.2 729.5,1272.4 730.9,1272.3 732.3,1272.3 733.7,1271.7 735.1,1272.0 736.5,1272.9 737.9,1273.0 739.3,1273.8 740.8,1274.3 742.2,1274.4 743.6,1274.3 745.0,1274.1 746.4,1273.5 747.8,1272.8 749.2,1272.7 750.6,1272.8 752.1,1271.3 753.5,1270.9 754.9,1271.9 756.3,1271.9 757.7,1271.5 759.1,1271.5 760.5,1271.4 761.9,1271.3 763.4,1271.5 764.8,1272.2 766.2,1272.8 767.6,1272.8 769.0,1272.0 770.4,1270.9 771.8,1271.2 773.2,1270.7 774.7,1271.2 776.1,1272.8 777.5,1273.7 778.9,1273.9 780.3,1274.2 781.7,1274.3 783.1,1273.6 784.5,1272.8 786.0,1271.8 787.4,1270.2 788.8,1270.2 790.2,1271.3 791.6,1272.2 793.0,1272.8 794.4,1272.2 795.8,1271.9 797.3,1272.4 798.7,1273.2 800.1,1273.4 801.5,1273.3 802.9,1273.1 804.3,1272.5 805.7,1272.7 807.1,1272.2 808.5,1271.3 810.0,1271.0 811.4,1270.9 812.8,1271.3 814.2,1271.2 815.6,1270.1 817.0,1270.4 818.4,1272.1 819.8,1272.6 821.3,1272.0 822.7,1271.6 824.1,1271.6 825.5,1272.5 826.9,1273.9 828.3,1274.8 829.7,1274.4 831.1,1273.7 832.6,1272.9 834.0,1271.7 835.4,1272.2 836.8,1273.4 838.2,1273.8 839.6,1274.2 841.0,1274.6 842.4,1274.5 843.9,1274.5 845.3,1274.5 846.7,1273.4 848.1,1273.0 849.5,1273.7 850.9,1274.0 852.3,1274.3 853.7,1274.0 855.2,1273.5 856.6,1273.6 858.0,1272.9 859.4,1272.1 860.8,1277.2 862.2,1273.7 863.6,1273.5 865.0,1274.2 866.5,1275.1 867.9,1274.3 869.3,1273.2 870.7,1272.7 872.1,1272.1 873.5,1271.9 874.9,1272.2 876.3,1272.1 877.8,1271.6 879.2,1271.0 880.6,1270.8 882.0,1271.8 883.4,1274.3 884.8,1274.9 886.2,1273.2 887.6,1272.7 889.1,1272.8 890.5,1271.9 891.9,1270.9 893.3,1270.5 894.7,1270.5 896.1,1270.6 897.5,1271.5 898.9,1272.4 900.4,1271.6 901.8,1270.9 903.2,1272.4 904.6,1274.0 906.0,1272.9 907.4,1270.6 908.8,1271.3 910.2,1271.1 911.7,1270.7 913.1,1269.1 914.5,1268.8 915.9,1267.9 917.3,1266.5 918.7,1264.9 920.1,1261.9 921.5,1259.1 923.0,1255.3 924.4,1251.9 925.8,1250.5 927.2,1248.9 928.6,1245.1 930.0,1240.5 931.4,1235.9 932.8,1232.0 934.3,1228.3 935.7,1224.0 937.1,1219.7 938.5,1215.7 939.9,1211.8 941.3,1207.3 942.7,1202.3 944.1,1196.9 945.6,1191.7 947.0,1187.1 948.4,1182.2 949.8,1176.6 951.2,1170.3 952.6,1163.9 954.0,1158.0 955.4,1151.9 956.9,1146.2 958.3,1140.4 959.7,1134.1 961.1,1128.1 962.5,1122.9 963.9,1117.4 965.3,1113.7 966.7,1111.0 968.2,1108.3 969.6,1105.0 971.0,1101.6 972.4,1099.3 973.8,1097.0 975.2,1094.1 976.6,1090.5 978.0,1086.3 979.5,1081.7 980.9,1079.6 982.3,1078.4 983.7,1079.6 985.1,1081.1 986.5,1083.5 987.9,1086.0 989.3,1086.9 990.7,1086.3 992.2,1083.2 993.6,1080.8 995.0,1078.1 996.4,1075.6 997.8,1073.1 999.2,1069.3 1000.6,1066.0 1002.0,1064.7 1003.5,1062.7 1004.9,1060.6 1006.3,1058.0 1007.7,1055.7 1009.1,1054.3 1010.5,1053.0 1011.9,1052.1 1013.3,1051.0 1014.8,1049.4 1016.2,1047.6 1017.6,1047.0 1019.0,1046.7 1020.4,1047.8 1021.8,1050.3 1023.2,1052.5 1024.6,1054.1 1026.1,1056.8 1027.5,1060.4 1028.9,1064.5 1030.3,1068.4 1031.7,1072.0 1033.1,1075.7 1034.5,1078.6 1035.9,1081.9 1037.4,1086.7 1038.8,1092.9 1040.2,1098.8 1041.6,1105.3 1043.0,1111.8 1044.4,1117.7 1045.8,1123.9 1047.2,1130.3 1048.7,1136.3 1050.1,1142.4 1051.5,1149.0 1052.9,1155.5 1054.3,1160.5 1055.7,1164.9 1057.1,1168.6 1058.5,1172.4 1060.0,1176.6 1061.4,1180.4 1062.8,1184.4 1064.2,1189.0 1065.6,1193.3 1067.0,1197.4 1068.4,1202.2 1069.8,1207.0 1071.3,1210.8 1072.7,1214.6 1074.1,1219.5 1075.5,1225.3 1076.9,1231.9 1078.3,1237.9 1079.7,1242.8 1081.1,1252.4 1082.6,1262.6 1084.0,1272.0 1085.4,1272.7 1086.8,1272.2 1088.2,1271.8 1089.6,1272.1 1091.0,1272.3 1092.4,1271.5 1093.9,1270.1 1095.3,1269.7 1096.7,1270.4 1098.1,1270.9 1099.5,1270.4 1100.9,1269.5 1102.3,1269.4 1103.7,1269.5 1105.2,1269.5 1106.6,1269.4 1108.0,1269.9 1109.4,1271.2 1110.8,1271.5 1112.2,1271.4 1113.6,1270.5 1115.0,1269.4 1116.5,1269.3 1117.9,1269.5 1119.3,1269.3 1120.7,1269.5 1122.1,1270.6 1123.5,1271.3 1124.9,1271.7 1126.3,1271.1 1127.8,1270.5 1129.2,1270.5 1130.6,1270.7 1132.0,1270.7 1133.4,1271.3 1134.8,1272.6 1136.2,1272.5 1137.6,1271.2 1139.1,1269.5 1140.5,1268.8 1141.9,1268.9 1143.3,1269.1 1144.7,1269.6 1146.1,1270.2 1147.5,1270.3 1148.9,1269.3 1150.4,1268.3 1151.8,1268.1 1153.2,1267.2 1154.6,1266.6 1156.0,1266.3" fill="none" stroke="#c89000" stroke-width="2.4" stroke-linejoin="round" stroke-linecap="round"/>
<polyline points="355.2,1225.6 356.6,1223.7 358.0,1222.3 359.4,1223.0 360.8,1225.3 362.2,1226.7 363.6,1226.3 365.1,1225.4 366.5,1225.4 367.9,1225.8 369.3,1226.6 370.7,1226.9 372.1,1226.4 373.5,1226.5 374.9,1225.9 376.4,1224.7 377.8,1224.1 379.2,1224.3 380.6,1224.2 382.0,1223.6 383.4,1224.2 384.8,1225.2 386.2,1224.5 387.7,1223.5 389.1,1224.3 390.5,1224.5 391.9,1224.3 393.3,1223.1 394.7,1220.4 396.1,1217.3 397.5,1214.8 399.0,1211.9 400.4,1212.3 401.8,1211.2 403.2,1213.1 404.6,1215.0 406.0,1216.3 407.4,1218.1 408.8,1220.0 410.3,1221.0 411.7,1221.9 413.1,1223.2 414.5,1223.3 415.9,1223.1 417.3,1222.7 418.7,1221.9 420.1,1222.3 421.6,1223.2 423.0,1223.8 424.4,1224.3 425.8,1224.3 427.2,1224.4 428.6,1225.0 430.0,1224.9 431.4,1224.1 432.9,1223.8 434.3,1224.0 435.7,1224.2 437.1,1224.8 438.5,1225.6 439.9,1224.9 441.3,1223.4 442.7,1222.9 444.2,1222.2 445.6,1221.7 447.0,1221.7 448.4,1221.7 449.8,1221.5 451.2,1222.2 452.6,1223.3 454.0,1224.1 455.4,1225.0 456.9,1224.8 458.3,1224.8 459.7,1225.1 461.1,1224.8 462.5,1224.5 463.9,1224.8 465.3,1224.9 466.7,1223.7 468.2,1223.1 469.6,1224.1 471.0,1224.8 472.4,1225.4 473.8,1225.7 475.2,1226.4 476.6,1227.1 478.0,1227.6 479.5,1227.6 480.9,1227.6 482.3,1228.4 483.7,1229.2 485.1,1228.3 486.5,1227.4 487.9,1227.7 489.3,1227.8 490.8,1228.4 492.2,1227.7 493.6,1226.0 495.0,1225.3 496.4,1224.6 497.8,1224.9 499.2,1225.3 500.6,1225.7 502.1,1226.0 503.5,1225.8 504.9,1225.8 506.3,1225.9 507.7,1225.8 509.1,1225.0 510.5,1224.7 511.9,1224.9 513.4,1224.9 514.8,1224.2 516.2,1223.4 517.6,1224.0 519.0,1224.8 520.4,1224.2 521.8,1223.9 523.2,1223.5 524.7,1221.4 526.1,1218.4 527.5,1216.1 528.9,1215.7 530.3,1215.3 531.7,1218.6 533.1,1221.6 534.5,1224.5 536.0,1224.7 537.4,1224.9 538.8,1226.0 540.2,1225.8 541.6,1225.3 543.0,1225.3 544.4,1224.0 545.8,1225.2 547.3,1225.5 548.7,1225.9 550.1,1226.3 551.5,1226.5 552.9,1226.5 554.3,1226.5 555.7,1225.8 557.1,1225.0 558.6,1224.8 560.0,1224.8 561.4,1225.9 562.8,1226.3 564.2,1225.2 565.6,1224.9 567.0,1225.3 568.4,1226.0 569.9,1227.3 571.3,1228.5 572.7,1228.2 574.1,1227.0 575.5,1226.1 576.9,1226.6 578.3,1227.0 579.7,1227.9 581.2,1227.8 582.6,1226.2 584.0,1225.7 585.4,1226.6 586.8,1226.6 588.2,1225.4 589.6,1225.5 591.0,1226.3 592.5,1226.7 593.9,1226.1 595.3,1226.4 596.7,1227.3 598.1,1226.9 599.5,1227.0 600.9,1226.9 602.3,1226.2 603.8,1224.5 605.2,1222.8 606.6,1222.7 608.0,1223.5 609.4,1224.1 610.8,1224.5 612.2,1224.9 613.6,1224.3 615.1,1224.3 616.5,1224.8 617.9,1225.8 619.3,1227.0 620.7,1227.0 622.1,1226.3 623.5,1226.1 624.9,1225.6 626.4,1223.5 627.8,1222.5 629.2,1222.6 630.6,1222.5 632.0,1223.0 633.4,1224.4 634.8,1225.4 636.2,1225.3 637.6,1225.0 639.1,1225.8 640.5,1227.4 641.9,1227.3 643.3,1226.6 644.7,1226.2 646.1,1226.8 647.5,1227.3 648.9,1226.7 650.4,1226.4 651.8,1226.0 653.2,1225.8 654.6,1225.8 656.0,1225.3 657.4,1224.5 658.8,1224.1 660.2,1224.9 661.7,1225.3 663.1,1224.9 664.5,1224.3 665.9,1224.0 667.3,1224.4 668.7,1224.3 670.1,1224.0 671.5,1224.2 673.0,1224.6 674.4,1224.2 675.8,1223.2 677.2,1223.0 678.6,1223.1 680.0,1223.5 681.4,1224.4 682.8,1224.5 684.3,1225.4 685.7,1226.5 687.1,1226.2 688.5,1225.0 689.9,1225.1 691.3,1226.1 692.7,1225.9 694.1,1225.9 695.6,1226.1 697.0,1226.4 698.4,1226.9 699.8,1226.3 701.2,1225.7 702.6,1224.8 704.0,1223.9 705.4,1224.7 706.9,1225.6 708.3,1225.2 709.7,1224.1 711.1,1224.1 712.5,1225.0 713.9,1225.8 715.3,1226.5 716.7,1227.3 718.2,1226.8 719.6,1225.1 721.0,1224.6 722.4,1225.2 723.8,1225.9 725.2,1226.1 726.6,1225.6 728.0,1225.8 729.5,1226.7 730.9,1227.0 732.3,1226.2 733.7,1226.6 735.1,1227.0 736.5,1226.4 737.9,1225.3 739.3,1224.4 740.8,1224.7 742.2,1226.0 743.6,1227.0 745.0,1227.1 746.4,1226.3 747.8,1225.6 749.2,1225.7 750.6,1225.9 752.1,1226.0 753.5,1225.7 754.9,1225.6 756.3,1225.4 757.7,1224.3 759.1,1223.6 760.5,1224.1 761.9,1224.5 763.4,1224.5 764.8,1224.0 766.2,1223.5 767.6,1223.4 769.0,1223.2 770.4,1222.0 771.8,1221.3 773.2,1223.3 774.7,1226.8 776.1,1228.0 777.5,1227.4 778.9,1226.4 780.3,1226.1 781.7,1227.1 783.1,1228.0 784.5,1228.4 786.0,1228.9 787.4,1228.9 788.8,1229.1 790.2,1229.0 791.6,1226.8 793.0,1225.7 794.4,1225.5 795.8,1225.4 797.3,1226.2 798.7,1226.5 800.1,1226.5 801.5,1226.7 802.9,1226.4 804.3,1226.0 805.7,1224.9 807.1,1225.0 808.5,1225.5 810.0,1226.6 811.4,1227.1 812.8,1226.7 814.2,1226.8 815.6,1227.6 817.0,1227.6 818.4,1227.8 819.8,1227.9 821.3,1227.9 822.7,1228.0 824.1,1227.4 825.5,1227.0 826.9,1227.1 828.3,1226.8 829.7,1225.7 831.1,1225.8 832.6,1225.9 834.0,1226.5 835.4,1227.1 836.8,1226.3 838.2,1225.8 839.6,1226.0 841.0,1225.4 842.4,1225.2 843.9,1226.3 845.3,1227.1 846.7,1227.3 848.1,1226.8 849.5,1226.4 850.9,1227.7 852.3,1228.6 853.7,1227.7 855.2,1226.6 856.6,1227.0 858.0,1227.1 859.4,1226.5 860.8,1225.9 862.2,1225.0 863.6,1224.6 865.0,1225.2 866.5,1225.3 867.9,1225.4 869.3,1225.7 870.7,1225.2 872.1,1224.9 873.5,1224.4 874.9,1224.7 876.3,1225.0 877.8,1225.5 879.2,1225.9 880.6,1226.2 882.0,1226.5 883.4,1226.9 884.8,1227.5 886.2,1227.3 887.6,1226.9 889.1,1227.9 890.5,1228.0 891.9,1226.0 893.3,1225.4 894.7,1226.4 896.1,1226.7 897.5,1226.6 898.9,1226.7 900.4,1227.3 901.8,1227.8 903.2,1226.8 904.6,1226.0 906.0,1226.7 907.4,1227.2 908.8,1228.0 910.2,1227.4 911.7,1225.9 913.1,1224.2 914.5,1223.3 915.9,1221.5 917.3,1219.7 918.7,1217.7 920.1,1216.3 921.5,1214.9 923.0,1212.9 924.4,1210.2 925.8,1207.0 927.2,1205.0 928.6,1202.4 930.0,1198.5 931.4,1194.0 932.8,1189.6 934.3,1184.5 935.7,1179.0 937.1,1174.4 938.5,1169.7 939.9,1164.5 941.3,1159.6 942.7,1155.6 944.1,1151.4 945.6,1146.3 947.0,1140.7 948.4,1134.5 949.8,1128.3 951.2,1122.6 952.6,1116.0 954.0,1108.9 955.4,1102.0 956.9,1096.1 958.3,1091.4 959.7,1087.0 961.1,1082.4 962.5,1076.8 963.9,1070.5 965.3,1066.9 966.7,1063.9 968.2,1060.3 969.6,1057.1 971.0,1054.1 972.4,1051.3 973.8,1048.7 975.2,1045.3 976.6,1041.8 978.0,1039.1 979.5,1037.0 980.9,1035.5 982.3,1033.1 983.7,1033.7 985.1,1035.5 986.5,1037.4 987.9,1038.7 989.3,1040.3 990.7,1041.5 992.2,1039.0 993.6,1036.3 995.0,1033.4 996.4,1030.4 997.8,1027.8 999.2,1024.6 1000.6,1020.8 1002.0,1019.3 1003.5,1017.2 1004.9,1015.0 1006.3,1012.8 1007.7,1010.5 1009.1,1009.1 1010.5,1008.2 1011.9,1007.5 1013.3,1006.4 1014.8,1004.7 1016.2,1002.7 1017.6,1002.0 1019.0,1001.4 1020.4,1002.1 1021.8,1003.2 1023.2,1005.3 1024.6,1007.3 1026.1,1009.6 1027.5,1013.7 1028.9,1017.7 1030.3,1021.1 1031.7,1024.7 1033.1,1028.8 1034.5,1032.3 1035.9,1035.9 1037.4,1040.5 1038.8,1046.6 1040.2,1053.2 1041.6,1060.0 1043.0,1066.7 1044.4,1073.5 1045.8,1079.8 1047.2,1085.6 1048.7,1091.4 1050.1,1097.1 1051.5,1102.7 1052.9,1108.8 1054.3,1113.9 1055.7,1118.1 1057.1,1122.4 1058.5,1126.7 1060.0,1130.4 1061.4,1134.4 1062.8,1139.3 1064.2,1143.8 1065.6,1147.3 1067.0,1151.8 1068.4,1156.7 1069.8,1161.0 1071.3,1165.0 1072.7,1169.7 1074.1,1175.3 1075.5,1180.7 1076.9,1186.2 1078.3,1192.2 1079.7,1197.9 1081.1,1208.3 1082.6,1219.0 1084.0,1227.6 1085.4,1227.8 1086.8,1227.2 1088.2,1225.8 1089.6,1224.9 1091.0,1224.7 1092.4,1223.8 1093.9,1222.8 1095.3,1222.4 1096.7,1222.4 1098.1,1222.5 1099.5,1222.3 1100.9,1223.2 1102.3,1223.9 1103.7,1223.4 1105.2,1222.8 1106.6,1222.1 1108.0,1222.1 1109.4,1222.0 1110.8,1221.7 1112.2,1220.5 1113.6,1220.7 1115.0,1221.6 1116.5,1222.5 1117.9,1222.7 1119.3,1223.0 1120.7,1223.5 1122.1,1223.3 1123.5,1222.1 1124.9,1221.5 1126.3,1221.6 1127.8,1222.4 1129.2,1223.8 1130.6,1223.9 1132.0,1222.7 1133.4,1221.7 1134.8,1222.4 1136.2,1223.3 1137.6,1223.9 1139.1,1223.7 1140.5,1223.2 1141.9,1222.1 1143.3,1221.4 1144.7,1221.8 1146.1,1222.5 1147.5,1222.6 1148.9,1223.0 1150.4,1223.5 1151.8,1223.3 1153.2,1224.4 1154.6,1225.8 1156.0,1227.0" fill="none" stroke="#10c4c4" stroke-width="2.4" stroke-linejoin="round" stroke-linecap="round"/>
<polyline points="355.2,1175.6 356.6,1175.4 358.0,1175.5 359.4,1175.3 360.8,1174.8 362.2,1175.8 363.6,1176.7 365.1,1176.5 366.5,1176.5 367.9,1176.8 369.3,1176.2 370.7,1176.5 372.1,1178.2 373.5,1179.1 374.9,1177.1 376.4,1176.0 377.8,1176.8 379.2,1177.1 380.6,1176.8 382.0,1176.7 383.4,1177.5 384.8,1176.9 386.2,1176.1 387.7,1176.3 389.1,1176.8 390.5,1176.9 391.9,1176.0 393.3,1173.2 394.7,1169.8 396.1,1167.5 397.5,1165.4 399.0,1163.6 400.4,1163.8 401.8,1165.5 403.2,1166.7 404.6,1167.8 406.0,1170.0 407.4,1171.7 408.8,1173.0 410.3,1174.6 411.7,1175.7 413.1,1176.7 414.5,1177.2 415.9,1177.2 417.3,1176.7 418.7,1177.5 420.1,1178.9 421.6,1177.9 423.0,1176.8 424.4,1177.4 425.8,1177.8 427.2,1177.5 428.6,1178.4 430.0,1179.5 431.4,1179.6 432.9,1179.1 434.3,1178.7 435.7,1178.1 437.1,1178.8 438.5,1175.2 439.9,1179.3 441.3,1180.1 442.7,1180.3 444.2,1180.0 445.6,1179.8 447.0,1178.7 448.4,1177.6 449.8,1177.4 451.2,1177.3 452.6,1178.0 454.0,1179.5 455.4,1180.3 456.9,1180.0 458.3,1179.8 459.7,1179.9 461.1,1179.5 462.5,1179.3 463.9,1179.5 465.3,1180.1 466.7,1180.6 468.2,1181.1 469.6,1180.9 471.0,1179.5 472.4,1178.7 473.8,1179.5 475.2,1180.1 476.6,1180.4 478.0,1180.9 479.5,1180.7 480.9,1180.8 482.3,1181.3 483.7,1181.6 485.1,1181.2 486.5,1181.1 487.9,1181.0 489.3,1180.5 490.8,1178.8 492.2,1177.7 493.6,1177.9 495.0,1179.0 496.4,1179.9 497.8,1179.5 499.2,1178.7 500.6,1177.9 502.1,1177.5 503.5,1178.6 504.9,1179.8 506.3,1180.5 507.7,1181.6 509.1,1182.3 510.5,1181.4 511.9,1179.2 513.4,1177.5 514.8,1177.6 516.2,1178.6 517.6,1179.1 519.0,1179.0 520.4,1178.3 521.8,1177.2 523.2,1177.0 524.7,1177.0 526.1,1174.9 527.5,1172.9 528.9,1172.8 530.3,1173.5 531.7,1175.2 533.1,1176.6 534.5,1177.3 536.0,1178.3 537.4,1179.3 538.8,1179.2 540.2,1178.2 541.6,1177.6 543.0,1178.2 544.4,1176.5 545.8,1179.1 547.3,1178.9 548.7,1177.7 550.1,1176.4 551.5,1176.5 552.9,1178.2 554.3,1180.7 555.7,1182.1 557.1,1181.1 558.6,1179.4 560.0,1179.6 561.4,1179.6 562.8,1178.4 564.2,1178.4 565.6,1177.7 567.0,1176.4 568.4,1177.0 569.9,1178.1 571.3,1179.4 572.7,1180.4 574.1,1179.4 575.5,1178.4 576.9,1178.4 578.3,1178.2 579.7,1178.9 581.2,1179.4 582.6,1178.5 584.0,1178.1 585.4,1178.6 586.8,1179.0 588.2,1179.1 589.6,1179.1 591.0,1179.6 592.5,1178.9 593.9,1181.8 595.3,1181.7 596.7,1180.5 598.1,1179.6 599.5,1179.8 600.9,1180.6 602.3,1181.2 603.8,1180.8 605.2,1180.3 606.6,1180.0 608.0,1179.6 609.4,1178.5 610.8,1177.0 612.2,1177.8 613.6,1180.5 615.1,1180.4 616.5,1178.6 617.9,1178.7 619.3,1178.8 620.7,1178.5 622.1,1178.0 623.5,1178.4 624.9,1179.8 626.4,1180.3 627.8,1180.7 629.2,1180.9 630.6,1180.4 632.0,1180.0 633.4,1180.4 634.8,1181.3 636.2,1181.2 637.6,1181.4 639.1,1181.8 640.5,1181.6 641.9,1181.4 643.3,1181.5 644.7,1181.1 646.1,1180.6 647.5,1180.2 648.9,1180.6 650.4,1180.1 651.8,1178.4 653.2,1176.7 654.6,1177.2 656.0,1178.8 657.4,1179.9 658.8,1179.2 660.2,1178.4 661.7,1177.3 663.1,1177.4 664.5,1179.0 665.9,1179.4 667.3,1178.3 668.7,1178.4 670.1,1178.4 671.5,1177.6 673.0,1177.3 674.4,1177.1 675.8,1176.7 677.2,1177.3 678.6,1178.1 680.0,1178.0 681.4,1178.5 682.8,1179.5 684.3,1179.9 685.7,1180.2 687.1,1179.6 688.5,1179.6 689.9,1180.2 691.3,1180.6 692.7,1179.8 694.1,1179.1 695.6,1180.0 697.0,1180.7 698.4,1180.5 699.8,1179.2 701.2,1177.9 702.6,1177.7 704.0,1178.5 705.4,1179.0 706.9,1178.3 708.3,1178.8 709.7,1179.8 711.1,1180.1 712.5,1179.9 713.9,1180.2 715.3,1181.2 716.7,1181.0 718.2,1179.9 719.6,1180.2 721.0,1181.3 722.4,1181.3 723.8,1179.9 725.2,1179.6 726.6,1180.9 728.0,1181.9 729.5,1181.8 730.9,1182.8 732.3,1182.8 733.7,1181.8 735.1,1180.7 736.5,1180.8 737.9,1180.2 739.3,1178.9 740.8,1179.2 742.2,1179.9 743.6,1179.6 745.0,1178.8 746.4,1178.5 747.8,1178.3 749.2,1178.2 750.6,1178.6 752.1,1179.7 753.5,1180.0 754.9,1179.1 756.3,1179.1 757.7,1179.4 759.1,1179.0 760.5,1178.0 761.9,1177.3 763.4,1177.6 764.8,1178.7 766.2,1179.3 767.6,1179.1 769.0,1178.9 770.4,1179.4 771.8,1180.9 773.2,1181.8 774.7,1181.4 776.1,1180.9 777.5,1180.3 778.9,1181.3 780.3,1181.4 781.7,1179.8 783.1,1178.8 784.5,1178.4 786.0,1178.0 787.4,1178.1 788.8,1178.5 790.2,1178.5 791.6,1178.9 793.0,1179.1 794.4,1178.7 795.8,1179.8 797.3,1180.2 798.7,1179.0 800.1,1178.8 801.5,1175.3 802.9,1178.5 804.3,1178.0 805.7,1177.3 807.1,1176.8 808.5,1177.4 810.0,1178.2 811.4,1178.2 812.8,1178.2 814.2,1178.8 815.6,1178.7 817.0,1178.1 818.4,1178.2 819.8,1179.4 821.3,1180.4 822.7,1180.4 824.1,1180.2 825.5,1179.6 826.9,1179.8 828.3,1180.3 829.7,1180.8 831.1,1181.1 832.6,1181.3 834.0,1181.0 835.4,1180.2 836.8,1180.5 838.2,1180.2 839.6,1179.5 841.0,1179.7 842.4,1180.4 843.9,1180.6 845.3,1180.7 846.7,1180.7 848.1,1180.4 849.5,1180.1 850.9,1180.5 852.3,1180.9 853.7,1181.7 855.2,1181.8 856.6,1181.9 858.0,1182.6 859.4,1182.8 860.8,1182.6 862.2,1182.5 863.6,1183.0 865.0,1183.1 866.5,1181.8 867.9,1180.7 869.3,1180.7 870.7,1181.2 872.1,1181.3 873.5,1181.0 874.9,1181.0 876.3,1180.5 877.8,1180.2 879.2,1188.4 880.6,1180.8 882.0,1180.1 883.4,1180.5 884.8,1180.9 886.2,1180.2 887.6,1180.1 889.1,1180.5 890.5,1180.9 891.9,1180.5 893.3,1179.6 894.7,1178.8 896.1,1178.4 897.5,1178.9 898.9,1180.4 900.4,1182.3 901.8,1181.7 903.2,1181.3 904.6,1181.0 906.0,1181.8 907.4,1183.1 908.8,1182.3 910.2,1180.8 911.7,1180.4 913.1,1178.5 914.5,1176.7 915.9,1175.0 917.3,1173.6 918.7,1172.7 920.1,1170.7 921.5,1168.3 923.0,1166.2 924.4,1164.5 925.8,1162.1 927.2,1159.4 928.6,1155.6 930.0,1151.1 931.4,1146.4 932.8,1141.7 934.3,1137.0 935.7,1132.4 937.1,1128.2 938.5,1124.1 939.9,1119.7 941.3,1114.6 942.7,1109.0 944.1,1103.7 945.6,1099.1 947.0,1094.3 948.4,1088.4 949.8,1082.0 951.2,1076.1 952.6,1071.0 954.0,1065.5 955.4,1059.0 956.9,1053.4 958.3,1047.9 959.7,1041.1 961.1,1034.5 962.5,1029.4 963.9,1025.0 965.3,1021.0 966.7,1017.1 968.2,1014.5 969.6,1011.8 971.0,1008.7 972.4,1006.2 973.8,1004.0 975.2,1001.2 976.6,997.9 978.0,994.5 979.5,991.9 980.9,990.0 982.3,987.8 983.7,988.4 985.1,989.2 986.5,990.7 987.9,993.3 989.3,995.3 990.7,995.9 992.2,992.7 993.6,989.9 995.0,987.0 996.4,983.2 997.8,979.8 999.2,977.2 1000.6,973.9 1002.0,971.5 1003.5,969.2 1004.9,966.5 1006.3,963.9 1007.7,962.3 1009.1,961.7 1010.5,960.4 1011.9,958.7 1013.3,956.9 1014.8,954.6 1016.2,952.7 1017.6,952.4 1019.0,952.7 1020.4,954.3 1021.8,955.8 1023.2,957.7 1024.6,960.0 1026.1,962.6 1027.5,966.1 1028.9,970.2 1030.3,974.7 1031.7,979.0 1033.1,982.0 1034.5,985.2 1035.9,989.1 1037.4,994.4 1038.8,1001.6 1040.2,1007.9 1041.6,1013.3 1043.0,1019.0 1044.4,1025.2 1045.8,1031.6 1047.2,1038.2 1048.7,1044.6 1050.1,1050.1 1051.5,1055.9 1052.9,1062.2 1054.3,1066.8 1055.7,1070.7 1057.1,1074.0 1058.5,1077.8 1060.0,1082.1 1061.4,1086.9 1062.8,1091.9 1064.2,1095.9 1065.6,1099.8 1067.0,1103.7 1068.4,1108.3 1069.8,1114.3 1071.3,1119.1 1072.7,1123.1 1074.1,1128.2 1075.5,1133.2 1076.9,1138.2 1078.3,1143.7 1079.7,1149.4 1081.1,1160.5 1082.6,1172.0 1084.0,1180.5 1085.4,1180.4 1086.8,1180.3 1088.2,1180.5 1089.6,1180.5 1091.0,1180.3 1092.4,1182.9 1093.9,1178.9 1095.3,1178.7 1096.7,1178.4 1098.1,1178.2 1099.5,1178.1 1100.9,1178.5 1102.3,1178.5 1103.7,1178.3 1105.2,1179.1 1106.6,1180.3 1108.0,1181.2 1109.4,1181.4 1110.8,1180.5 1112.2,1179.4 1113.6,1178.0 1115.0,1178.1 1116.5,1178.9 1117.9,1179.2 1119.3,1178.2 1120.7,1176.6 1122.1,1177.7 1123.5,1178.2 1124.9,1180.5 1126.3,1181.9 1127.8,1181.6 1129.2,1180.7 1130.6,1180.8 1132.0,1181.0 1133.4,1180.9 1134.8,1181.7 1136.2,1181.8 1137.6,1181.0 1139.1,1179.6 1140.5,1179.4 1141.9,1180.8 1143.3,1181.4 1144.7,1181.8 1146.1,1183.0 1147.5,1183.3 1148.9,1182.4 1150.4,1182.2 1151.8,1182.6 1153.2,1183.2 1154.6,1182.8 1156.0,1181.5" fill="none" stroke="#6a363a" stroke-width="2.4" stroke-linejoin="round" stroke-linecap="round"/>
<line x1="346.7" y1="1766.4" x2="346.7" y2="2397.1" stroke="#222" stroke-width="2.8" stroke-linecap="butt"/>
<line x1="345.3" y1="2395.7" x2="1200.0" y2="2395.7" stroke="#222" stroke-width="2.8" stroke-linecap="butt"/>
<line x1="332.7" y1="2381.6" x2="346.7" y2="2381.6" stroke="#151515" stroke-width="2.3" stroke-linecap="butt"/>
<text class="s" x="325.5" y="2387.6" font-size="24" stroke="#161616" stroke-width="0.45" text-anchor="end" fill="#161616">0</text>
<line x1="339.7" y1="2343.3" x2="346.7" y2="2343.3" stroke="#151515" stroke-width="2.1" stroke-linecap="butt"/>
<line x1="332.7" y1="2304.9" x2="346.7" y2="2304.9" stroke="#151515" stroke-width="2.3" stroke-linecap="butt"/>
<text class="s" x="325.5" y="2310.9" font-size="24" stroke="#161616" stroke-width="0.45" text-anchor="end" fill="#161616">500</text>
<line x1="339.7" y1="2266.6" x2="346.7" y2="2266.6" stroke="#151515" stroke-width="2.1" stroke-linecap="butt"/>
<line x1="332.7" y1="2228.2" x2="346.7" y2="2228.2" stroke="#151515" stroke-width="2.3" stroke-linecap="butt"/>
<text class="s" x="325.5" y="2234.2" font-size="24" stroke="#161616" stroke-width="0.45" text-anchor="end" fill="#161616">1000</text>
<line x1="339.7" y1="2189.9" x2="346.7" y2="2189.9" stroke="#151515" stroke-width="2.1" stroke-linecap="butt"/>
<line x1="332.7" y1="2151.6" x2="346.7" y2="2151.6" stroke="#151515" stroke-width="2.3" stroke-linecap="butt"/>
<text class="s" x="325.5" y="2157.6" font-size="24" stroke="#161616" stroke-width="0.45" text-anchor="end" fill="#161616">1500</text>
<line x1="339.7" y1="2113.2" x2="346.7" y2="2113.2" stroke="#151515" stroke-width="2.1" stroke-linecap="butt"/>
<line x1="332.7" y1="2074.9" x2="346.7" y2="2074.9" stroke="#151515" stroke-width="2.3" stroke-linecap="butt"/>
<text class="s" x="325.5" y="2080.9" font-size="24" stroke="#161616" stroke-width="0.45" text-anchor="end" fill="#161616">2000</text>
<line x1="339.7" y1="2036.6" x2="346.7" y2="2036.6" stroke="#151515" stroke-width="2.1" stroke-linecap="butt"/>
<line x1="332.7" y1="1998.2" x2="346.7" y2="1998.2" stroke="#151515" stroke-width="2.3" stroke-linecap="butt"/>
<text class="s" x="325.5" y="2004.2" font-size="24" stroke="#161616" stroke-width="0.45" text-anchor="end" fill="#161616">2500</text>
<line x1="339.7" y1="1959.9" x2="346.7" y2="1959.9" stroke="#151515" stroke-width="2.1" stroke-linecap="butt"/>
<line x1="332.7" y1="1921.5" x2="346.7" y2="1921.5" stroke="#151515" stroke-width="2.3" stroke-linecap="butt"/>
<text class="s" x="325.5" y="1927.5" font-size="24" stroke="#161616" stroke-width="0.45" text-anchor="end" fill="#161616">3000</text>
<line x1="339.7" y1="1883.2" x2="346.7" y2="1883.2" stroke="#151515" stroke-width="2.1" stroke-linecap="butt"/>
<line x1="332.7" y1="1844.9" x2="346.7" y2="1844.9" stroke="#151515" stroke-width="2.3" stroke-linecap="butt"/>
<text class="s" x="325.5" y="1850.9" font-size="24" stroke="#161616" stroke-width="0.45" text-anchor="end" fill="#161616">3500</text>
<line x1="339.7" y1="1806.5" x2="346.7" y2="1806.5" stroke="#151515" stroke-width="2.1" stroke-linecap="butt"/>
<line x1="332.7" y1="1768.2" x2="346.7" y2="1768.2" stroke="#151515" stroke-width="2.3" stroke-linecap="butt"/>
<text class="s" x="325.5" y="1774.2" font-size="24" stroke="#161616" stroke-width="0.45" text-anchor="end" fill="#161616">4000</text>
<line x1="451.5" y1="2395.7" x2="451.5" y2="2408.7" stroke="#151515" stroke-width="2.3" stroke-linecap="butt"/>
<text class="s" x="451.5" y="2437.0" font-size="24" stroke="#161616" stroke-width="0.45" text-anchor="middle" fill="#161616">1000</text>
<line x1="573.6" y1="2395.7" x2="573.6" y2="2408.7" stroke="#151515" stroke-width="2.3" stroke-linecap="butt"/>
<text class="s" x="573.6" y="2437.0" font-size="24" stroke="#161616" stroke-width="0.45" text-anchor="middle" fill="#161616">1500</text>
<line x1="695.8" y1="2395.7" x2="695.8" y2="2408.7" stroke="#151515" stroke-width="2.3" stroke-linecap="butt"/>
<text class="s" x="695.8" y="2437.0" font-size="24" stroke="#161616" stroke-width="0.45" text-anchor="middle" fill="#161616">2000</text>
<line x1="818.0" y1="2395.7" x2="818.0" y2="2408.7" stroke="#151515" stroke-width="2.3" stroke-linecap="butt"/>
<text class="s" x="818.0" y="2437.0" font-size="24" stroke="#161616" stroke-width="0.45" text-anchor="middle" fill="#161616">2500</text>
<line x1="940.1" y1="2395.7" x2="940.1" y2="2408.7" stroke="#151515" stroke-width="2.3" stroke-linecap="butt"/>
<text class="s" x="940.1" y="2437.0" font-size="24" stroke="#161616" stroke-width="0.45" text-anchor="middle" fill="#161616">3000</text>
<line x1="1062.2" y1="2395.7" x2="1062.2" y2="2408.7" stroke="#151515" stroke-width="2.3" stroke-linecap="butt"/>
<text class="s" x="1062.2" y="2437.0" font-size="24" stroke="#161616" stroke-width="0.45" text-anchor="middle" fill="#161616">3500</text>
<line x1="1184.4" y1="2395.7" x2="1184.4" y2="2408.7" stroke="#151515" stroke-width="2.3" stroke-linecap="butt"/>
<text class="s" x="1184.4" y="2437.0" font-size="24" stroke="#161616" stroke-width="0.45" text-anchor="middle" fill="#161616">4000</text>
<line x1="390.4" y1="2395.7" x2="390.4" y2="2402.7" stroke="#151515" stroke-width="2.1" stroke-linecap="butt"/>
<line x1="512.6" y1="2395.7" x2="512.6" y2="2402.7" stroke="#151515" stroke-width="2.1" stroke-linecap="butt"/>
<line x1="634.7" y1="2395.7" x2="634.7" y2="2402.7" stroke="#151515" stroke-width="2.1" stroke-linecap="butt"/>
<line x1="756.9" y1="2395.7" x2="756.9" y2="2402.7" stroke="#151515" stroke-width="2.1" stroke-linecap="butt"/>
<line x1="879.0" y1="2395.7" x2="879.0" y2="2402.7" stroke="#151515" stroke-width="2.1" stroke-linecap="butt"/>
<line x1="1001.2" y1="2395.7" x2="1001.2" y2="2402.7" stroke="#151515" stroke-width="2.1" stroke-linecap="butt"/>
<line x1="1123.3" y1="2395.7" x2="1123.3" y2="2402.7" stroke="#151515" stroke-width="2.1" stroke-linecap="butt"/>
<text class="s" x="234.0" y="2107.0" font-size="37.9" font-weight="bold" text-anchor="middle" transform="rotate(-90 234.0 2107.0)" fill="#111">Raman Intensity / arbitr. units</text>
<text class="s" x="633" y="2502" font-size="37.2" font-weight="bold" fill="#111">Wavenumber / cm<tspan dy="-18" font-size="31">-1</tspan></text>
<text class="s" x="1043.0" y="1774.2" font-size="46" font-weight="bold" text-anchor="middle" fill="#111">3400</text>
<text class="s" x="533.5" y="2053.4" font-size="46" font-weight="bold" text-anchor="middle" fill="#111">1338</text>
<text class="s" x="1206.0" y="2384.0" font-size="27" font-weight="bold" fill="#111">0.5 h</text>
<text class="s" x="1206.0" y="2338.0" font-size="27" font-weight="bold" fill="#111">1 h</text>
<text class="s" x="1206.0" y="2297.8" font-size="27" font-weight="bold" fill="#111">2 h</text>
<text class="s" x="1206.0" y="2253.0" font-size="27" font-weight="bold" fill="#111">3 h</text>
<text class="s" x="1206.0" y="2202.0" font-size="27" font-weight="bold" fill="#111">4 h</text>
<text class="s" x="1206.0" y="2158.7" font-size="27" font-weight="bold" fill="#111">5 h</text>
<text class="s" x="1206.0" y="2112.0" font-size="27" font-weight="bold" fill="#111">6 h</text>
<polyline points="353.8,2382.9 355.2,2381.5 356.6,2380.6 358.0,2380.6 359.4,2380.6 360.9,2379.3 362.3,2379.5 363.7,2380.9 365.1,2381.7 366.5,2381.6 367.9,2380.4 369.4,2379.0 370.8,2379.4 372.2,2381.0 373.6,2380.7 375.0,2379.1 376.5,2379.6 377.9,2381.3 379.3,2381.7 380.7,2381.5 382.1,2380.7 383.5,2380.2 385.0,2380.5 386.4,2380.0 387.8,2379.1 389.2,2378.7 390.6,2378.3 392.0,2375.7 393.5,2371.8 394.9,2369.3 396.3,2366.1 397.7,2362.8 399.1,2360.7 400.5,2359.1 402.0,2357.9 403.4,2359.9 404.8,2364.3 406.2,2368.1 407.6,2371.9 409.0,2374.5 410.5,2374.6 411.9,2374.7 413.3,2376.0 414.7,2377.3 416.1,2379.1 417.5,2379.6 419.0,2379.5 420.4,2379.3 421.8,2379.0 423.2,2379.9 424.6,2381.6 426.0,2382.5 427.5,2381.8 428.9,2380.9 430.3,2381.3 431.7,2382.3 433.1,2381.7 434.5,2379.6 436.0,2379.0 437.4,2379.2 438.8,2378.4 440.2,2378.1 441.6,2378.6 443.0,2378.3 444.5,2377.0 445.9,2376.2 447.3,2375.9 448.7,2376.6 450.1,2378.1 451.5,2379.6 453.0,2380.4 454.4,2380.6 455.8,2380.2 457.2,2379.2 458.6,2378.0 460.1,2377.7 461.5,2378.6 462.9,2379.6 464.3,2380.7 465.7,2381.1 467.1,2380.7 468.6,2379.9 470.0,2379.8 471.4,2379.9 472.8,2380.1 474.2,2380.6 475.6,2379.3 477.1,2377.1 478.5,2374.9 479.9,2373.3 481.3,2373.1 482.7,2376.1 484.1,2376.9 485.6,2377.5 487.0,2378.6 488.4,2379.8 489.8,2380.1 491.2,2380.7 492.6,2382.0 494.1,2382.8 495.5,2383.2 496.9,2383.6 498.3,2383.2 499.7,2381.3 501.1,2380.7 502.6,2380.5 504.0,2379.9 505.4,2379.3 506.8,2378.5 508.2,2377.9 509.6,2377.8 511.1,2377.8 512.5,2378.6 513.9,2379.4 515.3,2380.5 516.7,2380.3 518.1,2379.1 519.6,2378.2 521.0,2378.8 522.4,2380.0 523.8,2379.0 525.2,2377.0 526.6,2377.3 528.1,2377.1 529.5,2374.7 530.9,2373.7 532.3,2373.7 533.7,2371.8 535.1,2370.9 536.6,2371.9 538.0,2372.9 539.4,2372.8 540.8,2373.1 542.2,2374.8 543.6,2375.0 545.1,2374.9 546.5,2375.0 547.9,2375.5 549.3,2376.3 550.7,2376.7 552.2,2377.0 553.6,2378.3 555.0,2380.5 556.4,2380.0 557.8,2379.2 559.2,2378.8 560.7,2377.6 562.1,2378.4 563.5,2380.5 564.9,2380.3 566.3,2379.5 567.7,2380.0 569.2,2380.4 570.6,2379.8 572.0,2379.8 573.4,2380.3 574.8,2379.1 576.2,2377.1 577.7,2377.0 579.1,2378.5 580.5,2378.2 581.9,2376.3 583.3,2373.0 584.7,2375.5 586.2,2375.5 587.6,2375.7 589.0,2377.3 590.4,2379.3 591.8,2379.2 593.2,2379.8 594.7,2380.6 596.1,2380.5 597.5,2380.6 598.9,2380.4 600.3,2379.8 601.7,2379.5 603.2,2379.7 604.6,2380.6 606.0,2380.8 607.4,2381.5 608.8,2381.6 610.2,2381.4 611.7,2381.6 613.1,2382.4 614.5,2381.3 615.9,2379.3 617.3,2379.1 618.7,2379.8 620.2,2379.2 621.6,2378.6 623.0,2378.5 624.4,2378.4 625.8,2379.9 627.2,2381.5 628.7,2379.3 630.1,2377.2 631.5,2379.3 632.9,2380.9 634.3,2381.3 635.8,2381.8 637.2,2381.7 638.6,2380.5 640.0,2379.5 641.4,2380.3 642.8,2381.0 644.3,2381.9 645.7,2382.9 647.1,2383.1 648.5,2382.1 649.9,2380.5 651.3,2380.9 652.8,2381.2 654.2,2379.1 655.6,2376.8 657.0,2377.2 658.4,2378.1 659.8,2378.5 661.3,2379.2 662.7,2379.3 664.1,2379.5 665.5,2381.2 666.9,2380.7 668.3,2379.6 669.8,2379.2 671.2,2378.7 672.6,2377.3 674.0,2377.0 675.4,2378.8 676.8,2380.6 678.3,2380.6 679.7,2380.2 681.1,2380.2 682.5,2379.1 683.9,2376.9 685.3,2377.2 686.8,2379.5 688.2,2380.4 689.6,2380.4 691.0,2380.4 692.4,2379.7 693.8,2379.5 695.3,2380.5 696.7,2381.5 698.1,2382.0 699.5,2381.9 700.9,2380.0 702.3,2377.9 703.8,2377.8 705.2,2377.0 706.6,2375.7 708.0,2376.4 709.4,2378.7 710.8,2379.5 712.3,2378.8 713.7,2377.7 715.1,2378.3 716.5,2380.3 717.9,2380.4 719.4,2378.7 720.8,2377.6 722.2,2378.4 723.6,2379.1 725.0,2380.5 726.4,2380.9 727.9,2380.0 729.3,2380.8 730.7,2380.9 732.1,2379.4 733.5,2379.7 734.9,2380.9 736.4,2380.1 737.8,2379.6 739.2,2380.2 740.6,2381.3 742.0,2382.2 743.4,2383.4 744.9,2382.9 746.3,2380.7 747.7,2380.0 749.1,2379.7 750.5,2379.6 751.9,2379.7 753.4,2379.4 754.8,2379.2 756.2,2380.4 757.6,2381.2 759.0,2379.7 760.4,2378.6 761.9,2378.6 763.3,2378.8 764.7,2379.4 766.1,2379.4 767.5,2378.6 768.9,2379.3 770.4,2380.5 771.8,2380.2 773.2,2378.6 774.6,2377.6 776.0,2379.1 777.4,2381.1 778.9,2381.7 780.3,2381.3 781.7,2381.3 783.1,2381.8 784.5,2383.0 785.9,2383.6 787.4,2382.5 788.8,2381.4 790.2,2381.7 791.6,2382.4 793.0,2382.5 794.4,2379.6 795.9,2379.6 797.3,2380.4 798.7,2380.5 800.1,2379.9 801.5,2379.3 802.9,2379.0 804.4,2378.5 805.8,2378.3 807.2,2378.0 808.6,2377.5 810.0,2377.7 811.5,2378.6 812.9,2378.7 814.3,2378.4 815.7,2379.8 817.1,2381.4 818.5,2381.9 820.0,2381.9 821.4,2381.1 822.8,2379.8 824.2,2378.8 825.6,2378.6 827.0,2378.3 828.5,2377.9 829.9,2379.0 831.3,2380.6 832.7,2381.0 834.1,2380.7 835.5,2379.2 837.0,2376.5 838.4,2374.8 839.8,2376.0 841.2,2378.1 842.6,2379.2 844.0,2378.6 845.5,2378.3 846.9,2379.4 848.3,2379.2 849.7,2378.4 851.1,2377.6 852.5,2377.6 854.0,2379.5 855.4,2381.4 856.8,2382.7 858.2,2382.9 859.6,2382.3 861.0,2380.8 862.5,2379.2 863.9,2378.3 865.3,2378.5 866.7,2380.0 868.1,2381.2 869.5,2381.5 871.0,2381.3 872.4,2381.5 873.8,2381.7 875.2,2381.2 876.6,2381.3 878.0,2381.1 879.5,2380.5 880.9,2379.6 882.3,2379.4 883.7,2379.5 885.1,2378.0 886.5,2376.7 888.0,2377.8 889.4,2378.6 890.8,2378.0 892.2,2378.8 893.6,2379.4 895.1,2379.4 896.5,2378.6 897.9,2378.0 899.3,2377.5 900.7,2378.0 902.1,2379.5 903.6,2379.8 905.0,2378.3 906.4,2376.5 907.8,2375.7 909.2,2375.0 910.6,2374.7 912.1,2376.0 913.5,2379.0 914.9,2381.0 916.3,2380.5 917.7,2378.4 919.1,2376.4 920.6,2372.7 922.0,2369.2 923.4,2369.7 924.8,2372.2 926.2,2374.6 927.6,2375.7 929.1,2377.1 930.5,2379.3 931.9,2380.8 933.3,2381.2 934.7,2381.0 936.1,2382.0 937.6,2384.3 939.0,2384.9 940.4,2383.6 941.8,2382.7 943.2,2382.4 944.6,2381.1 946.1,2379.2 947.5,2376.8 948.9,2374.8 950.3,2370.9 951.7,2366.1 953.1,2360.1 954.6,2355.0 956.0,2349.9 957.4,2343.4 958.8,2338.0 960.2,2333.4 961.6,2328.5 963.1,2323.5 964.5,2315.4 965.9,2307.0 967.3,2295.9 968.7,2284.0 970.1,2274.3 971.6,2264.6 973.0,2253.4 974.4,2242.8 975.8,2234.0 977.2,2225.7 978.7,2218.3 980.1,2210.5 981.5,2203.0 982.9,2196.6 984.3,2189.6 985.7,2182.1 987.2,2175.8 988.6,2170.6 990.0,2166.8 991.4,2164.0 992.8,2161.0 994.2,2156.4 995.7,2151.0 997.1,2145.5 998.5,2139.3 999.9,2135.2 1001.3,2132.4 1002.7,2129.3 1004.2,2127.6 1005.6,2127.1 1007.0,2127.3 1008.4,2128.6 1009.8,2129.9 1011.2,2133.4 1012.7,2133.4 1014.1,2132.6 1015.5,2127.0 1016.9,2122.0 1018.3,2119.5 1019.7,2117.4 1021.2,2113.1 1022.6,2107.9 1024.0,2103.4 1025.4,2100.0 1026.8,2097.4 1028.2,2095.7 1029.7,2093.3 1031.1,2090.2 1032.5,2087.6 1033.9,2086.8 1035.3,2085.2 1036.7,2082.1 1038.2,2077.3 1039.6,2074.3 1041.0,2072.4 1042.4,2070.0 1043.8,2070.5 1045.2,2072.9 1046.7,2076.6 1048.1,2080.5 1049.5,2085.1 1050.9,2090.3 1052.3,2093.7 1053.7,2096.1 1055.2,2099.0 1056.6,2101.9 1058.0,2110.0 1059.4,2119.8 1060.8,2129.3 1062.2,2135.9 1063.7,2140.9 1065.1,2147.8 1066.5,2158.3 1067.9,2168.8 1069.3,2176.8 1070.8,2183.3 1072.2,2189.2 1073.6,2196.3 1075.0,2204.3 1076.4,2210.6 1077.8,2216.2 1079.3,2222.7 1080.7,2229.7 1082.1,2235.7 1083.5,2243.2 1084.9,2250.4 1086.3,2255.1 1087.8,2260.5 1089.2,2266.9 1090.6,2272.2 1092.0,2277.1 1093.4,2282.9 1094.8,2290.9 1096.3,2299.3 1097.7,2304.9 1099.1,2309.8 1100.5,2315.7 1101.9,2320.2 1103.3,2329.5 1104.8,2340.1 1106.2,2353.6 1107.6,2368.3 1109.0,2378.6 1110.4,2382.5 1111.8,2380.8 1113.3,2379.5 1114.7,2379.4 1116.1,2378.4 1117.5,2376.7 1118.9,2375.8 1120.3,2375.1 1121.8,2374.3 1123.2,2375.0 1124.6,2376.9 1126.0,2376.9 1127.4,2375.9 1128.8,2377.5 1130.3,2378.9 1131.7,2377.7 1133.1,2375.8 1134.5,2374.0 1135.9,2373.4 1137.3,2375.2 1138.8,2376.7 1140.2,2375.0 1141.6,2372.0 1143.0,2370.7 1144.4,2372.1 1145.8,2373.8 1147.3,2375.3 1148.7,2376.8 1150.1,2376.5 1151.5,2374.7 1152.9,2375.7 1154.4,2379.0 1155.8,2380.4 1157.2,2379.2 1158.6,2378.8 1160.0,2380.2 1161.4,2382.0 1162.9,2382.0 1164.3,2381.3 1165.7,2381.4 1167.1,2382.5 1168.5,2381.5 1169.9,2380.7 1171.4,2380.3 1172.8,2380.4 1174.2,2380.4 1175.6,2381.4 1177.0,2382.4 1178.4,2381.8 1179.9,2381.1 1181.3,2381.7 1182.7,2381.7 1184.1,2381.8 1185.5,2382.9 1186.9,2383.0 1188.4,2382.2 1189.8,2381.6 1191.2,2382.4 1192.6,2383.2 1194.0,2384.4" fill="none" stroke="#404040" stroke-width="2.5" stroke-linejoin="round" stroke-linecap="round"/>
<polyline points="353.8,2330.3 355.2,2332.7 356.6,2332.0 358.0,2332.7 359.4,2334.1 360.9,2334.3 362.3,2335.5 363.7,2336.2 365.1,2333.4 366.5,2330.7 367.9,2332.1 369.4,2334.2 370.8,2334.3 372.2,2334.7 373.6,2334.9 375.0,2335.6 376.5,2337.7 377.9,2337.9 379.3,2336.4 380.7,2338.1 382.1,2338.5 383.5,2333.7 385.0,2332.7 386.4,2333.7 387.8,2332.9 389.2,2329.4 390.6,2327.5 392.0,2325.7 393.5,2323.3 394.9,2322.0 396.3,2320.5 397.7,2320.4 399.1,2317.2 400.5,2317.0 402.0,2318.5 403.4,2317.7 404.8,2319.5 406.2,2323.5 407.6,2327.7 409.0,2329.4 410.5,2330.5 411.9,2330.2 413.3,2329.3 414.7,2329.0 416.1,2330.8 417.5,2334.5 419.0,2335.2 420.4,2330.7 421.8,2328.6 423.2,2330.4 424.6,2331.3 426.0,2330.0 427.5,2329.0 428.9,2328.3 430.3,2332.4 431.7,2334.4 433.1,2335.0 434.5,2337.4 436.0,2339.1 437.4,2336.8 438.8,2335.3 440.2,2336.2 441.6,2334.2 443.0,2330.8 444.5,2332.1 445.9,2334.8 447.3,2334.4 448.7,2332.1 450.1,2330.6 451.5,2333.0 453.0,2337.5 454.4,2336.6 455.8,2333.1 457.2,2333.4 458.6,2336.0 460.1,2334.8 461.5,2333.0 462.9,2331.8 464.3,2331.4 465.7,2333.3 467.1,2336.8 468.6,2336.7 470.0,2335.5 471.4,2334.7 472.8,2334.9 474.2,2335.9 475.6,2336.3 477.1,2334.2 478.5,2330.5 479.9,2327.4 481.3,2325.0 482.7,2324.3 484.1,2325.9 485.6,2327.5 487.0,2327.0 488.4,2329.2 489.8,2332.1 491.2,2333.5 492.6,2334.2 494.1,2334.7 495.5,2336.6 496.9,2339.7 498.3,2338.8 499.7,2336.5 501.1,2336.3 502.6,2335.1 504.0,2335.1 505.4,2334.2 506.8,2332.2 508.2,2329.9 509.6,2328.4 511.1,2330.0 512.5,2334.1 513.9,2335.4 515.3,2336.1 516.7,2336.5 518.1,2334.6 519.6,2334.7 521.0,2338.0 522.4,2337.4 523.8,2334.4 525.2,2333.5 526.6,2332.7 528.1,2329.3 529.5,2325.6 530.9,2321.8 532.3,2317.4 533.7,2314.9 535.1,2316.3 536.6,2317.5 538.0,2319.9 539.4,2322.1 540.8,2324.4 542.2,2326.0 543.6,2326.1 545.1,2325.5 546.5,2326.5 547.9,2329.3 549.3,2330.1 550.7,2333.0 552.2,2336.2 553.6,2337.6 555.0,2338.9 556.4,2337.8 557.8,2338.4 559.2,2337.5 560.7,2334.5 562.1,2333.4 563.5,2331.9 564.9,2332.0 566.3,2334.5 567.7,2334.0 569.2,2331.4 570.6,2330.5 572.0,2330.8 573.4,2331.5 574.8,2334.4 576.2,2336.2 577.7,2336.4 579.1,2334.9 580.5,2335.3 581.9,2334.8 583.3,2330.8 584.7,2327.4 586.2,2326.0 587.6,2326.6 589.0,2327.9 590.4,2331.1 591.8,2332.3 593.2,2333.0 594.7,2333.1 596.1,2330.6 597.5,2328.9 598.9,2330.2 600.3,2332.3 601.7,2330.6 603.2,2329.9 604.6,2331.8 606.0,2332.6 607.4,2335.0 608.8,2335.4 610.2,2333.4 611.7,2331.8 613.1,2332.1 614.5,2332.2 615.9,2332.2 617.3,2330.1 618.7,2326.8 620.2,2325.6 621.6,2328.3 623.0,2331.6 624.4,2329.7 625.8,2327.1 627.2,2327.9 628.7,2329.5 630.1,2328.2 631.5,2329.8 632.9,2332.6 634.3,2336.3 635.8,2339.5 637.2,2342.9 638.6,2336.6 640.0,2333.4 641.4,2331.7 642.8,2332.3 644.3,2332.3 645.7,2330.3 647.1,2330.6 648.5,2332.3 649.9,2333.7 651.3,2332.6 652.8,2329.1 654.2,2329.8 655.6,2331.9 657.0,2329.7 658.4,2326.9 659.8,2328.2 661.3,2333.2 662.7,2335.4 664.1,2333.0 665.5,2333.5 666.9,2338.0 668.3,2338.1 669.8,2336.9 671.2,2337.8 672.6,2339.8 674.0,2339.3 675.4,2336.7 676.8,2335.8 678.3,2337.8 679.7,2338.6 681.1,2338.6 682.5,2339.0 683.9,2338.9 685.3,2337.6 686.8,2334.5 688.2,2329.4 689.6,2327.4 691.0,2327.8 692.4,2331.1 693.8,2333.6 695.3,2333.2 696.7,2332.2 698.1,2331.8 699.5,2332.0 700.9,2330.6 702.3,2331.3 703.8,2334.9 705.2,2337.0 706.6,2336.3 708.0,2336.2 709.4,2337.8 710.8,2337.5 712.3,2333.3 713.7,2330.1 715.1,2331.4 716.5,2335.2 717.9,2339.2 719.4,2340.6 720.8,2339.5 722.2,2338.9 723.6,2339.4 725.0,2337.8 726.4,2335.5 727.9,2336.1 729.3,2338.7 730.7,2339.5 732.1,2338.4 733.5,2335.0 734.9,2331.1 736.4,2330.3 737.8,2331.2 739.2,2331.7 740.6,2331.6 742.0,2331.2 743.4,2330.6 744.9,2331.1 746.3,2330.2 747.7,2328.2 749.1,2329.6 750.5,2330.7 751.9,2330.1 753.4,2330.4 754.8,2332.4 756.2,2333.2 757.6,2333.2 759.0,2332.6 760.4,2332.2 761.9,2333.1 763.3,2333.8 764.7,2332.6 766.1,2331.0 767.5,2330.5 768.9,2330.7 770.4,2333.6 771.8,2334.7 773.2,2331.0 774.6,2327.3 776.0,2327.1 777.4,2328.4 778.9,2329.0 780.3,2331.0 781.7,2329.3 783.1,2328.0 784.5,2331.8 785.9,2334.8 787.4,2336.5 788.8,2336.9 790.2,2334.4 791.6,2331.5 793.0,2332.4 794.4,2333.8 795.9,2333.6 797.3,2334.0 798.7,2336.5 800.1,2335.0 801.5,2332.1 802.9,2330.4 804.4,2330.3 805.8,2333.2 807.2,2333.5 808.6,2330.8 810.0,2329.9 811.5,2330.6 812.9,2332.3 814.3,2335.5 815.7,2336.8 817.1,2335.0 818.5,2334.7 820.0,2335.9 821.4,2336.6 822.8,2335.7 824.2,2333.6 825.6,2332.3 827.0,2332.2 828.5,2333.1 829.9,2334.0 831.3,2333.2 832.7,2332.8 834.1,2333.3 835.5,2333.7 837.0,2335.6 838.4,2336.1 839.8,2334.4 841.2,2333.5 842.6,2333.4 844.0,2335.8 845.5,2339.2 846.9,2338.1 848.3,2333.7 849.7,2332.8 851.1,2334.5 852.5,2334.7 854.0,2334.3 855.4,2333.2 856.8,2331.4 858.2,2330.0 859.6,2328.7 861.0,2330.4 862.5,2333.3 863.9,2334.3 865.3,2332.4 866.7,2328.6 868.1,2331.3 869.5,2336.8 871.0,2338.4 872.4,2339.2 873.8,2333.7 875.2,2333.0 876.6,2334.8 878.0,2336.1 879.5,2334.9 880.9,2334.7 882.3,2333.4 883.7,2336.2 885.1,2339.3 886.5,2337.5 888.0,2335.7 889.4,2336.2 890.8,2337.2 892.2,2335.7 893.6,2334.4 895.1,2335.7 896.5,2336.1 897.9,2333.8 899.3,2332.5 900.7,2331.5 902.1,2330.6 903.6,2328.3 905.0,2326.6 906.4,2329.7 907.8,2332.0 909.2,2329.4 910.6,2329.1 912.1,2330.8 913.5,2332.7 914.9,2334.2 916.3,2333.2 917.7,2330.6 919.1,2330.1 920.6,2331.4 922.0,2330.5 923.4,2329.1 924.8,2330.1 926.2,2332.3 927.6,2337.1 929.1,2337.9 930.5,2335.5 931.9,2331.9 933.3,2329.5 934.7,2331.3 936.1,2336.3 937.6,2339.6 939.0,2339.2 940.4,2336.0 941.8,2337.9 943.2,2338.0 944.6,2336.5 946.1,2334.7 947.5,2328.8 948.9,2323.5 950.3,2321.9 951.7,2321.2 953.1,2314.4 954.6,2306.1 956.0,2302.9 957.4,2300.2 958.8,2295.2 960.2,2290.8 961.6,2285.4 963.1,2278.8 964.5,2271.9 965.9,2265.4 967.3,2256.3 968.7,2245.1 970.1,2234.1 971.6,2225.8 973.0,2220.1 974.4,2212.4 975.8,2202.0 977.2,2192.4 978.7,2184.3 980.1,2175.9 981.5,2169.0 982.9,2164.7 984.3,2160.3 985.7,2154.5 987.2,2146.4 988.6,2137.4 990.0,2131.3 991.4,2127.7 992.8,2124.3 994.2,2119.0 995.7,2113.3 997.1,2110.3 998.5,2109.2 999.9,2105.7 1001.3,2101.4 1002.7,2096.2 1004.2,2093.5 1005.6,2091.6 1007.0,2090.6 1008.4,2094.8 1009.8,2097.4 1011.2,2100.4 1012.7,2099.2 1014.1,2097.7 1015.5,2095.2 1016.9,2093.9 1018.3,2093.5 1019.7,2089.9 1021.2,2082.2 1022.6,2079.0 1024.0,2077.3 1025.4,2073.1 1026.8,2069.2 1028.2,2066.2 1029.7,2062.2 1031.1,2059.9 1032.5,2059.3 1033.9,2055.9 1035.3,2052.4 1036.7,2052.7 1038.2,2053.3 1039.6,2048.5 1041.0,2043.0 1042.4,2041.5 1043.8,2041.2 1045.2,2039.8 1046.7,2043.2 1048.1,2047.8 1049.5,2051.2 1050.9,2055.3 1052.3,2061.0 1053.7,2067.6 1055.2,2074.0 1056.6,2079.4 1058.0,2085.9 1059.4,2091.0 1060.8,2095.9 1062.2,2100.7 1063.7,2107.2 1065.1,2114.7 1066.5,2124.3 1067.9,2134.5 1069.3,2144.6 1070.8,2151.8 1072.2,2155.0 1073.6,2160.9 1075.0,2169.7 1076.4,2175.9 1077.8,2183.6 1079.3,2188.6 1080.7,2192.1 1082.1,2199.4 1083.5,2207.0 1084.9,2212.9 1086.3,2218.7 1087.8,2223.8 1089.2,2229.6 1090.6,2234.8 1092.0,2241.8 1093.4,2249.1 1094.8,2253.7 1096.3,2254.1 1097.7,2255.5 1099.1,2261.3 1100.5,2268.2 1101.9,2275.3 1103.3,2284.3 1104.8,2292.6 1106.2,2304.3 1107.6,2318.0 1109.0,2327.3 1110.4,2332.0 1111.8,2333.5 1113.3,2334.4 1114.7,2332.7 1116.1,2331.7 1117.5,2334.2 1118.9,2332.4 1120.3,2331.8 1121.8,2331.8 1123.2,2332.3 1124.6,2333.9 1126.0,2335.4 1127.4,2335.2 1128.8,2334.9 1130.3,2335.4 1131.7,2334.8 1133.1,2332.0 1134.5,2328.9 1135.9,2329.2 1137.3,2331.5 1138.8,2330.0 1140.2,2326.1 1141.6,2326.4 1143.0,2328.2 1144.4,2325.7 1145.8,2323.1 1147.3,2324.7 1148.7,2328.0 1150.1,2329.7 1151.5,2329.2 1152.9,2328.3 1154.4,2327.3 1155.8,2325.8 1157.2,2327.8 1158.6,2330.1 1160.0,2331.8 1161.4,2333.9 1162.9,2332.7 1164.3,2332.1 1165.7,2332.1 1167.1,2332.1 1168.5,2332.5 1169.9,2333.7 1171.4,2333.7 1172.8,2330.4 1174.2,2329.5 1175.6,2329.1 1177.0,2329.6 1178.4,2335.0 1179.9,2337.7 1181.3,2336.7 1182.7,2337.5 1184.1,2336.9 1185.5,2336.2 1186.9,2336.5 1188.4,2336.7 1189.8,2334.0 1191.2,2330.2 1192.6,2330.3 1194.0,2334.9" fill="none" stroke="#f03030" stroke-width="2.5" stroke-linejoin="round" stroke-linecap="round"/>
<polyline points="353.8,2291.5 355.2,2289.1 356.6,2287.2 358.0,2287.1 359.4,2287.3 360.9,2287.0 362.3,2285.8 363.7,2284.7 365.1,2284.2 366.5,2284.7 367.9,2286.6 369.4,2287.4 370.8,2288.0 372.2,2287.8 373.6,2286.9 375.0,2287.3 376.5,2287.9 377.9,2288.4 379.3,2288.9 380.7,2289.9 382.1,2291.0 383.5,2291.3 385.0,2290.0 386.4,2288.9 387.8,2288.0 389.2,2286.7 390.6,2286.7 392.0,2286.2 393.5,2283.0 394.9,2280.0 396.3,2277.7 397.7,2274.4 399.1,2272.0 400.5,2272.2 402.0,2273.5 403.4,2274.4 404.8,2274.1 406.2,2275.5 407.6,2279.2 409.0,2283.6 410.5,2286.3 411.9,2286.4 413.3,2285.0 414.7,2285.3 416.1,2287.6 417.5,2289.7 419.0,2290.0 420.4,2289.2 421.8,2290.3 423.2,2290.2 424.6,2288.8 426.0,2290.8 427.5,2291.8 428.9,2290.4 430.3,2289.7 431.7,2288.9 433.1,2289.2 434.5,2290.0 436.0,2289.7 437.4,2289.6 438.8,2289.6 440.2,2288.1 441.6,2285.8 443.0,2284.7 444.5,2285.3 445.9,2286.7 447.3,2286.8 448.7,2285.1 450.1,2284.5 451.5,2285.5 453.0,2286.5 454.4,2287.3 455.8,2288.6 457.2,2289.5 458.6,2288.3 460.1,2287.7 461.5,2289.8 462.9,2291.1 464.3,2289.9 465.7,2287.6 467.1,2287.1 468.6,2287.0 470.0,2285.6 471.4,2286.3 472.8,2287.6 474.2,2288.4 475.6,2287.9 477.1,2286.7 478.5,2285.7 479.9,2283.0 481.3,2281.1 482.7,2282.8 484.1,2285.6 485.6,2285.3 487.0,2284.9 488.4,2285.8 489.8,2285.8 491.2,2286.2 492.6,2288.5 494.1,2288.7 495.5,2287.7 496.9,2287.4 498.3,2287.2 499.7,2286.9 501.1,2286.7 502.6,2286.7 504.0,2287.3 505.4,2288.0 506.8,2287.1 508.2,2287.7 509.6,2289.0 511.1,2288.4 512.5,2287.7 513.9,2288.1 515.3,2287.8 516.7,2287.9 518.1,2287.3 519.6,2286.1 521.0,2287.3 522.4,2287.9 523.8,2285.6 525.2,2282.3 526.6,2280.3 528.1,2275.5 529.5,2270.6 530.9,2268.1 532.3,2266.6 533.7,2264.5 535.1,2266.2 536.6,2268.6 538.0,2271.5 539.4,2273.2 540.8,2273.5 542.2,2274.7 543.6,2276.6 545.1,2277.9 546.5,2279.3 547.9,2279.7 549.3,2281.0 550.7,2283.0 552.2,2285.1 553.6,2287.3 555.0,2289.3 556.4,2290.0 557.8,2289.8 559.2,2287.8 560.7,2286.3 562.1,2285.9 563.5,2286.9 564.9,2287.5 566.3,2287.3 567.7,2287.5 569.2,2288.0 570.6,2288.0 572.0,2287.6 573.4,2287.0 574.8,2286.4 576.2,2286.8 577.7,2287.4 579.1,2288.6 580.5,2287.9 581.9,2286.3 583.3,2284.9 584.7,2282.4 586.2,2281.0 587.6,2282.3 589.0,2284.5 590.4,2285.2 591.8,2284.6 593.2,2282.7 594.7,2281.8 596.1,2283.4 597.5,2284.1 598.9,2282.8 600.3,2283.3 601.7,2283.2 603.2,2283.0 604.6,2284.0 606.0,2286.5 607.4,2288.1 608.8,2288.1 610.2,2289.8 611.7,2288.6 613.1,2285.9 614.5,2285.5 615.9,2284.8 617.3,2284.5 618.7,2284.3 620.2,2284.4 621.6,2285.7 623.0,2286.4 624.4,2285.8 625.8,2286.0 627.2,2288.1 628.7,2289.3 630.1,2287.6 631.5,2285.3 632.9,2284.2 634.3,2283.8 635.8,2283.7 637.2,2285.0 638.6,2287.9 640.0,2290.0 641.4,2289.7 642.8,2289.6 644.3,2290.5 645.7,2290.6 647.1,2289.0 648.5,2288.0 649.9,2288.4 651.3,2290.2 652.8,2290.6 654.2,2289.0 655.6,2286.7 657.0,2286.1 658.4,2286.6 659.8,2284.7 661.3,2283.8 662.7,2286.5 664.1,2288.9 665.5,2289.6 666.9,2287.4 668.3,2285.6 669.8,2287.1 671.2,2288.6 672.6,2289.1 674.0,2288.5 675.4,2287.8 676.8,2288.4 678.3,2288.3 679.7,2288.3 681.1,2288.3 682.5,2287.8 683.9,2288.6 685.3,2289.8 686.8,2289.5 688.2,2287.8 689.6,2286.7 691.0,2285.9 692.4,2287.1 693.8,2288.2 695.3,2288.9 696.7,2289.8 698.1,2288.9 699.5,2286.3 700.9,2284.2 702.3,2284.6 703.8,2286.7 705.2,2287.2 706.6,2287.2 708.0,2286.0 709.4,2283.0 710.8,2283.0 712.3,2286.0 713.7,2285.7 715.1,2286.3 716.5,2286.9 717.9,2286.4 719.4,2286.4 720.8,2285.7 722.2,2286.3 723.6,2287.0 725.0,2286.8 726.4,2287.6 727.9,2287.7 729.3,2288.1 730.7,2289.1 732.1,2289.1 733.5,2289.3 734.9,2288.3 736.4,2287.5 737.8,2289.2 739.2,2290.4 740.6,2288.6 742.0,2285.9 743.4,2285.1 744.9,2285.5 746.3,2286.2 747.7,2285.8 749.1,2284.7 750.5,2286.4 751.9,2289.2 753.4,2290.0 754.8,2289.5 756.2,2288.4 757.6,2286.5 759.0,2285.2 760.4,2286.0 761.9,2286.3 763.3,2284.2 764.7,2283.5 766.1,2285.4 767.5,2286.0 768.9,2285.8 770.4,2286.0 771.8,2287.2 773.2,2287.9 774.6,2288.1 776.0,2289.1 777.4,2289.7 778.9,2289.9 780.3,2288.9 781.7,2285.8 783.1,2284.8 784.5,2286.7 785.9,2287.7 787.4,2288.7 788.8,2288.0 790.2,2286.2 791.6,2285.7 793.0,2286.5 794.4,2286.4 795.9,2286.5 797.3,2286.4 798.7,2287.3 800.1,2288.2 801.5,2288.2 802.9,2287.9 804.4,2287.7 805.8,2287.2 807.2,2287.2 808.6,2288.4 810.0,2289.1 811.5,2289.7 812.9,2289.5 814.3,2287.3 815.7,2286.2 817.1,2287.8 818.5,2291.4 820.0,2292.2 821.4,2288.4 822.8,2285.9 824.2,2286.4 825.6,2287.0 827.0,2287.1 828.5,2287.4 829.9,2287.3 831.3,2287.8 832.7,2288.2 834.1,2287.7 835.5,2287.3 837.0,2287.9 838.4,2288.0 839.8,2285.7 841.2,2282.7 842.6,2284.3 844.0,2287.5 845.5,2286.9 846.9,2286.2 848.3,2287.1 849.7,2287.8 851.1,2288.2 852.5,2287.6 854.0,2286.3 855.4,2285.9 856.8,2287.6 858.2,2289.1 859.6,2288.4 861.0,2286.9 862.5,2286.5 863.9,2287.9 865.3,2289.3 866.7,2288.9 868.1,2288.3 869.5,2288.8 871.0,2288.0 872.4,2286.4 873.8,2287.1 875.2,2289.3 876.6,2290.2 878.0,2289.4 879.5,2290.2 880.9,2288.6 882.3,2295.3 883.7,2287.0 885.1,2286.4 886.5,2286.2 888.0,2287.1 889.4,2288.4 890.8,2288.8 892.2,2287.7 893.6,2286.3 895.1,2287.3 896.5,2289.5 897.9,2289.9 899.3,2288.0 900.7,2286.6 902.1,2286.0 903.6,2284.1 905.0,2283.0 906.4,2282.8 907.8,2284.2 909.2,2286.0 910.6,2286.4 912.1,2285.9 913.5,2284.6 914.9,2284.9 916.3,2284.9 917.7,2283.4 919.1,2279.4 920.6,2277.0 922.0,2275.9 923.4,2274.5 924.8,2274.7 926.2,2278.1 927.6,2282.9 929.1,2285.3 930.5,2286.9 931.9,2288.7 933.3,2289.4 934.7,2290.4 936.1,2291.7 937.6,2293.8 939.0,2295.1 940.4,2293.8 941.8,2293.1 943.2,2291.9 944.6,2288.9 946.1,2285.5 947.5,2282.2 948.9,2280.0 950.3,2276.2 951.7,2272.1 953.1,2266.9 954.6,2261.9 956.0,2257.7 957.4,2251.7 958.8,2246.4 960.2,2242.3 961.6,2237.2 963.1,2230.7 964.5,2220.5 965.9,2209.9 967.3,2199.9 968.7,2191.0 970.1,2180.9 971.6,2169.7 973.0,2161.4 974.4,2154.8 975.8,2144.8 977.2,2134.6 978.7,2125.6 980.1,2117.1 981.5,2110.4 982.9,2102.0 984.3,2093.4 985.7,2087.8 987.2,2083.1 988.6,2078.0 990.0,2072.7 991.4,2066.7 992.8,2061.9 994.2,2058.1 995.7,2056.1 997.1,2051.3 998.5,2046.7 999.9,2042.9 1001.3,2037.7 1002.7,2034.6 1004.2,2033.9 1005.6,2032.1 1007.0,2032.0 1008.4,2034.2 1009.8,2035.9 1011.2,2039.1 1012.7,2038.3 1014.1,2036.5 1015.5,2033.3 1016.9,2030.6 1018.3,2025.1 1019.7,2021.3 1021.2,2018.3 1022.6,2013.6 1024.0,2011.1 1025.4,2009.7 1026.8,2005.6 1028.2,2001.2 1029.7,1999.2 1031.1,1997.6 1032.5,1995.2 1033.9,1990.6 1035.3,1987.2 1036.7,1987.8 1038.2,1987.6 1039.6,1983.6 1041.0,1979.0 1042.4,1976.3 1043.8,1976.3 1045.2,1978.6 1046.7,1983.7 1048.1,1987.5 1049.5,1990.2 1050.9,1994.3 1052.3,1998.3 1053.7,1999.5 1055.2,2002.5 1056.6,2007.5 1058.0,2014.9 1059.4,2022.1 1060.8,2030.3 1062.2,2039.2 1063.7,2047.6 1065.1,2056.4 1066.5,2063.7 1067.9,2071.9 1069.3,2082.2 1070.8,2091.6 1072.2,2099.5 1073.6,2107.3 1075.0,2114.1 1076.4,2119.4 1077.8,2123.5 1079.3,2128.7 1080.7,2136.1 1082.1,2144.1 1083.5,2151.1 1084.9,2156.4 1086.3,2162.7 1087.8,2169.1 1089.2,2174.5 1090.6,2180.0 1092.0,2186.3 1093.4,2192.7 1094.8,2200.0 1096.3,2206.9 1097.7,2211.1 1099.1,2215.0 1100.5,2220.9 1101.9,2228.0 1103.3,2236.5 1104.8,2244.6 1106.2,2258.1 1107.6,2274.1 1109.0,2283.4 1110.4,2285.5 1111.8,2284.0 1113.3,2284.9 1114.7,2284.8 1116.1,2284.7 1117.5,2276.2 1118.9,2284.9 1120.3,2282.8 1121.8,2283.4 1123.2,2284.3 1124.6,2284.4 1126.0,2286.0 1127.4,2286.5 1128.8,2284.3 1130.3,2283.1 1131.7,2284.2 1133.1,2285.1 1134.5,2283.0 1135.9,2280.9 1137.3,2279.8 1138.8,2278.9 1140.2,2277.4 1141.6,2277.6 1143.0,2279.7 1144.4,2280.2 1145.8,2280.2 1147.3,2280.8 1148.7,2280.8 1150.1,2288.9 1151.5,2286.3 1152.9,2286.9 1154.4,2285.8 1155.8,2285.6 1157.2,2288.5 1158.6,2291.4 1160.0,2290.7 1161.4,2288.5 1162.9,2286.7 1164.3,2287.4 1165.7,2289.8 1167.1,2291.4 1168.5,2289.5 1169.9,2286.8 1171.4,2286.8 1172.8,2286.8 1174.2,2285.4 1175.6,2284.9 1177.0,2286.3 1178.4,2286.4 1179.9,2286.8 1181.3,2287.1 1182.7,2288.8 1184.1,2289.5 1185.5,2288.1 1186.9,2287.5 1188.4,2288.2 1189.8,2287.9 1191.2,2287.3 1192.6,2288.3 1194.0,2289.2" fill="none" stroke="#1558e6" stroke-width="2.5" stroke-linejoin="round" stroke-linecap="round"/>
<polyline points="353.8,2240.5 355.2,2242.4 356.6,2243.3 358.0,2241.5 359.4,2239.7 360.9,2239.2 362.3,2240.0 363.7,2240.6 365.1,2239.9 366.5,2239.6 367.9,2238.7 369.4,2238.2 370.8,2238.9 372.2,2240.5 373.6,2241.4 375.0,2239.4 376.5,2237.7 377.9,2239.5 379.3,2242.0 380.7,2242.4 382.1,2240.9 383.5,2239.7 385.0,2239.6 386.4,2239.5 387.8,2239.7 389.2,2239.9 390.6,2238.7 392.0,2236.1 393.5,2233.5 394.9,2232.0 396.3,2232.4 397.7,2232.0 399.1,2230.2 400.5,2229.5 402.0,2230.8 403.4,2232.5 404.8,2233.4 406.2,2234.1 407.6,2235.4 409.0,2236.1 410.5,2237.0 411.9,2238.6 413.3,2239.4 414.7,2239.8 416.1,2239.8 417.5,2240.5 419.0,2241.2 420.4,2241.3 421.8,2240.3 423.2,2240.1 424.6,2241.0 426.0,2242.1 427.5,2241.5 428.9,2240.7 430.3,2240.8 431.7,2241.7 433.1,2241.4 434.5,2240.2 436.0,2239.3 437.4,2238.5 438.8,2238.7 440.2,2239.3 441.6,2241.0 443.0,2241.6 444.5,2241.1 445.9,2241.4 447.3,2241.4 448.7,2240.9 450.1,2240.4 451.5,2241.2 453.0,2242.6 454.4,2243.3 455.8,2244.0 457.2,2245.1 458.6,2244.8 460.1,2244.0 461.5,2244.3 462.9,2243.5 464.3,2243.0 465.7,2243.5 467.1,2243.0 468.6,2240.8 470.0,2238.0 471.4,2238.5 472.8,2241.5 474.2,2243.4 475.6,2244.5 477.1,2244.2 478.5,2241.0 479.9,2235.5 481.3,2232.8 482.7,2236.0 484.1,2240.1 485.6,2241.8 487.0,2241.3 488.4,2239.4 489.8,2239.2 491.2,2241.2 492.6,2241.2 494.1,2240.0 495.5,2239.5 496.9,2238.8 498.3,2238.6 499.7,2239.6 501.1,2240.6 502.6,2241.6 504.0,2242.0 505.4,2241.2 506.8,2240.5 508.2,2240.7 509.6,2240.6 511.1,2240.0 512.5,2239.7 513.9,2239.7 515.3,2240.5 516.7,2240.4 518.1,2239.3 519.6,2241.1 521.0,2243.9 522.4,2243.9 523.8,2241.4 525.2,2237.5 526.6,2234.4 528.1,2232.0 529.5,2227.5 530.9,2222.1 532.3,2219.7 533.7,2219.1 535.1,2221.5 536.6,2222.0 538.0,2222.4 539.4,2225.4 540.8,2228.1 542.2,2228.2 543.6,2230.0 545.1,2233.4 546.5,2235.9 547.9,2238.8 549.3,2241.4 550.7,2241.3 552.2,2241.1 553.6,2241.9 555.0,2242.5 556.4,2243.4 557.8,2243.7 559.2,2242.6 560.7,2242.7 562.1,2242.2 563.5,2241.5 564.9,2241.9 566.3,2243.4 567.7,2242.7 569.2,2240.3 570.6,2240.3 572.0,2241.8 573.4,2242.4 574.8,2241.6 576.2,2239.5 577.7,2240.1 579.1,2241.8 580.5,2241.6 581.9,2240.7 583.3,2239.8 584.7,2239.2 586.2,2238.4 587.6,2238.3 589.0,2239.9 590.4,2241.2 591.8,2240.5 593.2,2239.1 594.7,2239.0 596.1,2239.1 597.5,2239.3 598.9,2240.6 600.3,2242.1 601.7,2242.0 603.2,2241.3 604.6,2241.5 606.0,2241.5 607.4,2240.4 608.8,2240.1 610.2,2241.7 611.7,2242.1 613.1,2241.6 614.5,2241.5 615.9,2241.1 617.3,2241.1 618.7,2241.6 620.2,2241.5 621.6,2242.0 623.0,2241.8 624.4,2241.3 625.8,2241.3 627.2,2241.4 628.7,2241.1 630.1,2241.5 631.5,2242.7 632.9,2242.5 634.3,2240.6 635.8,2239.0 637.2,2238.5 638.6,2240.1 640.0,2240.9 641.4,2240.9 642.8,2241.6 644.3,2240.5 645.7,2238.4 647.1,2238.4 648.5,2240.1 649.9,2241.4 651.3,2242.1 652.8,2242.6 654.2,2241.3 655.6,2238.9 657.0,2238.9 658.4,2240.1 659.8,2240.1 661.3,2239.5 662.7,2240.1 664.1,2241.3 665.5,2242.1 666.9,2242.9 668.3,2242.0 669.8,2240.3 671.2,2240.2 672.6,2241.1 674.0,2242.3 675.4,2241.4 676.8,2241.0 678.3,2241.4 679.7,2241.4 681.1,2242.3 682.5,2242.5 683.9,2242.3 685.3,2243.5 686.8,2243.9 688.2,2243.4 689.6,2243.9 691.0,2244.8 692.4,2245.3 693.8,2245.7 695.3,2246.3 696.7,2245.0 698.1,2243.8 699.5,2244.4 700.9,2244.5 702.3,2243.0 703.8,2241.9 705.2,2241.7 706.6,2241.9 708.0,2243.5 709.4,2245.1 710.8,2244.5 712.3,2242.9 713.7,2241.9 715.1,2241.2 716.5,2240.8 717.9,2240.9 719.4,2242.8 720.8,2243.7 722.2,2242.5 723.6,2241.9 725.0,2242.0 726.4,2242.1 727.9,2241.3 729.3,2240.4 730.7,2241.1 732.1,2241.3 733.5,2241.3 734.9,2243.3 736.4,2243.7 737.8,2242.3 739.2,2242.0 740.6,2241.7 742.0,2240.8 743.4,2240.0 744.9,2239.1 746.3,2238.8 747.7,2239.2 749.1,2238.9 750.5,2240.1 751.9,2242.6 753.4,2243.8 754.8,2243.5 756.2,2242.7 757.6,2241.8 759.0,2240.9 760.4,2241.0 761.9,2242.6 763.3,2242.4 764.7,2241.5 766.1,2242.0 767.5,2242.3 768.9,2242.1 770.4,2242.4 771.8,2243.1 773.2,2244.3 774.6,2245.1 776.0,2244.1 777.4,2242.5 778.9,2240.8 780.3,2240.1 781.7,2240.4 783.1,2241.0 784.5,2241.2 785.9,2241.0 787.4,2240.7 788.8,2239.3 790.2,2238.7 791.6,2238.4 793.0,2238.8 794.4,2239.3 795.9,2239.9 797.3,2241.3 798.7,2242.9 800.1,2244.0 801.5,2243.5 802.9,2242.6 804.4,2242.1 805.8,2240.3 807.2,2240.1 808.6,2242.2 810.0,2243.7 811.5,2242.2 812.9,2239.7 814.3,2239.1 815.7,2240.1 817.1,2241.9 818.5,2242.8 820.0,2242.5 821.4,2242.9 822.8,2242.7 824.2,2242.8 825.6,2242.5 827.0,2241.8 828.5,2241.2 829.9,2240.7 831.3,2240.0 832.7,2239.3 834.1,2240.4 835.5,2241.0 837.0,2238.3 838.4,2240.3 839.8,2242.0 841.2,2244.0 842.6,2244.9 844.0,2244.7 845.5,2243.1 846.9,2241.6 848.3,2240.4 849.7,2241.2 851.1,2241.1 852.5,2240.9 854.0,2242.5 855.4,2242.5 856.8,2242.3 858.2,2243.0 859.6,2242.0 861.0,2240.8 862.5,2241.5 863.9,2242.6 865.3,2241.2 866.7,2240.2 868.1,2241.2 869.5,2242.2 871.0,2243.1 872.4,2243.2 873.8,2242.2 875.2,2241.7 876.6,2242.4 878.0,2244.1 879.5,2244.8 880.9,2244.1 882.3,2244.1 883.7,2243.4 885.1,2242.9 886.5,2243.3 888.0,2244.6 889.4,2245.0 890.8,2244.4 892.2,2243.1 893.6,2242.5 895.1,2242.0 896.5,2241.1 897.9,2240.8 899.3,2241.2 900.7,2241.3 902.1,2240.2 903.6,2239.1 905.0,2238.2 906.4,2238.9 907.8,2239.7 909.2,2239.9 910.6,2240.4 912.1,2240.9 913.5,2240.7 914.9,2239.4 916.3,2237.9 917.7,2236.6 919.1,2235.1 920.6,2233.0 922.0,2230.2 923.4,2230.5 924.8,2232.9 926.2,2234.9 927.6,2237.6 929.1,2240.4 930.5,2242.9 931.9,2243.8 933.3,2243.8 934.7,2244.6 936.1,2245.9 937.6,2247.2 939.0,2247.7 940.4,2246.2 941.8,2245.1 943.2,2244.2 944.6,2242.0 946.1,2240.7 947.5,2237.8 948.9,2233.8 950.3,2231.8 951.7,2230.9 953.1,2227.9 954.6,2225.2 956.0,2220.2 957.4,2213.9 958.8,2207.3 960.2,2201.2 961.6,2197.3 963.1,2193.3 964.5,2186.2 965.9,2180.3 967.3,2172.2 968.7,2162.5 970.1,2153.4 971.6,2145.9 973.0,2138.8 974.4,2130.4 975.8,2122.3 977.2,2115.1 978.7,2107.4 980.1,2099.4 981.5,2092.5 982.9,2086.6 984.3,2082.6 985.7,2078.2 987.2,2072.2 988.6,2067.0 990.0,2064.9 991.4,2062.2 992.8,2059.2 994.2,2055.3 995.7,2050.7 997.1,2046.4 998.5,2043.8 999.9,2040.4 1001.3,2036.7 1002.7,2034.5 1004.2,2032.7 1005.6,2029.9 1007.0,2028.5 1008.4,2031.2 1009.8,2035.5 1011.2,2039.6 1012.7,2037.5 1014.1,2036.2 1015.5,2033.3 1016.9,2029.0 1018.3,2024.5 1019.7,2020.2 1021.2,2016.7 1022.6,2014.4 1024.0,2012.0 1025.4,2009.2 1026.8,2006.7 1028.2,2003.8 1029.7,2001.2 1031.1,2000.3 1032.5,2000.4 1033.9,1998.7 1035.3,1995.6 1036.7,1992.8 1038.2,1989.8 1039.6,1987.0 1041.0,1985.3 1042.4,1983.8 1043.8,1983.8 1045.2,1983.5 1046.7,1985.2 1048.1,1988.8 1049.5,1992.6 1050.9,1996.6 1052.3,2000.7 1053.7,2006.2 1055.2,2009.9 1056.6,2010.9 1058.0,2016.5 1059.4,2023.4 1060.8,2030.5 1062.2,2036.3 1063.7,2041.8 1065.1,2049.5 1066.5,2057.6 1067.9,2064.5 1069.3,2070.4 1070.8,2075.7 1072.2,2081.2 1073.6,2087.8 1075.0,2095.6 1076.4,2102.6 1077.8,2107.2 1079.3,2111.1 1080.7,2116.1 1082.1,2121.9 1083.5,2128.7 1084.9,2134.7 1086.3,2139.3 1087.8,2142.5 1089.2,2147.2 1090.6,2153.9 1092.0,2159.6 1093.4,2164.6 1094.8,2169.3 1096.3,2174.3 1097.7,2180.2 1099.1,2184.3 1100.5,2187.1 1101.9,2190.4 1103.3,2198.1 1104.8,2206.7 1106.2,2217.0 1107.6,2227.3 1109.0,2233.7 1110.4,2238.4 1111.8,2239.1 1113.3,2238.5 1114.7,2239.2 1116.1,2239.8 1117.5,2239.4 1118.9,2239.4 1120.3,2238.9 1121.8,2237.8 1123.2,2237.6 1124.6,2239.8 1126.0,2241.9 1127.4,2242.2 1128.8,2241.2 1130.3,2239.7 1131.7,2238.4 1133.1,2237.9 1134.5,2238.8 1135.9,2239.7 1137.3,2237.8 1138.8,2234.3 1140.2,2232.2 1141.6,2231.4 1143.0,2231.3 1144.4,2231.6 1145.8,2232.4 1147.3,2235.1 1148.7,2237.0 1150.1,2238.2 1151.5,2240.7 1152.9,2241.6 1154.4,2240.8 1155.8,2240.3 1157.2,2240.6 1158.6,2241.1 1160.0,2240.9 1161.4,2240.2 1162.9,2240.5 1164.3,2242.1 1165.7,2243.1 1167.1,2242.0 1168.5,2240.3 1169.9,2239.5 1171.4,2240.0 1172.8,2241.3 1174.2,2242.1 1175.6,2243.1 1177.0,2243.4 1178.4,2243.2 1179.9,2243.9 1181.3,2244.5 1182.7,2243.8 1184.1,2243.8 1185.5,2245.3 1186.9,2245.4 1188.4,2243.1 1189.8,2241.1 1191.2,2241.1 1192.6,2241.8 1194.0,2242.8" fill="none" stroke="#1f9858" stroke-width="2.5" stroke-linejoin="round" stroke-linecap="round"/>
<polyline points="353.8,2194.4 355.2,2196.1 356.6,2196.5 358.0,2196.3 359.4,2197.0 360.9,2196.7 362.3,2197.0 363.7,2196.8 365.1,2195.6 366.5,2194.5 367.9,2193.0 369.4,2191.8 370.8,2193.3 372.2,2196.1 373.6,2196.2 375.0,2194.9 376.5,2195.1 377.9,2196.1 379.3,2197.5 380.7,2197.6 382.1,2196.1 383.5,2195.2 385.0,2196.3 386.4,2195.6 387.8,2195.2 389.2,2196.4 390.6,2197.2 392.0,2196.8 393.5,2195.0 394.9,2191.0 396.3,2187.0 397.7,2183.8 399.1,2180.9 400.5,2179.3 402.0,2179.0 403.4,2180.4 404.8,2183.2 406.2,2186.8 407.6,2187.8 409.0,2190.1 410.5,2193.6 411.9,2194.4 413.3,2194.6 414.7,2196.8 416.1,2198.2 417.5,2195.6 419.0,2197.1 420.4,2195.7 421.8,2194.7 423.2,2193.6 424.6,2192.7 426.0,2193.0 427.5,2194.6 428.9,2196.1 430.3,2196.2 431.7,2196.2 433.1,2196.4 434.5,2197.2 436.0,2197.0 437.4,2196.5 438.8,2196.3 440.2,2194.6 441.6,2193.0 443.0,2193.3 444.5,2193.1 445.9,2191.7 447.3,2191.3 448.7,2191.6 450.1,2193.3 451.5,2195.7 453.0,2197.0 454.4,2196.2 455.8,2193.9 457.2,2193.2 458.6,2194.2 460.1,2194.3 461.5,2194.4 462.9,2193.7 464.3,2193.2 465.7,2194.6 467.1,2196.0 468.6,2195.4 470.0,2195.5 471.4,2195.0 472.8,2194.1 474.2,2194.2 475.6,2194.4 477.1,2193.1 478.5,2189.6 479.9,2186.2 481.3,2186.0 482.7,2187.5 484.1,2189.4 485.6,2192.6 487.0,2195.9 488.4,2196.9 489.8,2197.5 491.2,2197.9 492.6,2197.8 494.1,2197.6 495.5,2198.0 496.9,2198.1 498.3,2196.4 499.7,2196.4 501.1,2197.9 502.6,2197.2 504.0,2196.6 505.4,2196.1 506.8,2196.3 508.2,2197.0 509.6,2197.1 511.1,2197.2 512.5,2197.2 513.9,2196.6 515.3,2196.2 516.7,2195.9 518.1,2195.7 519.6,2196.3 521.0,2196.6 522.4,2196.2 523.8,2193.6 525.2,2189.2 526.6,2185.5 528.1,2182.7 529.5,2179.0 530.9,2174.3 532.3,2169.4 533.7,2166.7 535.1,2168.4 536.6,2168.5 538.0,2169.2 539.4,2171.8 540.8,2174.4 542.2,2177.3 543.6,2181.0 545.1,2183.8 546.5,2186.1 547.9,2187.8 549.3,2188.9 550.7,2190.9 552.2,2193.7 553.6,2195.9 555.0,2196.1 556.4,2195.4 557.8,2193.9 559.2,2194.0 560.7,2195.2 562.1,2195.6 563.5,2196.1 564.9,2195.7 566.3,2194.6 567.7,2195.5 569.2,2196.5 570.6,2195.9 572.0,2194.7 573.4,2194.6 574.8,2195.8 576.2,2196.3 577.7,2196.5 579.1,2197.3 580.5,2197.4 581.9,2196.5 583.3,2195.2 584.7,2193.2 586.2,2192.2 587.6,2193.9 589.0,2195.2 590.4,2195.3 591.8,2194.9 593.2,2194.5 594.7,2194.8 596.1,2194.1 597.5,2193.1 598.9,2193.7 600.3,2194.4 601.7,2193.4 603.2,2192.8 604.6,2193.6 606.0,2194.1 607.4,2193.4 608.8,2194.2 610.2,2195.8 611.7,2196.4 613.1,2195.7 614.5,2197.0 615.9,2198.5 617.3,2197.6 618.7,2195.7 620.2,2193.8 621.6,2192.5 623.0,2193.9 624.4,2196.3 625.8,2196.6 627.2,2195.6 628.7,2194.5 630.1,2193.2 631.5,2194.0 632.9,2195.7 634.3,2195.1 635.8,2195.1 637.2,2196.3 638.6,2195.6 640.0,2196.7 641.4,2197.7 642.8,2197.2 644.3,2195.4 645.7,2195.4 647.1,2195.4 648.5,2195.4 649.9,2196.6 651.3,2198.4 652.8,2195.8 654.2,2196.5 655.6,2195.6 657.0,2195.3 658.4,2195.7 659.8,2195.9 661.3,2194.4 662.7,2192.8 664.1,2193.2 665.5,2194.2 666.9,2194.7 668.3,2195.5 669.8,2195.3 671.2,2193.6 672.6,2194.0 674.0,2196.0 675.4,2196.5 676.8,2196.8 678.3,2196.5 679.7,2196.0 681.1,2196.1 682.5,2195.9 683.9,2194.5 685.3,2193.8 686.8,2193.9 688.2,2193.9 689.6,2194.7 691.0,2196.1 692.4,2195.8 693.8,2187.3 695.3,2192.3 696.7,2193.7 698.1,2194.7 699.5,2195.4 700.9,2195.4 702.3,2195.9 703.8,2197.2 705.2,2196.5 706.6,2195.2 708.0,2194.7 709.4,2194.4 710.8,2193.8 712.3,2193.0 713.7,2193.2 715.1,2194.6 716.5,2197.6 717.9,2198.1 719.4,2197.5 720.8,2196.3 722.2,2194.5 723.6,2193.8 725.0,2193.5 726.4,2194.1 727.9,2194.8 729.3,2193.9 730.7,2194.3 732.1,2194.4 733.5,2194.7 734.9,2195.0 736.4,2195.0 737.8,2195.1 739.2,2194.8 740.6,2194.5 742.0,2195.1 743.4,2195.7 744.9,2195.8 746.3,2196.8 747.7,2196.7 749.1,2194.3 750.5,2192.6 751.9,2193.6 753.4,2194.4 754.8,2194.8 756.2,2195.0 757.6,2195.6 759.0,2195.6 760.4,2194.6 761.9,2194.0 763.3,2192.8 764.7,2192.6 766.1,2193.3 767.5,2192.8 768.9,2192.1 770.4,2192.4 771.8,2193.4 773.2,2194.9 774.6,2197.0 776.0,2196.7 777.4,2195.5 778.9,2195.5 780.3,2195.8 781.7,2194.6 783.1,2193.1 784.5,2193.1 785.9,2193.0 787.4,2194.1 788.8,2195.9 790.2,2196.6 791.6,2198.1 793.0,2196.4 794.4,2196.7 795.9,2196.0 797.3,2195.8 798.7,2196.7 800.1,2196.9 801.5,2197.0 802.9,2198.4 804.4,2199.0 805.8,2198.2 807.2,2198.0 808.6,2196.1 810.0,2195.1 811.5,2196.2 812.9,2196.6 814.3,2195.8 815.7,2193.9 817.1,2191.8 818.5,2191.2 820.0,2191.4 821.4,2191.5 822.8,2192.3 824.2,2193.4 825.6,2193.7 827.0,2194.5 828.5,2194.9 829.9,2194.8 831.3,2196.7 832.7,2196.8 834.1,2194.9 835.5,2194.6 837.0,2196.0 838.4,2196.4 839.8,2194.7 841.2,2193.6 842.6,2194.9 844.0,2195.7 845.5,2193.7 846.9,2191.1 848.3,2191.7 849.7,2194.3 851.1,2195.0 852.5,2194.1 854.0,2194.3 855.4,2195.9 856.8,2196.3 858.2,2196.9 859.6,2197.0 861.0,2195.9 862.5,2194.9 863.9,2196.3 865.3,2195.7 866.7,2194.6 868.1,2195.1 869.5,2194.3 871.0,2194.5 872.4,2196.2 873.8,2196.5 875.2,2193.2 876.6,2191.8 878.0,2193.4 879.5,2193.9 880.9,2192.6 882.3,2192.5 883.7,2194.6 885.1,2195.3 886.5,2195.6 888.0,2198.1 889.4,2200.4 890.8,2199.4 892.2,2198.1 893.6,2199.0 895.1,2200.8 896.5,2201.0 897.9,2199.2 899.3,2197.2 900.7,2195.9 902.1,2194.4 903.6,2192.2 905.0,2192.9 906.4,2195.0 907.8,2194.1 909.2,2192.2 910.6,2192.2 912.1,2192.8 913.5,2192.6 914.9,2193.2 916.3,2193.3 917.7,2192.5 919.1,2191.0 920.6,2187.6 922.0,2184.7 923.4,2185.5 924.8,2188.1 926.2,2191.6 927.6,2195.0 929.1,2196.8 930.5,2197.8 931.9,2197.5 933.3,2197.1 934.7,2197.9 936.1,2198.5 937.6,2197.5 939.0,2197.3 940.4,2198.5 941.8,2197.7 943.2,2195.8 944.6,2196.1 946.1,2197.3 947.5,2194.5 948.9,2190.1 950.3,2186.6 951.7,2184.9 953.1,2180.2 954.6,2173.9 956.0,2167.7 957.4,2162.3 958.8,2157.9 960.2,2154.0 961.6,2148.5 963.1,2140.2 964.5,2128.8 965.9,2119.1 967.3,2111.5 968.7,2105.2 970.1,2096.5 971.6,2086.6 973.0,2076.2 974.4,2067.2 975.8,2059.1 977.2,2051.7 978.7,2042.8 980.1,2033.4 981.5,2027.8 982.9,2023.2 984.3,2016.5 985.7,2010.3 987.2,2004.5 988.6,1998.4 990.0,1993.3 991.4,1987.9 992.8,1983.3 994.2,1979.7 995.7,1975.7 997.1,1972.1 998.5,1969.6 999.9,1967.4 1001.3,1964.7 1002.7,1960.8 1004.2,1957.4 1005.6,1954.2 1007.0,1953.2 1008.4,1955.0 1009.8,1957.8 1011.2,1962.0 1012.7,1963.3 1014.1,1962.8 1015.5,1957.8 1016.9,1951.9 1018.3,1947.8 1019.7,1945.3 1021.2,1941.1 1022.6,1937.3 1024.0,1934.7 1025.4,1931.2 1026.8,1927.4 1028.2,1924.2 1029.7,1921.8 1031.1,1919.9 1032.5,1916.8 1033.9,1913.8 1035.3,1912.4 1036.7,1911.9 1038.2,1908.9 1039.6,1904.4 1041.0,1900.8 1042.4,1900.2 1043.8,1902.5 1045.2,1905.0 1046.7,1907.6 1048.1,1909.9 1049.5,1912.6 1050.9,1918.0 1052.3,1923.8 1053.7,1927.1 1055.2,1929.3 1056.6,1932.4 1058.0,1938.3 1059.4,1945.4 1060.8,1955.6 1062.2,1963.8 1063.7,1969.9 1065.1,1977.5 1066.5,1986.4 1067.9,1994.8 1069.3,2002.8 1070.8,2009.9 1072.2,2016.9 1073.6,2023.8 1075.0,2029.2 1076.4,2035.4 1077.8,2043.3 1079.3,2050.6 1080.7,2057.2 1082.1,2062.2 1083.5,2067.1 1084.9,2072.0 1086.3,2076.4 1087.8,2082.0 1089.2,2088.6 1090.6,2093.6 1092.0,2098.9 1093.4,2103.5 1094.8,2107.8 1096.3,2114.9 1097.7,2121.7 1099.1,2126.8 1100.5,2133.4 1101.9,2141.6 1103.3,2150.3 1104.8,2156.9 1106.2,2168.1 1107.6,2181.5 1109.0,2190.5 1110.4,2194.7 1111.8,2195.0 1113.3,2195.3 1114.7,2193.7 1116.1,2192.2 1117.5,2192.6 1118.9,2192.1 1120.3,2190.3 1121.8,2190.7 1123.2,2191.4 1124.6,2192.6 1126.0,2192.4 1127.4,2192.1 1128.8,2193.5 1130.3,2194.6 1131.7,2194.2 1133.1,2193.5 1134.5,2192.7 1135.9,2193.1 1137.3,2192.8 1138.8,2192.4 1140.2,2191.5 1141.6,2190.4 1143.0,2189.0 1144.4,2187.7 1145.8,2188.4 1147.3,2190.8 1148.7,2192.6 1150.1,2192.3 1151.5,2191.1 1152.9,2192.8 1154.4,2194.8 1155.8,2194.9 1157.2,2195.5 1158.6,2196.0 1160.0,2195.8 1161.4,2195.0 1162.9,2194.1 1164.3,2192.9 1165.7,2192.6 1167.1,2194.2 1168.5,2196.0 1169.9,2196.2 1171.4,2194.3 1172.8,2193.0 1174.2,2192.3 1175.6,2193.2 1177.0,2194.9 1178.4,2195.0 1179.9,2195.3 1181.3,2196.3 1182.7,2197.1 1184.1,2196.9 1185.5,2196.3 1186.9,2194.1 1188.4,2192.6 1189.8,2193.7 1191.2,2194.6 1192.6,2194.1 1194.0,2193.6" fill="none" stroke="#b068e2" stroke-width="2.5" stroke-linejoin="round" stroke-linecap="round"/>
<polyline points="353.8,2148.6 355.2,2148.4 356.6,2147.2 358.0,2147.1 359.4,2149.3 360.9,2151.1 362.3,2150.8 363.7,2149.3 365.1,2148.8 366.5,2149.2 367.9,2149.9 369.4,2149.5 370.8,2148.0 372.2,2148.3 373.6,2148.9 375.0,2149.6 376.5,2150.0 377.9,2149.2 379.3,2148.5 380.7,2146.9 382.1,2145.5 383.5,2144.9 385.0,2145.7 386.4,2147.4 387.8,2147.1 389.2,2146.5 390.6,2145.7 392.0,2144.0 393.5,2142.0 394.9,2139.5 396.3,2136.6 397.7,2133.4 399.1,2130.6 400.5,2129.9 402.0,2130.3 403.4,2130.7 404.8,2134.8 406.2,2139.7 407.6,2142.6 409.0,2144.0 410.5,2145.3 411.9,2146.3 413.3,2146.4 414.7,2145.9 416.1,2146.3 417.5,2146.5 419.0,2147.1 420.4,2148.6 421.8,2149.3 423.2,2148.1 424.6,2147.4 426.0,2147.8 427.5,2149.5 428.9,2150.7 430.3,2150.2 431.7,2148.2 433.1,2145.8 434.5,2145.9 436.0,2146.5 437.4,2147.4 438.8,2147.5 440.2,2146.9 441.6,2147.4 443.0,2147.6 444.5,2146.7 445.9,2146.9 447.3,2147.2 448.7,2148.1 450.1,2150.3 451.5,2150.8 453.0,2150.8 454.4,2150.1 455.8,2150.5 457.2,2151.5 458.6,2151.3 460.1,2150.2 461.5,2150.0 462.9,2150.5 464.3,2149.0 465.7,2146.9 467.1,2146.8 468.6,2148.0 470.0,2147.9 471.4,2148.9 472.8,2149.9 474.2,2151.0 475.6,2150.0 477.1,2147.3 478.5,2145.0 479.9,2143.2 481.3,2142.4 482.7,2145.1 484.1,2147.4 485.6,2146.9 487.0,2148.1 488.4,2150.5 489.8,2150.1 491.2,2148.8 492.6,2149.2 494.1,2149.8 495.5,2147.8 496.9,2147.1 498.3,2148.3 499.7,2148.5 501.1,2149.0 502.6,2149.3 504.0,2149.1 505.4,2150.3 506.8,2151.5 508.2,2150.9 509.6,2150.3 511.1,2150.4 512.5,2149.9 513.9,2148.8 515.3,2149.7 516.7,2151.3 518.1,2149.9 519.6,2149.1 521.0,2149.4 522.4,2147.8 523.8,2145.0 525.2,2142.4 526.6,2140.2 528.1,2136.5 529.5,2131.0 530.9,2126.7 532.3,2122.9 533.7,2120.3 535.1,2123.4 536.6,2124.6 538.0,2125.7 539.4,2127.8 540.8,2130.1 542.2,2131.9 543.6,2134.4 545.1,2139.3 546.5,2141.8 547.9,2143.2 549.3,2143.6 550.7,2145.1 552.2,2147.8 553.6,2148.6 555.0,2149.2 556.4,2150.0 557.8,2150.1 559.2,2149.0 560.7,2149.5 562.1,2150.8 563.5,2149.9 564.9,2148.1 566.3,2149.0 567.7,2151.8 569.2,2152.3 570.6,2150.0 572.0,2148.8 573.4,2149.8 574.8,2149.8 576.2,2148.2 577.7,2147.2 579.1,2147.3 580.5,2147.8 581.9,2146.3 583.3,2143.8 584.7,2142.5 586.2,2143.4 587.6,2146.9 589.0,2149.1 590.4,2148.6 591.8,2147.2 593.2,2146.8 594.7,2146.9 596.1,2146.8 597.5,2145.9 598.9,2146.2 600.3,2147.3 601.7,2148.0 603.2,2149.4 604.6,2149.9 606.0,2149.1 607.4,2149.0 608.8,2148.9 610.2,2148.5 611.7,2148.2 613.1,2149.2 614.5,2150.4 615.9,2149.8 617.3,2150.0 618.7,2151.1 620.2,2151.5 621.6,2151.7 623.0,2152.2 624.4,2153.4 625.8,2155.1 627.2,2154.7 628.7,2153.0 630.1,2152.1 631.5,2152.3 632.9,2152.6 634.3,2152.0 635.8,2150.7 637.2,2150.1 638.6,2149.6 640.0,2149.7 641.4,2149.9 642.8,2149.2 644.3,2148.6 645.7,2149.9 647.1,2150.7 648.5,2150.6 649.9,2151.6 651.3,2152.0 652.8,2151.6 654.2,2150.4 655.6,2149.1 657.0,2148.7 658.4,2149.0 659.8,2150.2 661.3,2150.6 662.7,2149.6 664.1,2149.5 665.5,2148.9 666.9,2149.3 668.3,2148.9 669.8,2147.3 671.2,2148.8 672.6,2148.1 674.0,2148.1 675.4,2148.0 676.8,2148.5 678.3,2148.5 679.7,2146.9 681.1,2146.0 682.5,2146.5 683.9,2147.2 685.3,2148.2 686.8,2148.8 688.2,2149.9 689.6,2151.4 691.0,2151.0 692.4,2150.2 693.8,2150.0 695.3,2149.6 696.7,2150.8 698.1,2151.7 699.5,2150.2 700.9,2148.5 702.3,2148.9 703.8,2149.9 705.2,2150.8 706.6,2151.9 708.0,2151.6 709.4,2150.7 710.8,2150.2 712.3,2149.1 713.7,2147.7 715.1,2148.9 716.5,2149.7 717.9,2148.3 719.4,2146.9 720.8,2146.5 722.2,2146.4 723.6,2146.6 725.0,2147.5 726.4,2148.5 727.9,2148.1 729.3,2146.2 730.7,2145.2 732.1,2146.3 733.5,2148.4 734.9,2147.9 736.4,2146.6 737.8,2146.7 739.2,2148.3 740.6,2151.1 742.0,2151.3 743.4,2151.3 744.9,2150.7 746.3,2150.9 747.7,2149.7 749.1,2147.1 750.5,2146.5 751.9,2148.1 753.4,2148.7 754.8,2147.5 756.2,2147.3 757.6,2148.7 759.0,2150.0 760.4,2149.1 761.9,2147.9 763.3,2148.4 764.7,2148.5 766.1,2149.5 767.5,2151.0 768.9,2150.4 770.4,2149.0 771.8,2148.6 773.2,2151.0 774.6,2148.8 776.0,2147.9 777.4,2147.5 778.9,2148.3 780.3,2150.1 781.7,2151.8 783.1,2151.7 784.5,2150.3 785.9,2149.6 787.4,2150.5 788.8,2149.9 790.2,2147.8 791.6,2147.7 793.0,2150.4 794.4,2151.8 795.9,2150.3 797.3,2149.6 798.7,2149.8 800.1,2150.0 801.5,2149.9 802.9,2149.2 804.4,2149.2 805.8,2149.9 807.2,2150.4 808.6,2150.4 810.0,2150.8 811.5,2150.4 812.9,2149.5 814.3,2148.7 815.7,2147.2 817.1,2147.6 818.5,2148.9 820.0,2148.6 821.4,2146.9 822.8,2145.9 824.2,2145.8 825.6,2147.0 827.0,2148.5 828.5,2148.7 829.9,2149.7 831.3,2151.4 832.7,2151.0 834.1,2149.8 835.5,2148.9 837.0,2148.5 838.4,2149.4 839.8,2149.7 841.2,2149.6 842.6,2150.1 844.0,2150.3 845.5,2149.3 846.9,2149.3 848.3,2151.2 849.7,2151.8 851.1,2151.1 852.5,2150.9 854.0,2150.2 855.4,2149.3 856.8,2149.1 858.2,2149.6 859.6,2149.8 861.0,2148.4 862.5,2148.0 863.9,2149.1 865.3,2149.7 866.7,2149.6 868.1,2149.0 869.5,2148.1 871.0,2149.2 872.4,2148.9 873.8,2147.2 875.2,2147.6 876.6,2148.9 878.0,2149.7 879.5,2151.0 880.9,2152.5 882.3,2152.4 883.7,2151.0 885.1,2150.2 886.5,2149.7 888.0,2150.0 889.4,2151.2 890.8,2151.9 892.2,2152.4 893.6,2151.8 895.1,2150.3 896.5,2150.5 897.9,2150.5 899.3,2148.6 900.7,2146.6 902.1,2145.9 903.6,2144.5 905.0,2143.2 906.4,2143.1 907.8,2143.7 909.2,2145.1 910.6,2146.5 912.1,2146.9 913.5,2148.9 914.9,2150.4 916.3,2148.8 917.7,2145.8 919.1,2144.1 920.6,2142.1 922.0,2138.2 923.4,2136.8 924.8,2139.7 926.2,2142.9 927.6,2145.4 929.1,2146.6 930.5,2147.5 931.9,2148.7 933.3,2152.1 934.7,2155.9 936.1,2157.7 937.6,2157.5 939.0,2156.4 940.4,2156.7 941.8,2156.8 943.2,2155.3 944.6,2154.2 946.1,2150.8 947.5,2147.1 948.9,2144.1 950.3,2141.2 951.7,2137.7 953.1,2131.6 954.6,2126.4 956.0,2120.4 957.4,2113.9 958.8,2107.6 960.2,2101.2 961.6,2095.1 963.1,2089.9 964.5,2081.2 965.9,2072.3 967.3,2062.6 968.7,2051.7 970.1,2041.3 971.6,2032.7 973.0,2023.3 974.4,2013.5 975.8,2003.6 977.2,1993.2 978.7,1982.3 980.1,1972.2 981.5,1965.8 982.9,1959.5 984.3,1952.6 985.7,1945.7 987.2,1938.4 988.6,1932.3 990.0,1929.1 991.4,1923.6 992.8,1917.0 994.2,1912.5 995.7,1908.2 997.1,1903.4 998.5,1898.8 999.9,1894.5 1001.3,1890.3 1002.7,1884.3 1004.2,1881.0 1005.6,1879.8 1007.0,1879.5 1008.4,1881.0 1009.8,1883.9 1011.2,1888.2 1012.7,1888.4 1014.1,1889.2 1015.5,1886.5 1016.9,1881.8 1018.3,1876.5 1019.7,1871.6 1021.2,1867.1 1022.6,1863.1 1024.0,1861.1 1025.4,1857.8 1026.8,1852.7 1028.2,1848.8 1029.7,1846.7 1031.1,1844.7 1032.5,1841.9 1033.9,1839.1 1035.3,1836.6 1036.7,1834.1 1038.2,1832.4 1039.6,1830.5 1041.0,1826.5 1042.4,1823.9 1043.8,1824.9 1045.2,1826.5 1046.7,1829.9 1048.1,1833.9 1049.5,1837.9 1050.9,1841.6 1052.3,1844.6 1053.7,1848.2 1055.2,1853.5 1056.6,1858.4 1058.0,1866.4 1059.4,1875.2 1060.8,1885.2 1062.2,1894.2 1063.7,1901.6 1065.1,1911.4 1066.5,1922.2 1067.9,1930.8 1069.3,1938.3 1070.8,1947.0 1072.2,1954.4 1073.6,1960.3 1075.0,1966.3 1076.4,1972.4 1077.8,1979.3 1079.3,1987.6 1080.7,1994.7 1082.1,1999.7 1083.5,2005.5 1084.9,2011.9 1086.3,2018.9 1087.8,2024.7 1089.2,2030.6 1090.6,2038.0 1092.0,2045.8 1093.4,2051.8 1094.8,2058.3 1096.3,2065.7 1097.7,2071.8 1099.1,2076.8 1100.5,2081.6 1101.9,2086.6 1103.3,2096.1 1104.8,2107.1 1106.2,2120.5 1107.6,2134.8 1109.0,2144.5 1110.4,2150.0 1111.8,2149.5 1113.3,2148.5 1114.7,2149.0 1116.1,2150.2 1117.5,2150.0 1118.9,2148.4 1120.3,2146.4 1121.8,2145.5 1123.2,2145.8 1124.6,2146.6 1126.0,2146.9 1127.4,2146.6 1128.8,2145.9 1130.3,2146.1 1131.7,2146.4 1133.1,2146.6 1134.5,2147.1 1135.9,2147.4 1137.3,2147.6 1138.8,2147.3 1140.2,2146.1 1141.6,2144.6 1143.0,2143.2 1144.4,2143.1 1145.8,2144.5 1147.3,2145.6 1148.7,2145.7 1150.1,2146.4 1151.5,2146.9 1152.9,2147.4 1154.4,2149.3 1155.8,2151.3 1157.2,2151.1 1158.6,2150.5 1160.0,2150.2 1161.4,2149.9 1162.9,2149.7 1164.3,2150.2 1165.7,2150.6 1167.1,2150.8 1168.5,2152.1 1169.9,2153.4 1171.4,2153.6 1172.8,2153.0 1174.2,2152.0 1175.6,2151.7 1177.0,2150.9 1178.4,2150.6 1179.9,2151.4 1181.3,2151.6 1182.7,2151.6 1184.1,2152.3 1185.5,2152.2 1186.9,2151.8 1188.4,2151.6 1189.8,2151.5 1191.2,2151.3 1192.6,2151.7 1194.0,2151.0" fill="none" stroke="#c89000" stroke-width="2.5" stroke-linejoin="round" stroke-linecap="round"/>
<polyline points="353.8,2106.4 355.2,2107.1 356.6,2107.3 358.0,2105.6 359.4,2104.4 360.9,2104.1 362.3,2104.9 363.7,2104.4 365.1,2103.6 366.5,2104.9 367.9,2105.9 369.4,2105.0 370.8,2104.2 372.2,2103.4 373.6,2104.2 375.0,2104.0 376.5,2104.1 377.9,2104.0 379.3,2104.1 380.7,2103.1 382.1,2103.3 383.5,2106.2 385.0,2106.8 386.4,2104.5 387.8,2104.4 389.2,2104.9 390.6,2103.2 392.0,2099.5 393.5,2096.3 394.9,2094.8 396.3,2092.9 397.7,2089.1 399.1,2085.7 400.5,2083.7 402.0,2083.4 403.4,2086.1 404.8,2089.9 406.2,2093.1 407.6,2096.8 409.0,2100.0 410.5,2100.9 411.9,2101.6 413.3,2102.9 414.7,2103.8 416.1,2105.0 417.5,2104.0 419.0,2102.9 420.4,2103.2 421.8,2103.8 423.2,2104.8 424.6,2102.8 426.0,2102.0 427.5,2102.4 428.9,2102.0 430.3,2100.6 431.7,2100.8 433.1,2102.5 434.5,2104.3 436.0,2105.3 437.4,2104.7 438.8,2103.4 440.2,2103.3 441.6,2103.8 443.0,2103.0 444.5,2102.4 445.9,2102.7 447.3,2102.0 448.7,2101.3 450.1,2102.3 451.5,2102.2 453.0,2101.2 454.4,2101.0 455.8,2101.1 457.2,2101.2 458.6,2101.1 460.1,2101.0 461.5,2100.8 462.9,2101.4 464.3,2103.0 465.7,2104.0 467.1,2103.5 468.6,2102.4 470.0,2102.5 471.4,2103.2 472.8,2101.7 474.2,2100.0 475.6,2099.7 477.1,2099.9 478.5,2099.1 479.9,2097.4 481.3,2097.3 482.7,2100.8 484.1,2104.3 485.6,2103.9 487.0,2102.4 488.4,2103.0 489.8,2103.5 491.2,2103.9 492.6,2105.5 494.1,2106.1 495.5,2105.2 496.9,2103.9 498.3,2103.3 499.7,2101.4 501.1,2101.0 502.6,2103.1 504.0,2104.3 505.4,2104.5 506.8,2104.6 508.2,2104.5 509.6,2105.0 511.1,2104.7 512.5,2105.0 513.9,2106.3 515.3,2105.9 516.7,2104.5 518.1,2103.7 519.6,2103.8 521.0,2103.8 522.4,2103.1 523.8,2101.7 525.2,2098.0 526.6,2092.9 528.1,2086.8 529.5,2080.9 530.9,2076.6 532.3,2071.6 533.7,2067.8 535.1,2070.4 536.6,2072.7 538.0,2077.6 539.4,2081.5 540.8,2082.4 542.2,2083.0 543.6,2088.9 545.1,2093.3 546.5,2095.0 547.9,2096.2 549.3,2097.9 550.7,2100.0 552.2,2103.2 553.6,2105.3 555.0,2105.2 556.4,2103.1 557.8,2101.3 559.2,2101.6 560.7,2103.7 562.1,2105.4 563.5,2104.1 564.9,2101.9 566.3,2101.3 567.7,2101.5 569.2,2101.9 570.6,2103.5 572.0,2105.7 573.4,2106.0 574.8,2104.7 576.2,2103.5 577.7,2103.2 579.1,2103.7 580.5,2103.9 581.9,2103.1 583.3,2100.7 584.7,2098.5 586.2,2098.6 587.6,2100.0 589.0,2100.9 590.4,2102.2 591.8,2103.1 593.2,2103.3 594.7,2102.6 596.1,2102.2 597.5,2101.9 598.9,2100.7 600.3,2101.1 601.7,2101.4 603.2,2100.9 604.6,2101.0 606.0,2101.6 607.4,2102.5 608.8,2103.6 610.2,2102.5 611.7,2101.8 613.1,2101.6 614.5,2101.9 615.9,2101.8 617.3,2101.7 618.7,2102.7 620.2,2103.5 621.6,2102.9 623.0,2102.1 624.4,2102.8 625.8,2104.6 627.2,2104.9 628.7,2103.7 630.1,2102.3 631.5,2101.8 632.9,2101.4 634.3,2101.5 635.8,2103.5 637.2,2105.1 638.6,2104.4 640.0,2103.0 641.4,2102.9 642.8,2103.9 644.3,2104.9 645.7,2105.6 647.1,2105.9 648.5,2105.8 649.9,2106.4 651.3,2106.8 652.8,2105.7 654.2,2103.3 655.6,2101.7 657.0,2101.3 658.4,2100.8 659.8,2101.7 661.3,2103.0 662.7,2103.5 664.1,2101.8 665.5,2101.0 666.9,2102.0 668.3,2102.8 669.8,2101.8 671.2,2101.8 672.6,2102.8 674.0,2102.7 675.4,2101.3 676.8,2103.0 678.3,2101.9 679.7,2101.6 681.1,2103.1 682.5,2103.1 683.9,2102.3 685.3,2102.6 686.8,2102.7 688.2,2102.3 689.6,2102.6 691.0,2102.8 692.4,2101.9 693.8,2100.7 695.3,2100.4 696.7,2101.5 698.1,2102.5 699.5,2102.5 700.9,2102.7 702.3,2104.8 703.8,2104.3 705.2,2102.9 706.6,2104.3 708.0,2105.2 709.4,2104.1 710.8,2103.6 712.3,2103.8 713.7,2104.4 715.1,2105.2 716.5,2104.7 717.9,2104.9 719.4,2104.8 720.8,2105.3 722.2,2105.6 723.6,2105.7 725.0,2106.2 726.4,2106.7 727.9,2104.8 729.3,2102.8 730.7,2102.3 732.1,2102.4 733.5,2103.4 734.9,2103.5 736.4,2104.2 737.8,2105.5 739.2,2107.8 740.6,2109.6 742.0,2109.7 743.4,2109.3 744.9,2107.6 746.3,2104.3 747.7,2102.7 749.1,2102.8 750.5,2103.2 751.9,2103.4 753.4,2103.1 754.8,2103.2 756.2,2103.4 757.6,2103.7 759.0,2103.0 760.4,2103.2 761.9,2104.2 763.3,2103.8 764.7,2102.3 766.1,2101.6 767.5,2102.1 768.9,2102.4 770.4,2102.7 771.8,2102.4 773.2,2102.2 774.6,2103.3 776.0,2102.3 777.4,2101.4 778.9,2102.3 780.3,2102.2 781.7,2101.2 783.1,2101.5 784.5,2101.8 785.9,2102.0 787.4,2103.1 788.8,2104.5 790.2,2104.8 791.6,2104.1 793.0,2103.4 794.4,2102.5 795.9,2102.3 797.3,2102.5 798.7,2102.7 800.1,2102.9 801.5,2103.3 802.9,2103.7 804.4,2102.9 805.8,2102.1 807.2,2102.0 808.6,2101.8 810.0,2102.5 811.5,2103.0 812.9,2102.5 814.3,2102.2 815.7,2102.7 817.1,2102.8 818.5,2103.0 820.0,2104.7 821.4,2106.3 822.8,2107.1 824.2,2106.5 825.6,2105.2 827.0,2104.6 828.5,2104.7 829.9,2104.9 831.3,2104.4 832.7,2103.7 834.1,2103.3 835.5,2102.3 837.0,2101.7 838.4,2102.3 839.8,2102.9 841.2,2102.7 842.6,2102.4 844.0,2102.6 845.5,2103.5 846.9,2104.8 848.3,2105.1 849.7,2104.6 851.1,2105.3 852.5,2105.3 854.0,2103.8 855.4,2102.3 856.8,2101.7 858.2,2102.5 859.6,2103.9 861.0,2105.3 862.5,2108.2 863.9,2108.5 865.3,2105.4 866.7,2104.4 868.1,2104.3 869.5,2103.8 871.0,2103.6 872.4,2103.0 873.8,2102.6 875.2,2102.9 876.6,2103.2 878.0,2103.3 879.5,2103.7 880.9,2104.3 882.3,2105.9 883.7,2107.4 885.1,2108.3 886.5,2107.0 888.0,2105.6 889.4,2105.7 890.8,2107.6 892.2,2108.4 893.6,2106.0 895.1,2104.7 896.5,2104.4 897.9,2103.9 899.3,2103.3 900.7,2102.8 902.1,2102.6 903.6,2102.4 905.0,2104.1 906.4,2102.6 907.8,2102.0 909.2,2101.5 910.6,2103.2 912.1,2104.8 913.5,2104.9 914.9,2104.7 916.3,2102.5 917.7,2099.6 919.1,2097.4 920.6,2095.0 922.0,2093.1 923.4,2093.6 924.8,2096.4 926.2,2100.0 927.6,2102.1 929.1,2104.0 930.5,2105.5 931.9,2106.3 933.3,2105.3 934.7,2105.1 936.1,2106.9 937.6,2109.7 939.0,2110.5 940.4,2109.4 941.8,2109.0 943.2,2108.1 944.6,2107.1 946.1,2106.0 947.5,2103.1 948.9,2100.8 950.3,2097.6 951.7,2093.9 953.1,2088.6 954.6,2083.3 956.0,2075.7 957.4,2069.2 958.8,2065.0 960.2,2058.4 961.6,2051.6 963.1,2046.2 964.5,2037.0 965.9,2027.4 967.3,2017.1 968.7,2006.7 970.1,1996.4 971.6,1986.8 973.0,1977.7 974.4,1969.3 975.8,1962.2 977.2,1955.2 978.7,1945.4 980.1,1934.5 981.5,1927.1 982.9,1920.3 984.3,1912.4 985.7,1904.7 987.2,1897.9 988.6,1891.9 990.0,1888.9 991.4,1885.9 992.8,1881.4 994.2,1876.0 995.7,1870.6 997.1,1866.4 998.5,1862.9 999.9,1859.7 1001.3,1855.9 1002.7,1851.2 1004.2,1847.7 1005.6,1846.0 1007.0,1846.4 1008.4,1848.3 1009.8,1850.2 1011.2,1854.4 1012.7,1854.6 1014.1,1853.5 1015.5,1848.6 1016.9,1844.0 1018.3,1839.9 1019.7,1836.2 1021.2,1832.1 1022.6,1828.0 1024.0,1824.8 1025.4,1822.3 1026.8,1820.4 1028.2,1818.0 1029.7,1814.1 1031.1,1811.5 1032.5,1809.9 1033.9,1808.2 1035.3,1806.2 1036.7,1803.7 1038.2,1800.2 1039.6,1796.4 1041.0,1793.1 1042.4,1789.9 1043.8,1790.5 1045.2,1794.1 1046.7,1799.5 1048.1,1803.4 1049.5,1806.0 1050.9,1810.1 1052.3,1814.4 1053.7,1817.8 1055.2,1822.3 1056.6,1828.0 1058.0,1837.2 1059.4,1844.5 1060.8,1850.8 1062.2,1857.3 1063.7,1864.7 1065.1,1873.8 1066.5,1882.2 1067.9,1889.4 1069.3,1897.5 1070.8,1905.9 1072.2,1912.6 1073.6,1918.9 1075.0,1925.9 1076.4,1932.9 1077.8,1939.2 1079.3,1945.7 1080.7,1953.8 1082.1,1961.9 1083.5,1968.5 1084.9,1972.5 1086.3,1977.9 1087.8,1983.8 1089.2,1989.4 1090.6,1994.7 1092.0,2001.0 1093.4,2007.5 1094.8,2014.3 1096.3,2021.7 1097.7,2028.9 1099.1,2035.1 1100.5,2040.2 1101.9,2045.3 1103.3,2054.6 1104.8,2065.5 1106.2,2079.1 1107.6,2092.3 1109.0,2100.9 1110.4,2106.3 1111.8,2107.0 1113.3,2105.6 1114.7,2104.0 1116.1,2102.0 1117.5,2101.7 1118.9,2101.8 1120.3,2101.2 1121.8,2100.5 1123.2,2100.0 1124.6,2100.0 1126.0,2100.5 1127.4,2102.8 1128.8,2105.0 1130.3,2105.4 1131.7,2104.8 1133.1,2104.7 1134.5,2104.6 1135.9,2103.0 1137.3,2101.3 1138.8,2100.0 1140.2,2099.4 1141.6,2099.2 1143.0,2097.6 1144.4,2094.2 1145.8,2093.5 1147.3,2096.3 1148.7,2098.7 1150.1,2099.4 1151.5,2100.3 1152.9,2101.5 1154.4,2102.4 1155.8,2102.4 1157.2,2102.1 1158.6,2103.0 1160.0,2103.6 1161.4,2102.8 1162.9,2103.1 1164.3,2104.4 1165.7,2103.9 1167.1,2102.1 1168.5,2100.7 1169.9,2100.9 1171.4,2101.3 1172.8,2101.7 1174.2,2102.5 1175.6,2102.9 1177.0,2103.4 1178.4,2105.3 1179.9,2108.3 1181.3,2108.1 1182.7,2105.4 1184.1,2103.4 1185.5,2103.3 1186.9,2103.6 1188.4,2103.9 1189.8,2104.2 1191.2,2104.6 1192.6,2104.0 1194.0,2102.2" fill="none" stroke="#10c4c4" stroke-width="2.5" stroke-linejoin="round" stroke-linecap="round"/>
<line x1="1519.5" y1="54.4" x2="1519.5" y2="681.9" stroke="#151515" stroke-width="2.9" stroke-linecap="butt"/>
<line x1="1518.1" y1="680.5" x2="2296.0" y2="680.5" stroke="#151515" stroke-width="2.9" stroke-linecap="butt"/>
<line x1="1506.5" y1="660.3" x2="1519.5" y2="660.3" stroke="#151515" stroke-width="2.3" stroke-linecap="butt"/>
<text class="s" x="1497.0" y="666.6" font-size="24" stroke="#161616" stroke-width="0.45" text-anchor="end" fill="#161616">0</text>
<line x1="1506.5" y1="559.4" x2="1519.5" y2="559.4" stroke="#151515" stroke-width="2.3" stroke-linecap="butt"/>
<text class="s" x="1497.0" y="565.7" font-size="24" stroke="#161616" stroke-width="0.45" text-anchor="end" fill="#161616">10</text>
<line x1="1506.5" y1="458.6" x2="1519.5" y2="458.6" stroke="#151515" stroke-width="2.3" stroke-linecap="butt"/>
<text class="s" x="1497.0" y="464.9" font-size="24" stroke="#161616" stroke-width="0.45" text-anchor="end" fill="#161616">20</text>
<line x1="1506.5" y1="357.7" x2="1519.5" y2="357.7" stroke="#151515" stroke-width="2.3" stroke-linecap="butt"/>
<text class="s" x="1497.0" y="364.0" font-size="24" stroke="#161616" stroke-width="0.45" text-anchor="end" fill="#161616">30</text>
<line x1="1506.5" y1="256.9" x2="1519.5" y2="256.9" stroke="#151515" stroke-width="2.3" stroke-linecap="butt"/>
<text class="s" x="1497.0" y="263.2" font-size="24" stroke="#161616" stroke-width="0.45" text-anchor="end" fill="#161616">40</text>
<line x1="1506.5" y1="156.0" x2="1519.5" y2="156.0" stroke="#151515" stroke-width="2.3" stroke-linecap="butt"/>
<text class="s" x="1497.0" y="162.3" font-size="24" stroke="#161616" stroke-width="0.45" text-anchor="end" fill="#161616">50</text>
<line x1="1506.5" y1="55.2" x2="1519.5" y2="55.2" stroke="#151515" stroke-width="2.3" stroke-linecap="butt"/>
<text class="s" x="1497.0" y="61.5" font-size="24" stroke="#161616" stroke-width="0.45" text-anchor="end" fill="#161616">60</text>
<line x1="1512.5" y1="609.9" x2="1519.5" y2="609.9" stroke="#151515" stroke-width="2.1" stroke-linecap="butt"/>
<line x1="1512.5" y1="509.0" x2="1519.5" y2="509.0" stroke="#151515" stroke-width="2.1" stroke-linecap="butt"/>
<line x1="1512.5" y1="408.2" x2="1519.5" y2="408.2" stroke="#151515" stroke-width="2.1" stroke-linecap="butt"/>
<line x1="1512.5" y1="307.3" x2="1519.5" y2="307.3" stroke="#151515" stroke-width="2.1" stroke-linecap="butt"/>
<line x1="1512.5" y1="206.5" x2="1519.5" y2="206.5" stroke="#151515" stroke-width="2.1" stroke-linecap="butt"/>
<line x1="1512.5" y1="105.6" x2="1519.5" y2="105.6" stroke="#151515" stroke-width="2.1" stroke-linecap="butt"/>
<line x1="1538.5" y1="680.5" x2="1538.5" y2="693.5" stroke="#151515" stroke-width="2.3" stroke-linecap="butt"/>
<text class="s" x="1538.5" y="721.5" font-size="24" stroke="#161616" stroke-width="0.45" text-anchor="middle" fill="#161616">0</text>
<line x1="1633.0" y1="680.5" x2="1633.0" y2="693.5" stroke="#151515" stroke-width="2.3" stroke-linecap="butt"/>
<text class="s" x="1633.0" y="721.5" font-size="24" stroke="#161616" stroke-width="0.45" text-anchor="middle" fill="#161616">1</text>
<line x1="1727.5" y1="680.5" x2="1727.5" y2="693.5" stroke="#151515" stroke-width="2.3" stroke-linecap="butt"/>
<text class="s" x="1727.5" y="721.5" font-size="24" stroke="#161616" stroke-width="0.45" text-anchor="middle" fill="#161616">2</text>
<line x1="1822.0" y1="680.5" x2="1822.0" y2="693.5" stroke="#151515" stroke-width="2.3" stroke-linecap="butt"/>
<text class="s" x="1822.0" y="721.5" font-size="24" stroke="#161616" stroke-width="0.45" text-anchor="middle" fill="#161616">3</text>
<line x1="1916.5" y1="680.5" x2="1916.5" y2="693.5" stroke="#151515" stroke-width="2.3" stroke-linecap="butt"/>
<text class="s" x="1916.5" y="721.5" font-size="24" stroke="#161616" stroke-width="0.45" text-anchor="middle" fill="#161616">4</text>
<line x1="2011.0" y1="680.5" x2="2011.0" y2="693.5" stroke="#151515" stroke-width="2.3" stroke-linecap="butt"/>
<text class="s" x="2011.0" y="721.5" font-size="24" stroke="#161616" stroke-width="0.45" text-anchor="middle" fill="#161616">5</text>
<line x1="2105.5" y1="680.5" x2="2105.5" y2="693.5" stroke="#151515" stroke-width="2.3" stroke-linecap="butt"/>
<text class="s" x="2105.5" y="721.5" font-size="24" stroke="#161616" stroke-width="0.45" text-anchor="middle" fill="#161616">6</text>
<line x1="2200.0" y1="680.5" x2="2200.0" y2="693.5" stroke="#151515" stroke-width="2.3" stroke-linecap="butt"/>
<text class="s" x="2200.0" y="721.5" font-size="24" stroke="#161616" stroke-width="0.45" text-anchor="middle" fill="#161616">7</text>
<line x1="2294.5" y1="680.5" x2="2294.5" y2="693.5" stroke="#151515" stroke-width="2.3" stroke-linecap="butt"/>
<text class="s" x="2294.5" y="721.5" font-size="24" stroke="#161616" stroke-width="0.45" text-anchor="middle" fill="#161616">8</text>
<line x1="1585.8" y1="680.5" x2="1585.8" y2="687.5" stroke="#151515" stroke-width="2.1" stroke-linecap="butt"/>
<line x1="1680.2" y1="680.5" x2="1680.2" y2="687.5" stroke="#151515" stroke-width="2.1" stroke-linecap="butt"/>
<line x1="1774.8" y1="680.5" x2="1774.8" y2="687.5" stroke="#151515" stroke-width="2.1" stroke-linecap="butt"/>
<line x1="1869.2" y1="680.5" x2="1869.2" y2="687.5" stroke="#151515" stroke-width="2.1" stroke-linecap="butt"/>
<line x1="1963.8" y1="680.5" x2="1963.8" y2="687.5" stroke="#151515" stroke-width="2.1" stroke-linecap="butt"/>
<line x1="2058.2" y1="680.5" x2="2058.2" y2="687.5" stroke="#151515" stroke-width="2.1" stroke-linecap="butt"/>
<line x1="2152.8" y1="680.5" x2="2152.8" y2="687.5" stroke="#151515" stroke-width="2.1" stroke-linecap="butt"/>
<line x1="2247.2" y1="680.5" x2="2247.2" y2="687.5" stroke="#151515" stroke-width="2.1" stroke-linecap="butt"/>
<text class="s" x="1449.0" y="391.0" font-size="38" font-weight="bold" text-anchor="middle" transform="rotate(-90 1449.0 391.0)" fill="#111">Released Amount / %</text>
<text class="s" x="1914.5" y="63.0" font-size="48.5" font-weight="bold" text-anchor="middle" fill="#111">pH2</text>
<text class="s" x="1907.0" y="775.5" font-size="37" font-weight="bold" text-anchor="middle" fill="#111">Time / h</text>
<polyline points="1538.5,660.3 1544.1,647.0 1549.6,638.5 1555.2,631.1 1560.7,624.5 1566.3,618.3 1571.9,612.4 1577.4,606.8 1583.0,601.5 1588.5,596.3 1594.1,591.3 1599.6,586.4 1605.2,581.7 1610.8,577.1 1616.3,572.5 1621.9,568.1 1627.4,563.7 1633.0,559.4 1638.6,555.2 1644.1,551.1 1649.7,547.0 1655.2,543.0 1660.8,539.0 1666.4,535.1 1671.9,531.3 1677.5,527.4 1683.0,523.6 1688.6,519.9 1694.1,516.2 1699.7,512.6 1705.3,508.9 1710.8,505.3 1716.4,501.8 1721.9,498.3 1727.5,494.8 1733.1,491.3 1738.6,487.9 1744.2,484.4 1749.7,481.1 1755.3,477.7 1760.9,474.4 1766.4,471.0 1772.0,467.8 1777.5,464.5 1783.1,461.2 1788.6,458.0 1794.2,454.8 1799.8,451.6 1805.3,448.5 1810.9,445.3 1816.4,442.2 1822.0,439.1 1827.6,436.0 1833.1,432.9 1838.7,429.9 1844.2,426.8 1849.8,423.8 1855.4,420.8 1860.9,417.8 1866.5,414.8 1872.0,411.8 1877.6,408.9 1883.1,405.9 1888.7,403.0 1894.3,400.1 1899.8,397.2 1905.4,394.3 1910.9,391.4 1916.5,388.6 1922.1,385.7 1927.6,382.9 1933.2,380.0 1938.7,377.2 1944.3,374.4 1949.9,371.6 1955.4,368.8 1961.0,366.1 1966.5,363.3 1972.1,360.6 1977.6,357.8 1983.2,355.1 1988.8,352.4 1994.3,349.6 1999.9,346.9 2005.4,344.2 2011.0,341.6 2016.6,338.9 2022.1,336.2 2027.7,333.6 2033.2,330.9 2038.8,328.3 2044.4,325.6 2049.9,323.0 2055.5,320.4 2061.0,317.8 2066.6,315.2 2072.1,312.6 2077.7,310.0 2083.3,307.4 2088.8,304.8 2094.4,302.3 2099.9,299.7 2105.5,297.2 2111.1,294.6 2116.6,292.1 2122.2,289.6 2127.7,287.1 2133.3,284.5 2138.9,282.0 2144.4,279.5 2150.0,277.0 2155.5,274.5 2161.1,272.1 2166.6,269.6 2172.2,267.1 2177.8,264.7 2183.3,262.2 2188.9,259.7 2194.4,257.3 2200.0,254.9" fill="none" stroke="#f43c3c" stroke-width="2.2"/>
<line x1="1585.8" y1="658.3" x2="1585.8" y2="595.8" stroke="#555" stroke-width="2.4" stroke-linecap="butt"/>
<line x1="1579.2" y1="658.3" x2="1592.2" y2="658.3" stroke="#888" stroke-width="2.0" stroke-linecap="butt"/>
<line x1="1633.0" y1="631.1" x2="1633.0" y2="561.5" stroke="#c4c4c4" stroke-width="2.4" stroke-linecap="butt"/>
<line x1="1626.5" y1="631.1" x2="1639.5" y2="631.1" stroke="#c4c4c4" stroke-width="2.0" stroke-linecap="butt"/>
<line x1="1626.5" y1="561.5" x2="1639.5" y2="561.5" stroke="#888" stroke-width="2.0" stroke-linecap="butt"/>
<line x1="1721.0" y1="473.7" x2="1734.0" y2="473.7" stroke="#ddd" stroke-width="2.0" stroke-linecap="butt"/>
<line x1="1822.0" y1="417.3" x2="1822.0" y2="353.7" stroke="#222" stroke-width="2.4" stroke-linecap="butt"/>
<line x1="1815.5" y1="417.3" x2="1828.5" y2="417.3" stroke="#222" stroke-width="2.0" stroke-linecap="butt"/>
<line x1="1916.5" y1="482.8" x2="1916.5" y2="325.5" stroke="#222" stroke-width="2.4" stroke-linecap="butt"/>
<line x1="1910.0" y1="325.5" x2="1923.0" y2="325.5" stroke="#222" stroke-width="2.0" stroke-linecap="butt"/>
<line x1="2004.5" y1="464.7" x2="2017.5" y2="464.7" stroke="#222" stroke-width="2.0" stroke-linecap="butt"/>
<line x1="2004.5" y1="302.3" x2="2017.5" y2="302.3" stroke="#222" stroke-width="2.0" stroke-linecap="butt"/>
<line x1="2105.5" y1="305.3" x2="2105.5" y2="141.9" stroke="#c4c4c4" stroke-width="2.4" stroke-linecap="butt"/>
<line x1="2099.0" y1="305.3" x2="2112.0" y2="305.3" stroke="#c4c4c4" stroke-width="2.0" stroke-linecap="butt"/>
<line x1="2099.0" y1="141.9" x2="2112.0" y2="141.9" stroke="#222" stroke-width="2.0" stroke-linecap="butt"/>
<line x1="2200.0" y1="431.4" x2="2200.0" y2="294.2" stroke="#222" stroke-width="2.4" stroke-linecap="butt"/>
<line x1="2193.5" y1="431.4" x2="2206.5" y2="431.4" stroke="#222" stroke-width="2.0" stroke-linecap="butt"/>
<circle cx="1538.5" cy="660.3" r="7.8" fill="#0a0a0a"/>
<circle cx="1585.8" cy="626.0" r="7.8" fill="#0a0a0a"/>
<circle cx="1633.0" cy="596.8" r="7.8" fill="#0a0a0a"/>
<circle cx="1727.5" cy="383.0" r="7.8" fill="#0a0a0a"/>
<circle cx="1822.0" cy="386.0" r="7.8" fill="#0a0a0a"/>
<circle cx="1916.5" cy="404.1" r="7.8" fill="#0a0a0a"/>
<circle cx="2011.0" cy="383.0" r="7.8" fill="#0a0a0a"/>
<circle cx="2105.5" cy="223.6" r="7.8" fill="#0a0a0a"/>
<circle cx="2200.0" cy="361.8" r="7.8" fill="#0a0a0a"/>
<text class="s" transform="translate(1995.4 532) scale(1.035 1)" font-size="47" font-weight="bold" fill="#111">R<tspan dy="-17" font-size="46">2</tspan><tspan dy="17"> = 0.830</tspan></text>
<line x1="1504.4" y1="890.5" x2="1504.4" y2="1541.9" stroke="#151515" stroke-width="2.9" stroke-linecap="butt"/>
<line x1="1503.0" y1="1540.5" x2="2301.0" y2="1540.5" stroke="#151515" stroke-width="2.9" stroke-linecap="butt"/>
<line x1="1491.4" y1="1520.6" x2="1504.4" y2="1520.6" stroke="#151515" stroke-width="2.3" stroke-linecap="butt"/>
<text class="s" x="1482.0" y="1526.9" font-size="24" stroke="#161616" stroke-width="0.45" text-anchor="end" fill="#161616">0</text>
<line x1="1491.4" y1="1446.6" x2="1504.4" y2="1446.6" stroke="#151515" stroke-width="2.3" stroke-linecap="butt"/>
<text class="s" x="1482.0" y="1452.9" font-size="24" stroke="#161616" stroke-width="0.45" text-anchor="end" fill="#161616">2</text>
<line x1="1491.4" y1="1372.6" x2="1504.4" y2="1372.6" stroke="#151515" stroke-width="2.3" stroke-linecap="butt"/>
<text class="s" x="1482.0" y="1378.9" font-size="24" stroke="#161616" stroke-width="0.45" text-anchor="end" fill="#161616">4</text>
<line x1="1491.4" y1="1298.6" x2="1504.4" y2="1298.6" stroke="#151515" stroke-width="2.3" stroke-linecap="butt"/>
<text class="s" x="1482.0" y="1304.9" font-size="24" stroke="#161616" stroke-width="0.45" text-anchor="end" fill="#161616">6</text>
<line x1="1491.4" y1="1224.6" x2="1504.4" y2="1224.6" stroke="#151515" stroke-width="2.3" stroke-linecap="butt"/>
<text class="s" x="1482.0" y="1230.9" font-size="24" stroke="#161616" stroke-width="0.45" text-anchor="end" fill="#161616">8</text>
<line x1="1491.4" y1="1150.6" x2="1504.4" y2="1150.6" stroke="#151515" stroke-width="2.3" stroke-linecap="butt"/>
<text class="s" x="1482.0" y="1156.9" font-size="24" stroke="#161616" stroke-width="0.45" text-anchor="end" fill="#161616">10</text>
<line x1="1491.4" y1="1076.6" x2="1504.4" y2="1076.6" stroke="#151515" stroke-width="2.3" stroke-linecap="butt"/>
<text class="s" x="1482.0" y="1082.9" font-size="24" stroke="#161616" stroke-width="0.45" text-anchor="end" fill="#161616">12</text>
<line x1="1491.4" y1="1002.6" x2="1504.4" y2="1002.6" stroke="#151515" stroke-width="2.3" stroke-linecap="butt"/>
<text class="s" x="1482.0" y="1008.9" font-size="24" stroke="#161616" stroke-width="0.45" text-anchor="end" fill="#161616">14</text>
<line x1="1491.4" y1="928.6" x2="1504.4" y2="928.6" stroke="#151515" stroke-width="2.3" stroke-linecap="butt"/>
<text class="s" x="1482.0" y="934.9" font-size="24" stroke="#161616" stroke-width="0.45" text-anchor="end" fill="#161616">16</text>
<line x1="1497.4" y1="1483.6" x2="1504.4" y2="1483.6" stroke="#151515" stroke-width="2.1" stroke-linecap="butt"/>
<line x1="1497.4" y1="1409.6" x2="1504.4" y2="1409.6" stroke="#151515" stroke-width="2.1" stroke-linecap="butt"/>
<line x1="1497.4" y1="1335.6" x2="1504.4" y2="1335.6" stroke="#151515" stroke-width="2.1" stroke-linecap="butt"/>
<line x1="1497.4" y1="1261.6" x2="1504.4" y2="1261.6" stroke="#151515" stroke-width="2.1" stroke-linecap="butt"/>
<line x1="1497.4" y1="1187.6" x2="1504.4" y2="1187.6" stroke="#151515" stroke-width="2.1" stroke-linecap="butt"/>
<line x1="1497.4" y1="1113.6" x2="1504.4" y2="1113.6" stroke="#151515" stroke-width="2.1" stroke-linecap="butt"/>
<line x1="1497.4" y1="1039.6" x2="1504.4" y2="1039.6" stroke="#151515" stroke-width="2.1" stroke-linecap="butt"/>
<line x1="1497.4" y1="965.6" x2="1504.4" y2="965.6" stroke="#151515" stroke-width="2.1" stroke-linecap="butt"/>
<line x1="1522.7" y1="1540.5" x2="1522.7" y2="1553.5" stroke="#151515" stroke-width="2.3" stroke-linecap="butt"/>
<text class="s" x="1522.7" y="1580.0" font-size="24" stroke="#161616" stroke-width="0.45" text-anchor="middle" fill="#161616">0</text>
<line x1="1619.8" y1="1540.5" x2="1619.8" y2="1553.5" stroke="#151515" stroke-width="2.3" stroke-linecap="butt"/>
<text class="s" x="1619.8" y="1580.0" font-size="24" stroke="#161616" stroke-width="0.45" text-anchor="middle" fill="#161616">1</text>
<line x1="1716.9" y1="1540.5" x2="1716.9" y2="1553.5" stroke="#151515" stroke-width="2.3" stroke-linecap="butt"/>
<text class="s" x="1716.9" y="1580.0" font-size="24" stroke="#161616" stroke-width="0.45" text-anchor="middle" fill="#161616">2</text>
<line x1="1814.0" y1="1540.5" x2="1814.0" y2="1553.5" stroke="#151515" stroke-width="2.3" stroke-linecap="butt"/>
<text class="s" x="1814.0" y="1580.0" font-size="24" stroke="#161616" stroke-width="0.45" text-anchor="middle" fill="#161616">3</text>
<line x1="1911.1" y1="1540.5" x2="1911.1" y2="1553.5" stroke="#151515" stroke-width="2.3" stroke-linecap="butt"/>
<text class="s" x="1911.1" y="1580.0" font-size="24" stroke="#161616" stroke-width="0.45" text-anchor="middle" fill="#161616">4</text>
<line x1="2008.2" y1="1540.5" x2="2008.2" y2="1553.5" stroke="#151515" stroke-width="2.3" stroke-linecap="butt"/>
<text class="s" x="2008.2" y="1580.0" font-size="24" stroke="#161616" stroke-width="0.45" text-anchor="middle" fill="#161616">5</text>
<line x1="2105.3" y1="1540.5" x2="2105.3" y2="1553.5" stroke="#151515" stroke-width="2.3" stroke-linecap="butt"/>
<text class="s" x="2105.3" y="1580.0" font-size="24" stroke="#161616" stroke-width="0.45" text-anchor="middle" fill="#161616">6</text>
<line x1="2202.4" y1="1540.5" x2="2202.4" y2="1553.5" stroke="#151515" stroke-width="2.3" stroke-linecap="butt"/>
<text class="s" x="2202.4" y="1580.0" font-size="24" stroke="#161616" stroke-width="0.45" text-anchor="middle" fill="#161616">7</text>
<line x1="2299.5" y1="1540.5" x2="2299.5" y2="1553.5" stroke="#151515" stroke-width="2.3" stroke-linecap="butt"/>
<text class="s" x="2299.5" y="1580.0" font-size="24" stroke="#161616" stroke-width="0.45" text-anchor="middle" fill="#161616">8</text>
<line x1="1571.2" y1="1540.5" x2="1571.2" y2="1547.5" stroke="#151515" stroke-width="2.1" stroke-linecap="butt"/>
<line x1="1668.3" y1="1540.5" x2="1668.3" y2="1547.5" stroke="#151515" stroke-width="2.1" stroke-linecap="butt"/>
<line x1="1765.5" y1="1540.5" x2="1765.5" y2="1547.5" stroke="#151515" stroke-width="2.1" stroke-linecap="butt"/>
<line x1="1862.5" y1="1540.5" x2="1862.5" y2="1547.5" stroke="#151515" stroke-width="2.1" stroke-linecap="butt"/>
<line x1="1959.7" y1="1540.5" x2="1959.7" y2="1547.5" stroke="#151515" stroke-width="2.1" stroke-linecap="butt"/>
<line x1="2056.8" y1="1540.5" x2="2056.8" y2="1547.5" stroke="#151515" stroke-width="2.1" stroke-linecap="butt"/>
<line x1="2153.8" y1="1540.5" x2="2153.8" y2="1547.5" stroke="#151515" stroke-width="2.1" stroke-linecap="butt"/>
<line x1="2250.9" y1="1540.5" x2="2250.9" y2="1547.5" stroke="#151515" stroke-width="2.1" stroke-linecap="butt"/>
<text class="s" x="1430.0" y="1237.0" font-size="39" font-weight="bold" text-anchor="middle" transform="rotate(-90 1430.0 1237.0)" fill="#111">Released Amount / %</text>
<text class="s" x="1906.3" y="928.0" font-size="48.5" font-weight="bold" text-anchor="middle" fill="#111">pH3</text>
<text class="s" x="1902.0" y="1636.6" font-size="37" font-weight="bold" text-anchor="middle" fill="#111">Time / h</text>
<polyline points="1522.7,1520.6 1528.4,1510.0 1534.1,1502.0 1539.8,1494.6 1545.5,1487.7 1551.3,1481.2 1557.0,1474.8 1562.7,1468.7 1568.4,1462.7 1574.1,1456.8 1579.8,1451.1 1585.5,1445.4 1591.2,1439.9 1597.0,1434.4 1602.7,1429.1 1608.4,1423.7 1614.1,1418.5 1619.8,1413.3 1625.5,1408.2 1631.2,1403.1 1636.9,1398.0 1642.6,1393.1 1648.4,1388.1 1654.1,1383.2 1659.8,1378.3 1665.5,1373.5 1671.2,1368.7 1676.9,1363.9 1682.6,1359.2 1688.3,1354.5 1694.1,1349.8 1699.8,1345.2 1705.5,1340.6 1711.2,1336.0 1716.9,1331.4 1722.6,1326.9 1728.3,1322.4 1734.0,1317.9 1739.7,1313.4 1745.5,1309.0 1751.2,1304.5 1756.9,1300.1 1762.6,1295.7 1768.3,1291.4 1774.0,1287.0 1779.7,1282.7 1785.4,1278.4 1791.2,1274.1 1796.9,1269.8 1802.6,1265.5 1808.3,1261.3 1814.0,1257.0 1819.7,1252.8 1825.4,1248.6 1831.1,1244.4 1836.8,1240.2 1842.6,1236.1 1848.3,1231.9 1854.0,1227.8 1859.7,1223.7 1865.4,1219.6 1871.1,1215.5 1876.8,1211.4 1882.5,1207.3 1888.3,1203.2 1894.0,1199.2 1899.7,1195.2 1905.4,1191.1 1911.1,1187.1 1916.8,1183.1 1922.5,1179.1 1928.2,1175.1 1933.9,1171.1 1939.7,1167.2 1945.4,1163.2 1951.1,1159.3 1956.8,1155.3 1962.5,1151.4 1968.2,1147.5 1973.9,1143.6 1979.6,1139.7 1985.4,1135.8 1991.1,1131.9 1996.8,1128.0 2002.5,1124.2 2008.2,1120.3 2013.9,1116.5 2019.6,1112.6 2025.3,1108.8 2031.0,1105.0 2036.8,1101.2 2042.5,1097.4 2048.2,1093.6 2053.9,1089.8 2059.6,1086.0 2065.3,1082.2 2071.0,1078.4 2076.7,1074.7 2082.5,1070.9 2088.2,1067.2 2093.9,1063.4 2099.6,1059.7 2105.3,1055.9 2111.0,1052.2 2116.7,1048.5 2122.4,1044.8 2128.1,1041.1 2133.9,1037.4 2139.6,1033.7 2145.3,1030.0 2151.0,1026.3 2156.7,1022.7 2162.4,1019.0 2168.1,1015.3 2173.8,1011.7 2179.6,1008.0 2185.3,1004.4 2191.0,1000.8 2196.7,997.1 2202.4,993.5" fill="none" stroke="#f43c3c" stroke-width="2.2"/>
<line x1="1564.8" y1="1444.8" x2="1577.8" y2="1444.8" stroke="#222" stroke-width="2.0" stroke-linecap="butt"/>
<line x1="1564.8" y1="1414.0" x2="1577.8" y2="1414.0" stroke="#c4c4c4" stroke-width="2.0" stroke-linecap="butt"/>
<line x1="1613.3" y1="1447.7" x2="1626.3" y2="1447.7" stroke="#222" stroke-width="2.0" stroke-linecap="butt"/>
<line x1="1613.3" y1="1410.7" x2="1626.3" y2="1410.7" stroke="#222" stroke-width="2.0" stroke-linecap="butt"/>
<line x1="1710.4" y1="1466.9" x2="1723.4" y2="1466.9" stroke="#888" stroke-width="2.0" stroke-linecap="butt"/>
<line x1="1814.0" y1="1402.9" x2="1814.0" y2="1335.6" stroke="#888" stroke-width="2.4" stroke-linecap="butt"/>
<line x1="1807.5" y1="1402.9" x2="1820.5" y2="1402.9" stroke="#222" stroke-width="2.0" stroke-linecap="butt"/>
<line x1="1807.5" y1="1335.6" x2="1820.5" y2="1335.6" stroke="#888" stroke-width="2.0" stroke-linecap="butt"/>
<line x1="1911.1" y1="1377.4" x2="1911.1" y2="1178.3" stroke="#888" stroke-width="2.4" stroke-linecap="butt"/>
<line x1="1904.6" y1="1377.4" x2="1917.6" y2="1377.4" stroke="#c4c4c4" stroke-width="2.0" stroke-linecap="butt"/>
<line x1="1904.6" y1="1178.3" x2="1917.6" y2="1178.3" stroke="#c4c4c4" stroke-width="2.0" stroke-linecap="butt"/>
<line x1="2008.2" y1="1115.4" x2="2008.2" y2="1077.7" stroke="#222" stroke-width="2.4" stroke-linecap="butt"/>
<line x1="2001.7" y1="1115.4" x2="2014.7" y2="1115.4" stroke="#888" stroke-width="2.0" stroke-linecap="butt"/>
<line x1="2001.7" y1="1077.7" x2="2014.7" y2="1077.7" stroke="#888" stroke-width="2.0" stroke-linecap="butt"/>
<line x1="2105.3" y1="1248.6" x2="2105.3" y2="1003.7" stroke="#222" stroke-width="2.4" stroke-linecap="butt"/>
<line x1="2098.8" y1="1003.7" x2="2111.8" y2="1003.7" stroke="#888" stroke-width="2.0" stroke-linecap="butt"/>
<line x1="2202.4" y1="1128.4" x2="2202.4" y2="943.4" stroke="#222" stroke-width="2.4" stroke-linecap="butt"/>
<line x1="2195.9" y1="943.4" x2="2208.9" y2="943.4" stroke="#888" stroke-width="2.0" stroke-linecap="butt"/>
<circle cx="1522.7" cy="1520.6" r="7.8" fill="#0a0a0a"/>
<circle cx="1571.2" cy="1429.9" r="7.8" fill="#0a0a0a"/>
<circle cx="1619.8" cy="1429.9" r="7.8" fill="#0a0a0a"/>
<circle cx="1716.9" cy="1399.6" r="7.8" fill="#0a0a0a"/>
<circle cx="1814.0" cy="1368.9" r="7.8" fill="#0a0a0a"/>
<circle cx="1911.1" cy="1278.2" r="7.8" fill="#0a0a0a"/>
<circle cx="2008.2" cy="1096.9" r="7.8" fill="#0a0a0a"/>
<circle cx="2105.3" cy="1126.5" r="7.8" fill="#0a0a0a"/>
<circle cx="2202.4" cy="1035.9" r="7.8" fill="#0a0a0a"/>
<text class="s" x="0.0" y="0.0" font-size="47" font-weight="bold" transform="translate(2049.0 1333.8) scale(1.035 1)" fill="#111">R2 = 0.919</text>
<line x1="1511.2" y1="1765.2" x2="1511.2" y2="2402.4" stroke="#151515" stroke-width="2.9" stroke-linecap="butt"/>
<line x1="1509.8" y1="2401.0" x2="2300.0" y2="2401.0" stroke="#151515" stroke-width="2.9" stroke-linecap="butt"/>
<line x1="1498.2" y1="2376.4" x2="1511.2" y2="2376.4" stroke="#151515" stroke-width="2.3" stroke-linecap="butt"/>
<text class="s" x="1489.0" y="2382.7" font-size="24" stroke="#161616" stroke-width="0.45" text-anchor="end" fill="#161616">0</text>
<line x1="1498.2" y1="2254.3" x2="1511.2" y2="2254.3" stroke="#151515" stroke-width="2.3" stroke-linecap="butt"/>
<text class="s" x="1489.0" y="2260.7" font-size="24" stroke="#161616" stroke-width="0.45" text-anchor="end" fill="#161616">10</text>
<line x1="1498.2" y1="2132.3" x2="1511.2" y2="2132.3" stroke="#151515" stroke-width="2.3" stroke-linecap="butt"/>
<text class="s" x="1489.0" y="2138.6" font-size="24" stroke="#161616" stroke-width="0.45" text-anchor="end" fill="#161616">20</text>
<line x1="1498.2" y1="2010.2" x2="1511.2" y2="2010.2" stroke="#151515" stroke-width="2.3" stroke-linecap="butt"/>
<text class="s" x="1489.0" y="2016.5" font-size="24" stroke="#161616" stroke-width="0.45" text-anchor="end" fill="#161616">30</text>
<line x1="1498.2" y1="1888.2" x2="1511.2" y2="1888.2" stroke="#151515" stroke-width="2.3" stroke-linecap="butt"/>
<text class="s" x="1489.0" y="1894.5" font-size="24" stroke="#161616" stroke-width="0.45" text-anchor="end" fill="#161616">40</text>
<line x1="1498.2" y1="1766.2" x2="1511.2" y2="1766.2" stroke="#151515" stroke-width="2.3" stroke-linecap="butt"/>
<text class="s" x="1489.0" y="1772.5" font-size="24" stroke="#161616" stroke-width="0.45" text-anchor="end" fill="#161616">50</text>
<line x1="1504.2" y1="2315.4" x2="1511.2" y2="2315.4" stroke="#151515" stroke-width="2.1" stroke-linecap="butt"/>
<line x1="1504.2" y1="2193.3" x2="1511.2" y2="2193.3" stroke="#151515" stroke-width="2.1" stroke-linecap="butt"/>
<line x1="1504.2" y1="2071.3" x2="1511.2" y2="2071.3" stroke="#151515" stroke-width="2.1" stroke-linecap="butt"/>
<line x1="1504.2" y1="1949.2" x2="1511.2" y2="1949.2" stroke="#151515" stroke-width="2.1" stroke-linecap="butt"/>
<line x1="1504.2" y1="1827.2" x2="1511.2" y2="1827.2" stroke="#151515" stroke-width="2.1" stroke-linecap="butt"/>
<line x1="1534.3" y1="2401.0" x2="1534.3" y2="2414.0" stroke="#151515" stroke-width="2.3" stroke-linecap="butt"/>
<text class="s" x="1534.3" y="2440.0" font-size="24" stroke="#161616" stroke-width="0.45" text-anchor="middle" fill="#161616">0</text>
<line x1="1651.9" y1="2401.0" x2="1651.9" y2="2414.0" stroke="#151515" stroke-width="2.3" stroke-linecap="butt"/>
<text class="s" x="1651.9" y="2440.0" font-size="24" stroke="#161616" stroke-width="0.45" text-anchor="middle" fill="#161616">1</text>
<line x1="1769.5" y1="2401.0" x2="1769.5" y2="2414.0" stroke="#151515" stroke-width="2.3" stroke-linecap="butt"/>
<text class="s" x="1769.5" y="2440.0" font-size="24" stroke="#161616" stroke-width="0.45" text-anchor="middle" fill="#161616">2</text>
<line x1="1887.1" y1="2401.0" x2="1887.1" y2="2414.0" stroke="#151515" stroke-width="2.3" stroke-linecap="butt"/>
<text class="s" x="1887.1" y="2440.0" font-size="24" stroke="#161616" stroke-width="0.45" text-anchor="middle" fill="#161616">3</text>
<line x1="2004.7" y1="2401.0" x2="2004.7" y2="2414.0" stroke="#151515" stroke-width="2.3" stroke-linecap="butt"/>
<text class="s" x="2004.7" y="2440.0" font-size="24" stroke="#161616" stroke-width="0.45" text-anchor="middle" fill="#161616">4</text>
<line x1="2122.3" y1="2401.0" x2="2122.3" y2="2414.0" stroke="#151515" stroke-width="2.3" stroke-linecap="butt"/>
<text class="s" x="2122.3" y="2440.0" font-size="24" stroke="#161616" stroke-width="0.45" text-anchor="middle" fill="#161616">5</text>
<line x1="2239.9" y1="2401.0" x2="2239.9" y2="2414.0" stroke="#151515" stroke-width="2.3" stroke-linecap="butt"/>
<text class="s" x="2239.9" y="2440.0" font-size="24" stroke="#161616" stroke-width="0.45" text-anchor="middle" fill="#161616">6</text>
<line x1="1593.1" y1="2401.0" x2="1593.1" y2="2408.0" stroke="#151515" stroke-width="2.1" stroke-linecap="butt"/>
<line x1="1710.7" y1="2401.0" x2="1710.7" y2="2408.0" stroke="#151515" stroke-width="2.1" stroke-linecap="butt"/>
<line x1="1828.3" y1="2401.0" x2="1828.3" y2="2408.0" stroke="#151515" stroke-width="2.1" stroke-linecap="butt"/>
<line x1="1945.9" y1="2401.0" x2="1945.9" y2="2408.0" stroke="#151515" stroke-width="2.1" stroke-linecap="butt"/>
<line x1="2063.5" y1="2401.0" x2="2063.5" y2="2408.0" stroke="#151515" stroke-width="2.1" stroke-linecap="butt"/>
<line x1="2181.1" y1="2401.0" x2="2181.1" y2="2408.0" stroke="#151515" stroke-width="2.1" stroke-linecap="butt"/>
<text class="s" x="1440.0" y="2110.0" font-size="38" font-weight="bold" text-anchor="middle" transform="rotate(-90 1440.0 2110.0)" fill="#111">Released Amount / %</text>
<text class="s" x="1909.0" y="1803.0" font-size="48.5" font-weight="bold" text-anchor="middle" fill="#111">pH4</text>
<text class="s" x="1906.3" y="2497.0" font-size="37" font-weight="bold" text-anchor="middle" fill="#111">Time / h</text>
<polyline points="1537.8,2157.1 1539.3,2147.2 1540.7,2139.6 1542.2,2133.3 1543.6,2128.0 1545.0,2123.3 1546.5,2119.2 1547.9,2115.5 1549.4,2112.1 1550.8,2108.9 1552.3,2106.0 1553.7,2103.3 1555.2,2100.8 1556.6,2098.4 1558.0,2096.2 1559.5,2094.0 1560.9,2092.0 1562.4,2090.1 1563.8,2088.2 1565.3,2086.5 1566.7,2084.8 1568.2,2083.1 1569.6,2081.5 1571.0,2080.0 1572.5,2078.5 1573.9,2077.1 1575.4,2075.7 1576.8,2074.4 1578.3,2073.1 1579.7,2071.8 1581.1,2070.6 1582.6,2069.4 1584.0,2068.3 1585.5,2067.1 1586.9,2066.0 1588.4,2064.9 1589.8,2063.9 1591.3,2062.8 1592.7,2061.8 1594.1,2060.8 1595.6,2059.9 1597.0,2058.9 1598.5,2058.0 1599.9,2057.1 1601.4,2056.2 1602.8,2055.3 1604.2,2054.4 1605.7,2053.6 1607.1,2052.8 1608.6,2052.0 1610.0,2051.1 1611.5,2050.4 1612.9,2049.6 1614.4,2048.8 1615.8,2048.1 1617.2,2047.3 1618.7,2046.6 1620.1,2045.9 1621.6,2045.2 1623.0,2044.5 1624.5,2043.8 1625.9,2043.1 1627.4,2042.4 1628.8,2041.8 1630.2,2041.1 1631.7,2040.5 1633.1,2039.8 1634.6,2039.2 1636.0,2038.6 1637.5,2038.0 1638.9,2037.4 1640.3,2036.8 1641.8,2036.2 1643.2,2035.6 1644.7,2035.0 1646.1,2034.4 1647.6,2033.9 1649.0,2033.3 1650.5,2032.8 1651.9,2032.2" fill="none" stroke="#f03232" stroke-width="2.1"/>
<polyline points="1651.9,2032.2 1655.5,2030.9 1659.0,2029.6 1662.6,2028.3 1666.2,2027.1 1669.8,2025.9 1673.3,2024.7 1676.9,2023.6 1680.5,2022.5 1684.1,2021.4 1687.6,2020.3 1691.2,2019.2 1694.8,2018.2 1698.3,2017.2 1701.9,2016.2 1705.5,2015.2 1709.1,2014.2 1712.6,2013.3 1716.2,2012.4 1719.8,2011.5 1723.4,2010.6 1726.9,2009.7 1730.5,2008.8 1734.1,2008.0 1737.6,2007.1 1741.2,2006.3 1744.8,2005.5 1748.4,2004.7 1751.9,2003.9 1755.5,2003.1 1759.1,2002.3 1762.7,2001.6 1766.2,2000.8 1769.8,2000.1 1773.4,1999.4 1776.9,1998.6 1780.5,1997.9 1784.1,1997.2 1787.7,1996.5 1791.2,1995.9 1794.8,1995.2 1798.4,1994.5 1802.0,1993.9 1805.5,1993.2 1809.1,1992.6 1812.7,1991.9 1816.2,1991.3 1819.8,1990.7 1823.4,1990.0 1827.0,1989.4 1830.5,1988.8 1834.1,1988.2 1837.7,1987.6 1841.3,1987.1 1844.8,1986.5 1848.4,1985.9 1852.0,1985.3 1855.5,1984.8 1859.1,1984.2 1862.7,1983.7 1866.3,1983.1 1869.8,1982.6 1873.4,1982.0 1877.0,1981.5 1880.6,1981.0 1884.1,1980.5 1887.7,1979.9 1891.3,1979.4 1894.8,1978.9 1898.4,1978.4 1902.0,1977.9 1905.6,1977.4 1909.1,1976.9 1912.7,1976.4 1916.3,1976.0 1919.8,1975.5 1923.4,1975.0 1927.0,1974.5 1930.6,1974.1 1934.1,1973.6" fill="none" stroke="#f03232" stroke-width="2.1" stroke-dasharray="3 2"/>
<polyline points="1934.1,1973.6 1938.0,1973.1 1941.9,1972.6 1945.8,1972.1 1949.6,1971.6 1953.5,1971.2 1957.4,1970.7 1961.2,1970.2 1965.1,1969.7 1969.0,1969.3 1972.8,1968.8 1976.7,1968.3 1980.6,1967.9 1984.5,1967.4 1988.3,1967.0 1992.2,1966.5 1996.1,1966.1 1999.9,1965.6 2003.8,1965.2 2007.7,1964.8 2011.5,1964.3 2015.4,1963.9 2019.3,1963.5 2023.2,1963.1 2027.0,1962.6 2030.9,1962.2 2034.8,1961.8 2038.6,1961.4 2042.5,1961.0 2046.4,1960.6 2050.3,1960.2 2054.1,1959.8 2058.0,1959.4 2061.9,1959.0 2065.7,1958.6 2069.6,1958.2 2073.5,1957.8 2077.3,1957.4 2081.2,1957.1 2085.1,1956.7 2089.0,1956.3 2092.8,1955.9 2096.7,1955.6 2100.6,1955.2 2104.4,1954.8 2108.3,1954.5 2112.2,1954.1 2116.0,1953.7 2119.9,1953.4 2123.8,1953.0 2127.7,1952.6 2131.5,1952.3 2135.4,1951.9 2139.3,1951.6 2143.1,1951.2 2147.0,1950.9 2150.9,1950.6 2154.8,1950.2 2158.6,1949.9 2162.5,1949.5 2166.4,1949.2 2170.2,1948.9 2174.1,1948.5 2178.0,1948.2 2181.8,1947.9 2185.7,1947.5 2189.6,1947.2 2193.5,1946.9 2197.3,1946.6 2201.2,1946.2 2205.1,1945.9 2208.9,1945.6 2212.8,1945.3 2216.7,1945.0 2220.5,1944.7 2224.4,1944.3 2228.3,1944.0 2232.2,1943.7 2236.0,1943.4 2239.9,1943.1" fill="none" stroke="#f03232" stroke-width="2.1" stroke-dasharray="11 5"/>
<line x1="1593.1" y1="2093.2" x2="1593.1" y2="2042.0" stroke="#888" stroke-width="2.4" stroke-linecap="butt"/>
<line x1="1586.6" y1="2093.2" x2="1599.6" y2="2093.2" stroke="#222" stroke-width="2.0" stroke-linecap="butt"/>
<line x1="1586.6" y1="2042.0" x2="1599.6" y2="2042.0" stroke="#888" stroke-width="2.0" stroke-linecap="butt"/>
<line x1="1651.9" y1="2051.7" x2="1651.9" y2="1896.7" stroke="#888" stroke-width="2.4" stroke-linecap="butt"/>
<line x1="1769.5" y1="2028.6" x2="1769.5" y2="1929.7" stroke="#c4c4c4" stroke-width="2.4" stroke-linecap="butt"/>
<line x1="1763.0" y1="2028.6" x2="1776.0" y2="2028.6" stroke="#222" stroke-width="2.0" stroke-linecap="butt"/>
<line x1="1763.0" y1="1929.7" x2="1776.0" y2="1929.7" stroke="#c4c4c4" stroke-width="2.0" stroke-linecap="butt"/>
<line x1="1887.1" y1="2064.0" x2="1887.1" y2="1939.5" stroke="#222" stroke-width="2.4" stroke-linecap="butt"/>
<line x1="1880.6" y1="2064.0" x2="1893.6" y2="2064.0" stroke="#222" stroke-width="2.0" stroke-linecap="butt"/>
<line x1="1880.6" y1="1939.5" x2="1893.6" y2="1939.5" stroke="#222" stroke-width="2.0" stroke-linecap="butt"/>
<line x1="2004.7" y1="2023.7" x2="2004.7" y2="1911.4" stroke="#222" stroke-width="2.4" stroke-linecap="butt"/>
<line x1="1998.2" y1="2023.7" x2="2011.2" y2="2023.7" stroke="#222" stroke-width="2.0" stroke-linecap="butt"/>
<line x1="1998.2" y1="1911.4" x2="2011.2" y2="1911.4" stroke="#222" stroke-width="2.0" stroke-linecap="butt"/>
<line x1="2122.3" y1="2028.6" x2="2122.3" y2="1906.5" stroke="#222" stroke-width="2.4" stroke-linecap="butt"/>
<line x1="2115.8" y1="2028.6" x2="2128.8" y2="2028.6" stroke="#222" stroke-width="2.0" stroke-linecap="butt"/>
<line x1="2115.8" y1="1906.5" x2="2128.8" y2="1906.5" stroke="#222" stroke-width="2.0" stroke-linecap="butt"/>
<line x1="2239.9" y1="2024.9" x2="2239.9" y2="1818.6" stroke="#222" stroke-width="2.4" stroke-linecap="butt"/>
<line x1="2233.4" y1="2024.9" x2="2246.4" y2="2024.9" stroke="#222" stroke-width="2.0" stroke-linecap="butt"/>
<line x1="2233.4" y1="1818.6" x2="2246.4" y2="1818.6" stroke="#222" stroke-width="2.0" stroke-linecap="butt"/>
<circle cx="1534.3" cy="2376.4" r="7.8" fill="#0a0a0a"/>
<circle cx="1593.1" cy="2067.6" r="7.8" fill="#0a0a0a"/>
<circle cx="1651.9" cy="1973.6" r="7.8" fill="#0a0a0a"/>
<circle cx="1769.5" cy="1978.5" r="7.8" fill="#0a0a0a"/>
<circle cx="1887.1" cy="2001.7" r="7.8" fill="#0a0a0a"/>
<circle cx="2004.7" cy="1967.5" r="7.8" fill="#0a0a0a"/>
<circle cx="2122.3" cy="1967.5" r="7.8" fill="#0a0a0a"/>
<circle cx="2239.9" cy="1922.4" r="7.8" fill="#0a0a0a"/>
<text class="s" transform="translate(1997.5 2181.7) scale(1.035 1)" font-size="47" font-weight="bold" fill="#111">R<tspan dy="-17" font-size="46">2</tspan><tspan dy="17"> = 0.854</tspan></text>
<text class="r" x="743.6" y="866.5" font-size="68" font-weight="bold" text-anchor="middle" fill="#000" letter-spacing="1.5"><tspan font-weight="normal">(</tspan>a<tspan font-weight="normal">)</tspan></text>
<text class="r" x="1861.7" y="866.0" font-size="68" font-weight="bold" text-anchor="middle" fill="#000" letter-spacing="1.5"><tspan font-weight="normal">(</tspan>b<tspan font-weight="normal">)</tspan></text>
<text class="r" x="743.6" y="1717.5" font-size="68" font-weight="bold" text-anchor="middle" fill="#000" letter-spacing="1.5"><tspan font-weight="normal">(</tspan>c<tspan font-weight="normal">)</tspan></text>
<text class="r" x="1861.7" y="1717.5" font-size="68" font-weight="bold" text-anchor="middle" fill="#000" letter-spacing="1.5"><tspan font-weight="normal">(</tspan>d<tspan font-weight="normal">)</tspan></text>
<text class="r" x="743.6" y="2580.5" font-size="68" font-weight="bold" text-anchor="middle" fill="#000" letter-spacing="1.5"><tspan font-weight="normal">(</tspan>e<tspan font-weight="normal">)</tspan></text>
<text class="r" x="1861.7" y="2580.5" font-size="68" font-weight="bold" text-anchor="middle" fill="#000" letter-spacing="1.5"><tspan font-weight="normal">(</tspan>f<tspan font-weight="normal">)</tspan></text>
<text class="r" x="17.0" y="433.0" font-size="68" font-weight="bold" fill="#000">pH2</text>
<text class="r" x="17.0" y="1294.0" font-size="68" font-weight="bold" fill="#000">pH3</text>
<text class="r" x="17.0" y="2150.5" font-size="68" font-weight="bold" fill="#000">pH4</text>
</g>
</svg>
</body></html>
